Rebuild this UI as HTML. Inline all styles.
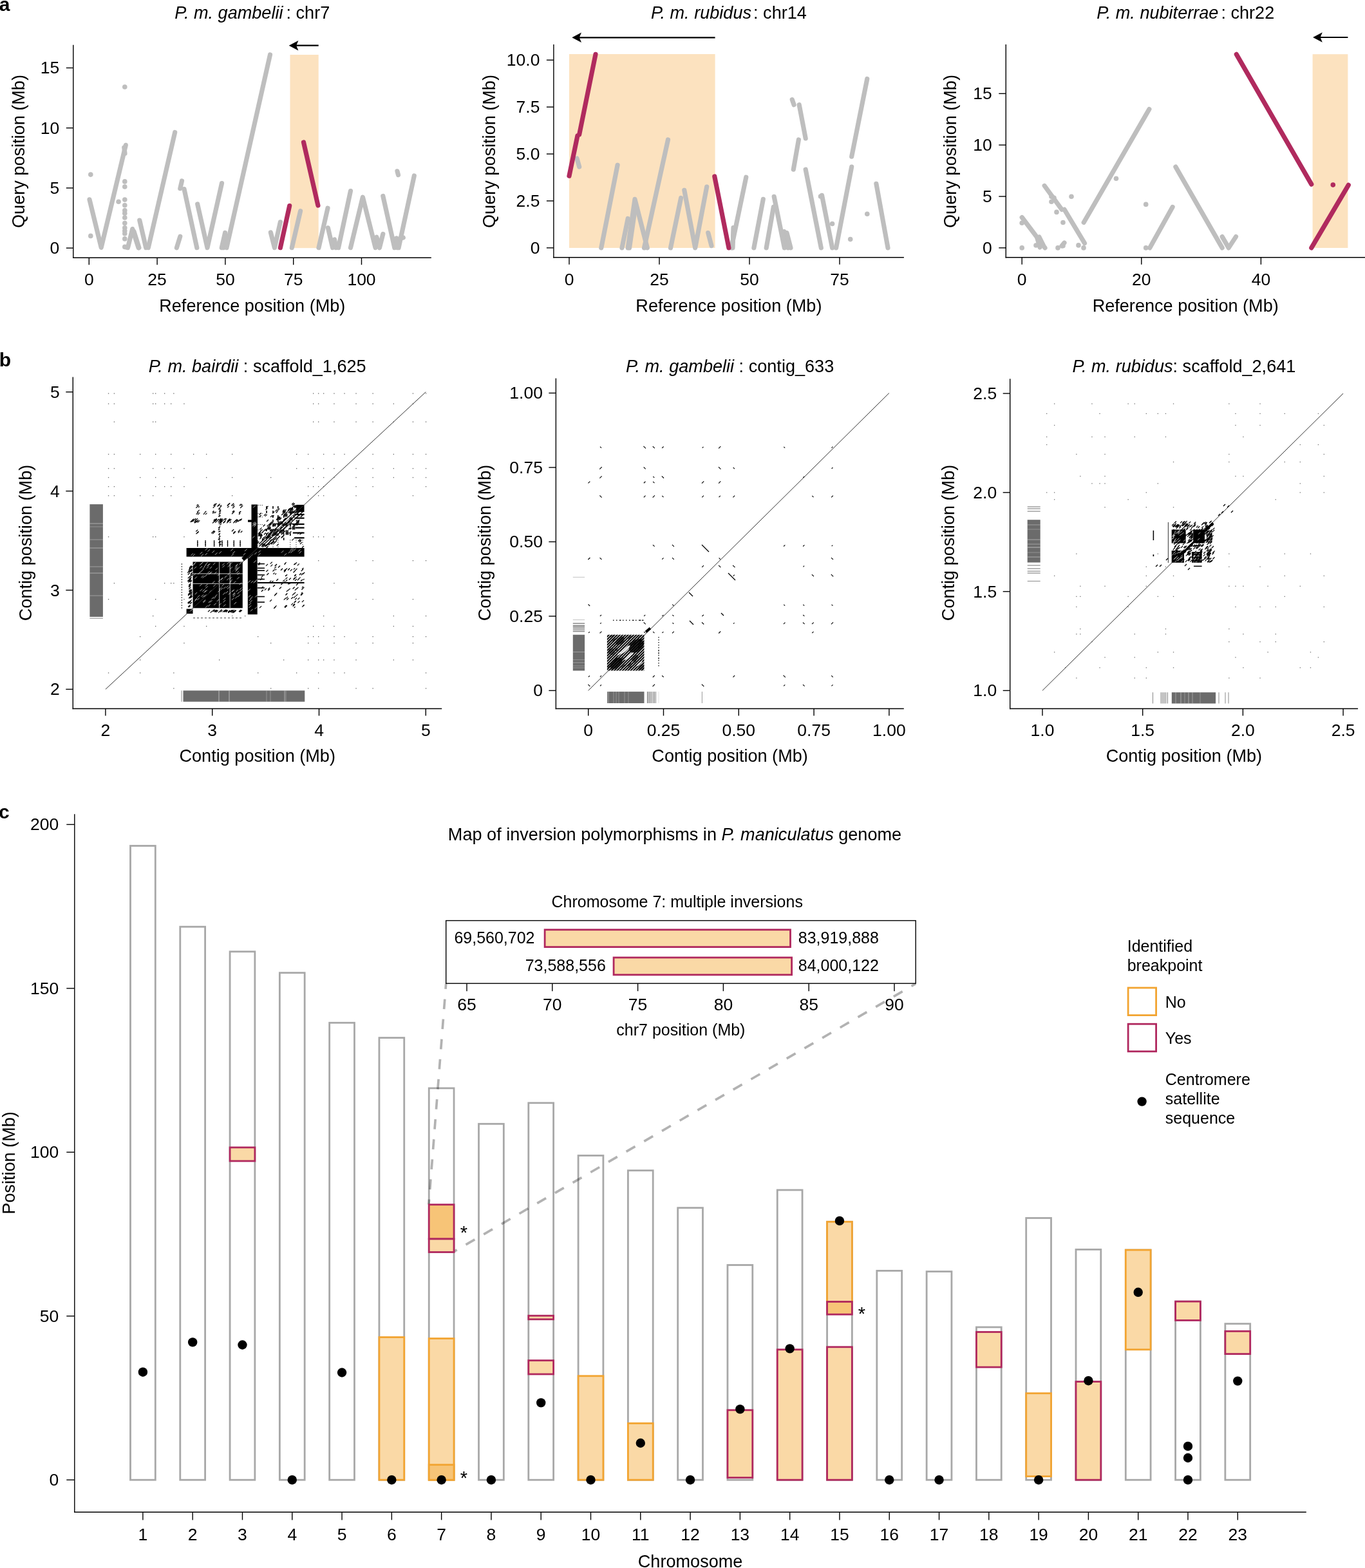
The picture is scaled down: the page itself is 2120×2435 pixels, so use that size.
<!DOCTYPE html>
<html><head><meta charset="utf-8"><title>Inversion polymorphisms figure</title>
<style>
html,body{margin:0;padding:0;background:#fff;}
svg{display:block;}
svg text{font-family:"Liberation Sans", Arial, Helvetica, sans-serif;fill:#000;}
</style></head>
<body>
<svg width="2120" height="2435" viewBox="0 0 2120 2435">
<rect x="0" y="0" width="2120" height="2435" fill="#fff"/>
<text x="-1.2" y="17.2" font-size="30" font-weight="bold">a</text>
<rect x="450.5" y="85" width="44.2" height="300.2" fill="#fce2bf" stroke="none" stroke-width="0"/>
<path d="M139,309.8 L157.2,384.4 L195.3,225.3" fill="none" stroke="#bebebe" stroke-width="7.2" stroke-linecap="round" stroke-linejoin="round"/>
<path d="M198.5,384.7 L205.7,355.6 L215,384.7" fill="none" stroke="#bebebe" stroke-width="7.2" stroke-linecap="round" stroke-linejoin="round"/>
<path d="M207.9,359.2 L215.9,384.7" fill="none" stroke="#bebebe" stroke-width="7.2" stroke-linecap="round" stroke-linejoin="round"/>
<path d="M216.8,342.1 L226.7,384.7" fill="none" stroke="#bebebe" stroke-width="7.2" stroke-linecap="round" stroke-linejoin="round"/>
<path d="M230.3,384.7 L271.7,205.5" fill="none" stroke="#bebebe" stroke-width="7.2" stroke-linecap="round" stroke-linejoin="round"/>
<path d="M274.4,384.7 L279.8,367.3" fill="none" stroke="#bebebe" stroke-width="7.2" stroke-linecap="round" stroke-linejoin="round"/>
<path d="M279.8,292.7 L282.5,281" fill="none" stroke="#bebebe" stroke-width="7.2" stroke-linecap="round" stroke-linejoin="round"/>
<path d="M286,293.6 L305.8,384.7" fill="none" stroke="#bebebe" stroke-width="7.2" stroke-linecap="round" stroke-linejoin="round"/>
<path d="M306.7,317 L322,384.7 L344.5,284.6" fill="none" stroke="#bebebe" stroke-width="7.2" stroke-linecap="round" stroke-linejoin="round"/>
<path d="M344.3,384.7 L349.6,361.5" fill="none" stroke="#bebebe" stroke-width="7.2" stroke-linecap="round" stroke-linejoin="round"/>
<path d="M346.8,384.7 L351,366" fill="none" stroke="#bebebe" stroke-width="7.2" stroke-linecap="round" stroke-linejoin="round"/>
<path d="M351.9,384.7 L419.5,85" fill="none" stroke="#bebebe" stroke-width="7.2" stroke-linecap="round" stroke-linejoin="round"/>
<path d="M420.4,361 L426.4,384.7 L435.4,344.8" fill="none" stroke="#bebebe" stroke-width="7.2" stroke-linecap="round" stroke-linejoin="round"/>
<path d="M453.3,384.7 L466.6,327.7" fill="none" stroke="#bebebe" stroke-width="7.2" stroke-linecap="round" stroke-linejoin="round"/>
<path d="M495,384.7 L509,323.2" fill="none" stroke="#bebebe" stroke-width="7.2" stroke-linecap="round" stroke-linejoin="round"/>
<path d="M509.4,353.8 L516.6,384.7" fill="none" stroke="#bebebe" stroke-width="7.2" stroke-linecap="round" stroke-linejoin="round"/>
<path d="M519.5,372 L522,384.7" fill="none" stroke="#bebebe" stroke-width="7.2" stroke-linecap="round" stroke-linejoin="round"/>
<path d="M525.6,384.7 L544.5,296.6" fill="none" stroke="#bebebe" stroke-width="7.2" stroke-linecap="round" stroke-linejoin="round"/>
<path d="M544.5,384.7 L563.4,306.2 L583.1,384.7" fill="none" stroke="#bebebe" stroke-width="7.2" stroke-linecap="round" stroke-linejoin="round"/>
<path d="M584.9,368.1 L589.5,384.7 L594.8,363.4" fill="none" stroke="#bebebe" stroke-width="7.2" stroke-linecap="round" stroke-linejoin="round"/>
<path d="M594.8,304.4 L612.8,384.7" fill="none" stroke="#bebebe" stroke-width="7.2" stroke-linecap="round" stroke-linejoin="round"/>
<path d="M619.1,384.7 L643.3,272.9" fill="none" stroke="#bebebe" stroke-width="7.2" stroke-linecap="round" stroke-linejoin="round"/>
<path d="M617,265.8 L618.5,271.7" fill="none" stroke="#bebebe" stroke-width="7.2" stroke-linecap="round" stroke-linejoin="round"/>
<path d="M615.5,370 L617.5,384.7" fill="none" stroke="#bebebe" stroke-width="7.2" stroke-linecap="round" stroke-linejoin="round"/>
<path d="M621,370.5 L626.3,369" fill="none" stroke="#bebebe" stroke-width="7.2" stroke-linecap="round" stroke-linejoin="round"/>
<path d="M192.8,229 L194,238.4" fill="none" stroke="#bebebe" stroke-width="7.2" stroke-linecap="round" stroke-linejoin="round"/>
<circle cx="193.8" cy="135" r="3.8" fill="#bebebe"/>
<circle cx="193.8" cy="281.9" r="3.8" fill="#bebebe"/>
<circle cx="193.8" cy="290" r="3.8" fill="#bebebe"/>
<circle cx="193.8" cy="310.1" r="3.8" fill="#bebebe"/>
<circle cx="193.8" cy="318.7" r="3.8" fill="#bebebe"/>
<circle cx="193.8" cy="326.8" r="3.8" fill="#bebebe"/>
<circle cx="193.8" cy="331.3" r="3.8" fill="#bebebe"/>
<circle cx="193.8" cy="346.6" r="3.8" fill="#bebebe"/>
<circle cx="193.8" cy="353.8" r="3.8" fill="#bebebe"/>
<circle cx="193.8" cy="362.8" r="3.8" fill="#bebebe"/>
<circle cx="193.8" cy="370.9" r="3.8" fill="#bebebe"/>
<circle cx="193.8" cy="383.4" r="3.8" fill="#bebebe"/>
<circle cx="193.8" cy="358.5" r="3.8" fill="#bebebe"/>
<circle cx="193.8" cy="338" r="3.8" fill="#bebebe"/>
<circle cx="140.8" cy="271.1" r="3.8" fill="#bebebe"/>
<circle cx="140.8" cy="366.4" r="3.8" fill="#bebebe"/>
<circle cx="184.1" cy="313.3" r="3.8" fill="#bebebe"/>
<circle cx="196.5" cy="384" r="3.8" fill="#bebebe"/>
<path d="M449.7,319.6 L435.4,384.7" fill="none" stroke="#b02a5e" stroke-width="7.2" stroke-linecap="round" stroke-linejoin="round"/>
<path d="M471.5,220.9 L493.9,319" fill="none" stroke="#b02a5e" stroke-width="7.2" stroke-linecap="round" stroke-linejoin="round"/>
<line x1="459.2" y1="70.7" x2="494.7" y2="70.7" stroke="#000" stroke-width="2.2" stroke-linecap="butt"/>
<path d="M448.7,70.7 L463.4,62.9 L460.2,70.7 L463.4,78.5 Z" fill="#000"/>
<line x1="113.8" y1="69.8" x2="113.8" y2="400.9" stroke="#000" stroke-width="1.4" stroke-linecap="butt"/>
<line x1="113.1" y1="400.2" x2="669.8" y2="400.2" stroke="#000" stroke-width="1.4" stroke-linecap="butt"/>
<line x1="102.8" y1="385.2" x2="113.8" y2="385.2" stroke="#000" stroke-width="1.4" stroke-linecap="butt"/>
<text x="92.3" y="394.2" font-size="26.5" text-anchor="end">0</text>
<line x1="102.8" y1="291.95" x2="113.8" y2="291.95" stroke="#000" stroke-width="1.4" stroke-linecap="butt"/>
<text x="92.3" y="300.95" font-size="26.5" text-anchor="end">5</text>
<line x1="102.8" y1="198.7" x2="113.8" y2="198.7" stroke="#000" stroke-width="1.4" stroke-linecap="butt"/>
<text x="92.3" y="207.7" font-size="26.5" text-anchor="end">10</text>
<line x1="102.8" y1="105.45" x2="113.8" y2="105.45" stroke="#000" stroke-width="1.4" stroke-linecap="butt"/>
<text x="92.3" y="114.45" font-size="26.5" text-anchor="end">15</text>
<line x1="138.3" y1="400.2" x2="138.3" y2="411.2" stroke="#000" stroke-width="1.4" stroke-linecap="butt"/>
<text x="138.3" y="443.4" font-size="26.5" text-anchor="middle">0</text>
<line x1="244.1" y1="400.2" x2="244.1" y2="411.2" stroke="#000" stroke-width="1.4" stroke-linecap="butt"/>
<text x="244.1" y="443.4" font-size="26.5" text-anchor="middle">25</text>
<line x1="349.9" y1="400.2" x2="349.9" y2="411.2" stroke="#000" stroke-width="1.4" stroke-linecap="butt"/>
<text x="349.9" y="443.4" font-size="26.5" text-anchor="middle">50</text>
<line x1="455.7" y1="400.2" x2="455.7" y2="411.2" stroke="#000" stroke-width="1.4" stroke-linecap="butt"/>
<text x="455.7" y="443.4" font-size="26.5" text-anchor="middle">75</text>
<line x1="561.5" y1="400.2" x2="561.5" y2="411.2" stroke="#000" stroke-width="1.4" stroke-linecap="butt"/>
<text x="561.5" y="443.4" font-size="26.5" text-anchor="middle">100</text>
<text transform="translate(37.5,235) rotate(-90)" x="0" y="0" font-size="27.1" text-anchor="middle">Query position (Mb)</text>
<text x="391.8" y="483.7" font-size="27.1" text-anchor="middle">Reference position (Mb)</text>
<text x="391.8" y="29.3" font-size="27.1" text-anchor="middle"><tspan font-style="italic">P. m. gambelii</tspan><tspan dx="5">: chr7</tspan></text>
<rect x="884" y="84" width="226.6" height="301" fill="#fce2bf" stroke="none" stroke-width="0"/>
<path d="M896,246 L899.7,259" fill="none" stroke="#bebebe" stroke-width="7.2" stroke-linecap="round" stroke-linejoin="round"/>
<path d="M933.8,384.9 L959.1,256.3" fill="none" stroke="#bebebe" stroke-width="7.2" stroke-linecap="round" stroke-linejoin="round"/>
<path d="M966,384.9 L975.2,339.5" fill="none" stroke="#bebebe" stroke-width="7.2" stroke-linecap="round" stroke-linejoin="round"/>
<path d="M975.2,384.9 L986,309.4 L1005.3,384.9" fill="none" stroke="#bebebe" stroke-width="7.2" stroke-linecap="round" stroke-linejoin="round"/>
<path d="M977.5,384.9 L985.5,330" fill="none" stroke="#bebebe" stroke-width="7.2" stroke-linecap="round" stroke-linejoin="round"/>
<path d="M1000.5,384.9 L1037.5,217" fill="none" stroke="#bebebe" stroke-width="7.2" stroke-linecap="round" stroke-linejoin="round"/>
<path d="M1041.5,384.9 L1057.6,307.4" fill="none" stroke="#bebebe" stroke-width="7.2" stroke-linecap="round" stroke-linejoin="round"/>
<path d="M1062.8,295.3 L1079.7,384.9 L1097.7,290.1" fill="none" stroke="#bebebe" stroke-width="7.2" stroke-linecap="round" stroke-linejoin="round"/>
<path d="M1099.8,361.6 L1105,381.7" fill="none" stroke="#bebebe" stroke-width="7.2" stroke-linecap="round" stroke-linejoin="round"/>
<path d="M1135.9,384.9 L1158.8,275.2" fill="none" stroke="#bebebe" stroke-width="7.2" stroke-linecap="round" stroke-linejoin="round"/>
<path d="M1138,384.9 L1139,353.6" fill="none" stroke="#bebebe" stroke-width="7.2" stroke-linecap="round" stroke-linejoin="round"/>
<path d="M1170.9,384.9 L1185.3,309.4" fill="none" stroke="#bebebe" stroke-width="7.2" stroke-linecap="round" stroke-linejoin="round"/>
<path d="M1190.2,384.9 L1201.4,321.4" fill="none" stroke="#bebebe" stroke-width="7.2" stroke-linecap="round" stroke-linejoin="round"/>
<path d="M1202.2,305.3 L1218.3,384.9" fill="none" stroke="#bebebe" stroke-width="7.2" stroke-linecap="round" stroke-linejoin="round"/>
<path d="M1218,359.6 L1224,384.9" fill="none" stroke="#bebebe" stroke-width="7.2" stroke-linecap="round" stroke-linejoin="round"/>
<path d="M1222,361.6 L1228,384.9" fill="none" stroke="#bebebe" stroke-width="7.2" stroke-linecap="round" stroke-linejoin="round"/>
<path d="M1230.3,154.7 L1233.1,162.7" fill="none" stroke="#bebebe" stroke-width="7.2" stroke-linecap="round" stroke-linejoin="round"/>
<path d="M1241.2,162.7 L1251.2,214.9" fill="none" stroke="#bebebe" stroke-width="7.2" stroke-linecap="round" stroke-linejoin="round"/>
<path d="M1240.4,217 L1232.3,263.2" fill="none" stroke="#bebebe" stroke-width="7.2" stroke-linecap="round" stroke-linejoin="round"/>
<path d="M1251.2,263.2 L1275.3,384.9" fill="none" stroke="#bebebe" stroke-width="7.2" stroke-linecap="round" stroke-linejoin="round"/>
<path d="M1276.5,303.3 L1292.6,384.9" fill="none" stroke="#bebebe" stroke-width="7.2" stroke-linecap="round" stroke-linejoin="round"/>
<path d="M1298.6,384.9 L1322.7,259.1" fill="none" stroke="#bebebe" stroke-width="7.2" stroke-linecap="round" stroke-linejoin="round"/>
<path d="M1322.7,243.1 L1346.8,122.5" fill="none" stroke="#bebebe" stroke-width="7.2" stroke-linecap="round" stroke-linejoin="round"/>
<path d="M1360.9,285.3 L1379,384.9" fill="none" stroke="#bebebe" stroke-width="7.2" stroke-linecap="round" stroke-linejoin="round"/>
<circle cx="1292.6" cy="347.5" r="3.8" fill="#bebebe"/>
<circle cx="1320.7" cy="371.6" r="3.8" fill="#bebebe"/>
<circle cx="1346.8" cy="332.3" r="3.8" fill="#bebebe"/>
<circle cx="1274.5" cy="305" r="3.8" fill="#bebebe"/>
<path d="M884,273.2 L896.9,210.9" fill="none" stroke="#b02a5e" stroke-width="7.2" stroke-linecap="round" stroke-linejoin="round"/>
<path d="M899.7,208.9 L925,84.4" fill="none" stroke="#b02a5e" stroke-width="7.2" stroke-linecap="round" stroke-linejoin="round"/>
<path d="M1109.8,274 L1131.9,384.9" fill="none" stroke="#b02a5e" stroke-width="7.2" stroke-linecap="round" stroke-linejoin="round"/>
<line x1="898.8" y1="58.3" x2="1110.6" y2="58.3" stroke="#000" stroke-width="2.2" stroke-linecap="butt"/>
<path d="M888.3,58.3 L903,50.5 L899.8,58.3 L903,66.1 Z" fill="#000"/>
<line x1="859.9" y1="69.1" x2="859.9" y2="400.5" stroke="#000" stroke-width="1.4" stroke-linecap="butt"/>
<line x1="859.2" y1="399.8" x2="1403.9" y2="399.8" stroke="#000" stroke-width="1.4" stroke-linecap="butt"/>
<line x1="848.9" y1="384.9" x2="859.9" y2="384.9" stroke="#000" stroke-width="1.4" stroke-linecap="butt"/>
<text x="838.4" y="393.9" font-size="26.5" text-anchor="end">0</text>
<line x1="848.9" y1="312" x2="859.9" y2="312" stroke="#000" stroke-width="1.4" stroke-linecap="butt"/>
<text x="838.4" y="321" font-size="26.5" text-anchor="end">2.5</text>
<line x1="848.9" y1="239.1" x2="859.9" y2="239.1" stroke="#000" stroke-width="1.4" stroke-linecap="butt"/>
<text x="838.4" y="248.1" font-size="26.5" text-anchor="end">5.0</text>
<line x1="848.9" y1="166.2" x2="859.9" y2="166.2" stroke="#000" stroke-width="1.4" stroke-linecap="butt"/>
<text x="838.4" y="175.2" font-size="26.5" text-anchor="end">7.5</text>
<line x1="848.9" y1="93.3" x2="859.9" y2="93.3" stroke="#000" stroke-width="1.4" stroke-linecap="butt"/>
<text x="838.4" y="102.3" font-size="26.5" text-anchor="end">10.0</text>
<line x1="884" y1="399.8" x2="884" y2="410.8" stroke="#000" stroke-width="1.4" stroke-linecap="butt"/>
<text x="884" y="443" font-size="26.5" text-anchor="middle">0</text>
<line x1="1024" y1="399.8" x2="1024" y2="410.8" stroke="#000" stroke-width="1.4" stroke-linecap="butt"/>
<text x="1024" y="443" font-size="26.5" text-anchor="middle">25</text>
<line x1="1164" y1="399.8" x2="1164" y2="410.8" stroke="#000" stroke-width="1.4" stroke-linecap="butt"/>
<text x="1164" y="443" font-size="26.5" text-anchor="middle">50</text>
<line x1="1304" y1="399.8" x2="1304" y2="410.8" stroke="#000" stroke-width="1.4" stroke-linecap="butt"/>
<text x="1304" y="443" font-size="26.5" text-anchor="middle">75</text>
<text transform="translate(768.8,235) rotate(-90)" x="0" y="0" font-size="27.1" text-anchor="middle">Query position (Mb)</text>
<text x="1131.9" y="483.7" font-size="27.1" text-anchor="middle">Reference position (Mb)</text>
<text x="1131.9" y="29.3" font-size="27.1" text-anchor="middle"><tspan font-style="italic">P. m. rubidus</tspan><tspan dx="3">: chr14</tspan></text>
<rect x="2038.6" y="84.2" width="54.8" height="300.8" fill="#fce2bf" stroke="none" stroke-width="0"/>
<path d="M1587.2,337.5 L1623,384.9" fill="none" stroke="#bebebe" stroke-width="7.2" stroke-linecap="round" stroke-linejoin="round"/>
<path d="M1611,370 L1615,384" fill="none" stroke="#bebebe" stroke-width="7.2" stroke-linecap="round" stroke-linejoin="round"/>
<path d="M1614,368 L1620,380" fill="none" stroke="#bebebe" stroke-width="7.2" stroke-linecap="round" stroke-linejoin="round"/>
<path d="M1622.2,288.5 L1649.1,325.4" fill="none" stroke="#bebebe" stroke-width="7.2" stroke-linecap="round" stroke-linejoin="round"/>
<path d="M1653.1,325.4 L1684.5,377.7" fill="none" stroke="#bebebe" stroke-width="7.2" stroke-linecap="round" stroke-linejoin="round"/>
<path d="M1683.2,345.5 L1784.9,169.5" fill="none" stroke="#bebebe" stroke-width="7.2" stroke-linecap="round" stroke-linejoin="round"/>
<path d="M1785.7,384.9 L1821.1,321.4" fill="none" stroke="#bebebe" stroke-width="7.2" stroke-linecap="round" stroke-linejoin="round"/>
<path d="M1825.9,259.1 L1898.2,384.9" fill="none" stroke="#bebebe" stroke-width="7.2" stroke-linecap="round" stroke-linejoin="round"/>
<path d="M1898.2,367.6 L1908.2,384.9 L1919.5,367.6" fill="none" stroke="#bebebe" stroke-width="7.2" stroke-linecap="round" stroke-linejoin="round"/>
<path d="M1649,382 L1653,377" fill="none" stroke="#bebebe" stroke-width="7.2" stroke-linecap="round" stroke-linejoin="round"/>
<circle cx="1587.2" cy="346.3" r="3.8" fill="#bebebe"/>
<circle cx="1587.2" cy="384.9" r="3.8" fill="#bebebe"/>
<circle cx="1633" cy="305.3" r="3.8" fill="#bebebe"/>
<circle cx="1637" cy="307.3" r="3.8" fill="#bebebe"/>
<circle cx="1633" cy="313.3" r="3.8" fill="#bebebe"/>
<circle cx="1641" cy="329.4" r="3.8" fill="#bebebe"/>
<circle cx="1651" cy="345.5" r="3.8" fill="#bebebe"/>
<circle cx="1664" cy="305.3" r="3.8" fill="#bebebe"/>
<circle cx="1643" cy="384.9" r="3.8" fill="#bebebe"/>
<circle cx="1651" cy="381.7" r="3.8" fill="#bebebe"/>
<circle cx="1675" cy="380.9" r="3.8" fill="#bebebe"/>
<circle cx="1683" cy="384.9" r="3.8" fill="#bebebe"/>
<circle cx="1733.5" cy="277.2" r="3.8" fill="#bebebe"/>
<circle cx="1779.7" cy="317.4" r="3.8" fill="#bebebe"/>
<circle cx="1779.7" cy="384.9" r="3.8" fill="#bebebe"/>
<circle cx="1609" cy="381" r="3.8" fill="#bebebe"/>
<path d="M1920.3,84.4 L2036.8,286.1" fill="none" stroke="#b02a5e" stroke-width="7.2" stroke-linecap="round" stroke-linejoin="round"/>
<path d="M2036.8,384.9 L2094.3,287.3" fill="none" stroke="#b02a5e" stroke-width="7.2" stroke-linecap="round" stroke-linejoin="round"/>
<circle cx="2070.3" cy="287.1" r="3.8" fill="#b02a5e"/>
<line x1="2049.6" y1="58" x2="2093.4" y2="58" stroke="#000" stroke-width="2.2" stroke-linecap="butt"/>
<path d="M2039.1,58 L2053.8,50.2 L2050.6,58 L2053.8,65.8 Z" fill="#000"/>
<line x1="1562.3" y1="69.1" x2="1562.3" y2="400.5" stroke="#000" stroke-width="1.4" stroke-linecap="butt"/>
<line x1="1561.6" y1="399.8" x2="2120" y2="399.8" stroke="#000" stroke-width="1.4" stroke-linecap="butt"/>
<line x1="1551.3" y1="384.9" x2="1562.3" y2="384.9" stroke="#000" stroke-width="1.4" stroke-linecap="butt"/>
<text x="1540.8" y="393.9" font-size="26.5" text-anchor="end">0</text>
<line x1="1551.3" y1="305.05" x2="1562.3" y2="305.05" stroke="#000" stroke-width="1.4" stroke-linecap="butt"/>
<text x="1540.8" y="314.05" font-size="26.5" text-anchor="end">5</text>
<line x1="1551.3" y1="225.2" x2="1562.3" y2="225.2" stroke="#000" stroke-width="1.4" stroke-linecap="butt"/>
<text x="1540.8" y="234.2" font-size="26.5" text-anchor="end">10</text>
<line x1="1551.3" y1="145.35" x2="1562.3" y2="145.35" stroke="#000" stroke-width="1.4" stroke-linecap="butt"/>
<text x="1540.8" y="154.35" font-size="26.5" text-anchor="end">15</text>
<line x1="1587.2" y1="399.8" x2="1587.2" y2="410.8" stroke="#000" stroke-width="1.4" stroke-linecap="butt"/>
<text x="1587.2" y="443" font-size="26.5" text-anchor="middle">0</text>
<line x1="1772.8" y1="399.8" x2="1772.8" y2="410.8" stroke="#000" stroke-width="1.4" stroke-linecap="butt"/>
<text x="1772.8" y="443" font-size="26.5" text-anchor="middle">20</text>
<line x1="1958.4" y1="399.8" x2="1958.4" y2="410.8" stroke="#000" stroke-width="1.4" stroke-linecap="butt"/>
<text x="1958.4" y="443" font-size="26.5" text-anchor="middle">40</text>
<text transform="translate(1484.9,235) rotate(-90)" x="0" y="0" font-size="27.1" text-anchor="middle">Query position (Mb)</text>
<text x="1841.2" y="483.7" font-size="27.1" text-anchor="middle">Reference position (Mb)</text>
<text x="1841.2" y="29.3" font-size="27.1" text-anchor="middle"><tspan font-style="italic">P. m. nubiterrae</tspan><tspan dx="4">: chr22</tspan></text>
<text x="-1.2" y="568.6" font-size="30" font-weight="bold">b</text>
<rect x="167.9" y="610.4" width="1.3" height="1.3" fill="#000" opacity="0.6"/>
<rect x="167.9" y="626.4" width="1.3" height="1.3" fill="#000" opacity="0.6"/>
<rect x="167.9" y="704.8" width="1.3" height="1.3" fill="#000" opacity="0.6"/>
<rect x="167.9" y="726.9" width="1.3" height="1.3" fill="#000" opacity="0.6"/>
<rect x="167.9" y="740.9" width="1.3" height="1.3" fill="#000" opacity="0.6"/>
<rect x="167.9" y="755" width="1.3" height="1.3" fill="#000" opacity="0.6"/>
<rect x="167.9" y="769.1" width="1.3" height="1.3" fill="#000" opacity="0.6"/>
<rect x="176.8" y="610.4" width="1.3" height="1.3" fill="#000" opacity="0.6"/>
<rect x="176.8" y="626.4" width="1.3" height="1.3" fill="#000" opacity="0.6"/>
<rect x="176.8" y="654.5" width="1.3" height="1.3" fill="#000" opacity="0.6"/>
<rect x="176.8" y="704.8" width="1.3" height="1.3" fill="#000" opacity="0.6"/>
<rect x="176.8" y="726.9" width="1.3" height="1.3" fill="#000" opacity="0.6"/>
<rect x="176.8" y="755" width="1.3" height="1.3" fill="#000" opacity="0.6"/>
<rect x="176.8" y="769.1" width="1.3" height="1.3" fill="#000" opacity="0.6"/>
<rect x="217" y="704.8" width="1.3" height="1.3" fill="#000" opacity="0.6"/>
<rect x="217" y="740.9" width="1.3" height="1.3" fill="#000" opacity="0.6"/>
<rect x="217" y="769.1" width="1.3" height="1.3" fill="#000" opacity="0.6"/>
<rect x="237" y="610.4" width="1.3" height="1.3" fill="#000" opacity="0.6"/>
<rect x="237" y="626.4" width="1.3" height="1.3" fill="#000" opacity="0.6"/>
<rect x="237" y="654.5" width="1.3" height="1.3" fill="#000" opacity="0.6"/>
<rect x="237" y="726.9" width="1.3" height="1.3" fill="#000" opacity="0.6"/>
<rect x="237" y="769.1" width="1.3" height="1.3" fill="#000" opacity="0.6"/>
<rect x="241" y="610.4" width="1.3" height="1.3" fill="#000" opacity="0.6"/>
<rect x="241" y="626.4" width="1.3" height="1.3" fill="#000" opacity="0.6"/>
<rect x="241" y="654.5" width="1.3" height="1.3" fill="#000" opacity="0.6"/>
<rect x="241" y="704.8" width="1.3" height="1.3" fill="#000" opacity="0.6"/>
<rect x="241" y="740.9" width="1.3" height="1.3" fill="#000" opacity="0.6"/>
<rect x="241" y="755" width="1.3" height="1.3" fill="#000" opacity="0.6"/>
<rect x="255" y="610.4" width="1.3" height="1.3" fill="#000" opacity="0.6"/>
<rect x="255" y="626.4" width="1.3" height="1.3" fill="#000" opacity="0.6"/>
<rect x="255" y="726.9" width="1.3" height="1.3" fill="#000" opacity="0.6"/>
<rect x="255" y="755" width="1.3" height="1.3" fill="#000" opacity="0.6"/>
<rect x="265" y="626.4" width="1.3" height="1.3" fill="#000" opacity="0.6"/>
<rect x="265" y="704.8" width="1.3" height="1.3" fill="#000" opacity="0.6"/>
<rect x="265" y="726.9" width="1.3" height="1.3" fill="#000" opacity="0.6"/>
<rect x="265" y="755" width="1.3" height="1.3" fill="#000" opacity="0.6"/>
<rect x="265" y="769.1" width="1.3" height="1.3" fill="#000" opacity="0.6"/>
<rect x="269.2" y="610.4" width="1.3" height="1.3" fill="#000" opacity="0.6"/>
<rect x="269.2" y="740.9" width="1.3" height="1.3" fill="#000" opacity="0.6"/>
<rect x="285.3" y="626.4" width="1.3" height="1.3" fill="#000" opacity="0.6"/>
<rect x="285.3" y="726.9" width="1.3" height="1.3" fill="#000" opacity="0.6"/>
<rect x="285.3" y="755" width="1.3" height="1.3" fill="#000" opacity="0.6"/>
<rect x="478" y="704.8" width="1.3" height="1.3" fill="#000" opacity="0.6"/>
<rect x="478" y="726.9" width="1.3" height="1.3" fill="#000" opacity="0.6"/>
<rect x="478" y="755" width="1.3" height="1.3" fill="#000" opacity="0.6"/>
<rect x="478" y="769.1" width="1.3" height="1.3" fill="#000" opacity="0.6"/>
<rect x="486" y="610.4" width="1.3" height="1.3" fill="#000" opacity="0.6"/>
<rect x="486" y="626.4" width="1.3" height="1.3" fill="#000" opacity="0.6"/>
<rect x="486" y="654.5" width="1.3" height="1.3" fill="#000" opacity="0.6"/>
<rect x="486" y="726.9" width="1.3" height="1.3" fill="#000" opacity="0.6"/>
<rect x="486" y="740.9" width="1.3" height="1.3" fill="#000" opacity="0.6"/>
<rect x="486" y="755" width="1.3" height="1.3" fill="#000" opacity="0.6"/>
<rect x="494" y="610.4" width="1.3" height="1.3" fill="#000" opacity="0.6"/>
<rect x="494" y="626.4" width="1.3" height="1.3" fill="#000" opacity="0.6"/>
<rect x="494" y="654.5" width="1.3" height="1.3" fill="#000" opacity="0.6"/>
<rect x="494" y="755" width="1.3" height="1.3" fill="#000" opacity="0.6"/>
<rect x="494" y="769.1" width="1.3" height="1.3" fill="#000" opacity="0.6"/>
<rect x="502" y="610.4" width="1.3" height="1.3" fill="#000" opacity="0.6"/>
<rect x="502" y="704.8" width="1.3" height="1.3" fill="#000" opacity="0.6"/>
<rect x="502" y="726.9" width="1.3" height="1.3" fill="#000" opacity="0.6"/>
<rect x="502" y="740.9" width="1.3" height="1.3" fill="#000" opacity="0.6"/>
<rect x="502" y="755" width="1.3" height="1.3" fill="#000" opacity="0.6"/>
<rect x="502" y="769.1" width="1.3" height="1.3" fill="#000" opacity="0.6"/>
<rect x="518.3" y="610.4" width="1.3" height="1.3" fill="#000" opacity="0.6"/>
<rect x="518.3" y="626.4" width="1.3" height="1.3" fill="#000" opacity="0.6"/>
<rect x="518.3" y="654.5" width="1.3" height="1.3" fill="#000" opacity="0.6"/>
<rect x="518.3" y="704.8" width="1.3" height="1.3" fill="#000" opacity="0.6"/>
<rect x="518.3" y="726.9" width="1.3" height="1.3" fill="#000" opacity="0.6"/>
<rect x="518.3" y="740.9" width="1.3" height="1.3" fill="#000" opacity="0.6"/>
<rect x="534.4" y="610.4" width="1.3" height="1.3" fill="#000" opacity="0.6"/>
<rect x="534.4" y="704.8" width="1.3" height="1.3" fill="#000" opacity="0.6"/>
<rect x="552.4" y="610.4" width="1.3" height="1.3" fill="#000" opacity="0.6"/>
<rect x="552.4" y="626.4" width="1.3" height="1.3" fill="#000" opacity="0.6"/>
<rect x="552.4" y="654.5" width="1.3" height="1.3" fill="#000" opacity="0.6"/>
<rect x="552.4" y="726.9" width="1.3" height="1.3" fill="#000" opacity="0.6"/>
<rect x="552.4" y="740.9" width="1.3" height="1.3" fill="#000" opacity="0.6"/>
<rect x="552.4" y="755" width="1.3" height="1.3" fill="#000" opacity="0.6"/>
<rect x="552.4" y="769.1" width="1.3" height="1.3" fill="#000" opacity="0.6"/>
<rect x="578.5" y="610.4" width="1.3" height="1.3" fill="#000" opacity="0.6"/>
<rect x="578.5" y="626.4" width="1.3" height="1.3" fill="#000" opacity="0.6"/>
<rect x="578.5" y="654.5" width="1.3" height="1.3" fill="#000" opacity="0.6"/>
<rect x="578.5" y="704.8" width="1.3" height="1.3" fill="#000" opacity="0.6"/>
<rect x="578.5" y="726.9" width="1.3" height="1.3" fill="#000" opacity="0.6"/>
<rect x="578.5" y="740.9" width="1.3" height="1.3" fill="#000" opacity="0.6"/>
<rect x="578.5" y="755" width="1.3" height="1.3" fill="#000" opacity="0.6"/>
<rect x="610.7" y="626.4" width="1.3" height="1.3" fill="#000" opacity="0.6"/>
<rect x="610.7" y="654.5" width="1.3" height="1.3" fill="#000" opacity="0.6"/>
<rect x="610.7" y="704.8" width="1.3" height="1.3" fill="#000" opacity="0.6"/>
<rect x="610.7" y="726.9" width="1.3" height="1.3" fill="#000" opacity="0.6"/>
<rect x="610.7" y="740.9" width="1.3" height="1.3" fill="#000" opacity="0.6"/>
<rect x="640.8" y="610.4" width="1.3" height="1.3" fill="#000" opacity="0.6"/>
<rect x="640.8" y="626.4" width="1.3" height="1.3" fill="#000" opacity="0.6"/>
<rect x="640.8" y="654.5" width="1.3" height="1.3" fill="#000" opacity="0.6"/>
<rect x="640.8" y="704.8" width="1.3" height="1.3" fill="#000" opacity="0.6"/>
<rect x="640.8" y="726.9" width="1.3" height="1.3" fill="#000" opacity="0.6"/>
<rect x="640.8" y="740.9" width="1.3" height="1.3" fill="#000" opacity="0.6"/>
<rect x="640.8" y="769.1" width="1.3" height="1.3" fill="#000" opacity="0.6"/>
<rect x="660.9" y="610.4" width="1.3" height="1.3" fill="#000" opacity="0.6"/>
<rect x="660.9" y="654.5" width="1.3" height="1.3" fill="#000" opacity="0.6"/>
<rect x="660.9" y="704.8" width="1.3" height="1.3" fill="#000" opacity="0.6"/>
<rect x="660.9" y="726.9" width="1.3" height="1.3" fill="#000" opacity="0.6"/>
<rect x="660.9" y="740.9" width="1.3" height="1.3" fill="#000" opacity="0.6"/>
<rect x="660.9" y="755" width="1.3" height="1.3" fill="#000" opacity="0.6"/>
<rect x="478" y="988" width="1.3" height="1.3" fill="#000" opacity="0.6"/>
<rect x="478" y="998" width="1.3" height="1.3" fill="#000" opacity="0.6"/>
<rect x="478" y="1024.2" width="1.3" height="1.3" fill="#000" opacity="0.6"/>
<rect x="478" y="1068.4" width="1.3" height="1.3" fill="#000" opacity="0.6"/>
<rect x="486" y="971.9" width="1.3" height="1.3" fill="#000" opacity="0.6"/>
<rect x="486" y="988" width="1.3" height="1.3" fill="#000" opacity="0.6"/>
<rect x="494" y="988" width="1.3" height="1.3" fill="#000" opacity="0.6"/>
<rect x="494" y="998" width="1.3" height="1.3" fill="#000" opacity="0.6"/>
<rect x="494" y="1024.2" width="1.3" height="1.3" fill="#000" opacity="0.6"/>
<rect x="494" y="1044.3" width="1.3" height="1.3" fill="#000" opacity="0.6"/>
<rect x="494" y="1068.4" width="1.3" height="1.3" fill="#000" opacity="0.6"/>
<rect x="502" y="955.9" width="1.3" height="1.3" fill="#000" opacity="0.6"/>
<rect x="502" y="971.9" width="1.3" height="1.3" fill="#000" opacity="0.6"/>
<rect x="502" y="1024.2" width="1.3" height="1.3" fill="#000" opacity="0.6"/>
<rect x="518.3" y="971.9" width="1.3" height="1.3" fill="#000" opacity="0.6"/>
<rect x="518.3" y="988" width="1.3" height="1.3" fill="#000" opacity="0.6"/>
<rect x="518.3" y="998" width="1.3" height="1.3" fill="#000" opacity="0.6"/>
<rect x="518.3" y="1024.2" width="1.3" height="1.3" fill="#000" opacity="0.6"/>
<rect x="518.3" y="1044.3" width="1.3" height="1.3" fill="#000" opacity="0.6"/>
<rect x="534.4" y="988" width="1.3" height="1.3" fill="#000" opacity="0.6"/>
<rect x="534.4" y="1044.3" width="1.3" height="1.3" fill="#000" opacity="0.6"/>
<rect x="552.4" y="998" width="1.3" height="1.3" fill="#000" opacity="0.6"/>
<rect x="552.4" y="1024.2" width="1.3" height="1.3" fill="#000" opacity="0.6"/>
<rect x="552.4" y="1068.4" width="1.3" height="1.3" fill="#000" opacity="0.6"/>
<rect x="578.5" y="988" width="1.3" height="1.3" fill="#000" opacity="0.6"/>
<rect x="578.5" y="998" width="1.3" height="1.3" fill="#000" opacity="0.6"/>
<rect x="578.5" y="1068.4" width="1.3" height="1.3" fill="#000" opacity="0.6"/>
<rect x="610.7" y="955.9" width="1.3" height="1.3" fill="#000" opacity="0.6"/>
<rect x="610.7" y="971.9" width="1.3" height="1.3" fill="#000" opacity="0.6"/>
<rect x="610.7" y="1024.2" width="1.3" height="1.3" fill="#000" opacity="0.6"/>
<rect x="640.8" y="971.9" width="1.3" height="1.3" fill="#000" opacity="0.6"/>
<rect x="640.8" y="988" width="1.3" height="1.3" fill="#000" opacity="0.6"/>
<rect x="640.8" y="998" width="1.3" height="1.3" fill="#000" opacity="0.6"/>
<rect x="640.8" y="1024.2" width="1.3" height="1.3" fill="#000" opacity="0.6"/>
<rect x="660.9" y="955.9" width="1.3" height="1.3" fill="#000" opacity="0.6"/>
<rect x="660.9" y="988" width="1.3" height="1.3" fill="#000" opacity="0.6"/>
<rect x="660.9" y="1044.3" width="1.3" height="1.3" fill="#000" opacity="0.6"/>
<rect x="660.9" y="1068.4" width="1.3" height="1.3" fill="#000" opacity="0.6"/>
<rect x="167.9" y="1044.3" width="1.3" height="1.3" fill="#000" opacity="0.6"/>
<rect x="217" y="988" width="1.3" height="1.3" fill="#000" opacity="0.6"/>
<rect x="217" y="1024.2" width="1.3" height="1.3" fill="#000" opacity="0.6"/>
<rect x="217" y="1044.3" width="1.3" height="1.3" fill="#000" opacity="0.6"/>
<rect x="237" y="955.9" width="1.3" height="1.3" fill="#000" opacity="0.6"/>
<rect x="241" y="971.9" width="1.3" height="1.3" fill="#000" opacity="0.6"/>
<rect x="269.2" y="1044.3" width="1.3" height="1.3" fill="#000" opacity="0.6"/>
<rect x="269.2" y="1068.4" width="1.3" height="1.3" fill="#000" opacity="0.6"/>
<rect x="285.3" y="971.9" width="1.3" height="1.3" fill="#000" opacity="0.6"/>
<rect x="285.3" y="998" width="1.3" height="1.3" fill="#000" opacity="0.6"/>
<rect x="167.9" y="833" width="1.3" height="1.3" fill="#000" opacity="0.6"/>
<rect x="167.9" y="930" width="1.3" height="1.3" fill="#000" opacity="0.6"/>
<rect x="176.8" y="905" width="1.3" height="1.3" fill="#000" opacity="0.6"/>
<rect x="237" y="833" width="1.3" height="1.3" fill="#000" opacity="0.6"/>
<rect x="241" y="833" width="1.3" height="1.3" fill="#000" opacity="0.6"/>
<rect x="241" y="930" width="1.3" height="1.3" fill="#000" opacity="0.6"/>
<rect x="255" y="905" width="1.3" height="1.3" fill="#000" opacity="0.6"/>
<rect x="265" y="905" width="1.3" height="1.3" fill="#000" opacity="0.6"/>
<rect x="269.2" y="905" width="1.3" height="1.3" fill="#000" opacity="0.6"/>
<rect x="285.3" y="833" width="1.3" height="1.3" fill="#000" opacity="0.6"/>
<rect x="285.3" y="930" width="1.3" height="1.3" fill="#000" opacity="0.6"/>
<rect x="486" y="833" width="1.3" height="1.3" fill="#000" opacity="0.6"/>
<rect x="494" y="833" width="1.3" height="1.3" fill="#000" opacity="0.6"/>
<rect x="494" y="870" width="1.3" height="1.3" fill="#000" opacity="0.6"/>
<rect x="502" y="833" width="1.3" height="1.3" fill="#000" opacity="0.6"/>
<rect x="518.3" y="833" width="1.3" height="1.3" fill="#000" opacity="0.6"/>
<rect x="518.3" y="905" width="1.3" height="1.3" fill="#000" opacity="0.6"/>
<rect x="552.4" y="870" width="1.3" height="1.3" fill="#000" opacity="0.6"/>
<rect x="552.4" y="930" width="1.3" height="1.3" fill="#000" opacity="0.6"/>
<rect x="578.5" y="833" width="1.3" height="1.3" fill="#000" opacity="0.6"/>
<rect x="578.5" y="870" width="1.3" height="1.3" fill="#000" opacity="0.6"/>
<rect x="578.5" y="905" width="1.3" height="1.3" fill="#000" opacity="0.6"/>
<rect x="578.5" y="930" width="1.3" height="1.3" fill="#000" opacity="0.6"/>
<rect x="640.8" y="870" width="1.3" height="1.3" fill="#000" opacity="0.6"/>
<rect x="640.8" y="930" width="1.3" height="1.3" fill="#000" opacity="0.6"/>
<rect x="660.9" y="870" width="1.3" height="1.3" fill="#000" opacity="0.6"/>
<rect x="300" y="704.8" width="1.3" height="1.3" fill="#000" opacity="0.6"/>
<rect x="320" y="704.8" width="1.3" height="1.3" fill="#000" opacity="0.6"/>
<rect x="320" y="740.9" width="1.3" height="1.3" fill="#000" opacity="0.6"/>
<rect x="320" y="971.9" width="1.3" height="1.3" fill="#000" opacity="0.6"/>
<rect x="340" y="1024.2" width="1.3" height="1.3" fill="#000" opacity="0.6"/>
<rect x="360" y="704.8" width="1.3" height="1.3" fill="#000" opacity="0.6"/>
<rect x="360" y="740.9" width="1.3" height="1.3" fill="#000" opacity="0.6"/>
<rect x="360" y="769.1" width="1.3" height="1.3" fill="#000" opacity="0.6"/>
<rect x="360" y="955.9" width="1.3" height="1.3" fill="#000" opacity="0.6"/>
<rect x="380" y="955.9" width="1.3" height="1.3" fill="#000" opacity="0.6"/>
<rect x="400" y="988" width="1.3" height="1.3" fill="#000" opacity="0.6"/>
<rect x="400" y="1044.3" width="1.3" height="1.3" fill="#000" opacity="0.6"/>
<rect x="420" y="740.9" width="1.3" height="1.3" fill="#000" opacity="0.6"/>
<rect x="420" y="998" width="1.3" height="1.3" fill="#000" opacity="0.6"/>
<rect x="420" y="1068.4" width="1.3" height="1.3" fill="#000" opacity="0.6"/>
<rect x="440" y="1024.2" width="1.3" height="1.3" fill="#000" opacity="0.6"/>
<rect x="460" y="704.8" width="1.3" height="1.3" fill="#000" opacity="0.6"/>
<rect x="460" y="726.9" width="1.3" height="1.3" fill="#000" opacity="0.6"/>
<rect x="460" y="1044.3" width="1.3" height="1.3" fill="#000" opacity="0.6"/>
<line x1="308.03" y1="788.19" x2="309.88" y2="786.34" stroke="#000" stroke-width="1.2" opacity="1.0"/>
<line x1="304.41" y1="788.95" x2="308.82" y2="784.53" stroke="#000" stroke-width="1.2" opacity="1.0"/>
<line x1="305.39" y1="785.44" x2="307.76" y2="783.08" stroke="#000" stroke-width="1.2" opacity="1.0"/>
<line x1="331.36" y1="785.3" x2="334.57" y2="782.08" stroke="#000" stroke-width="1.2" opacity="1.0"/>
<line x1="332.63" y1="785.65" x2="336.64" y2="781.64" stroke="#000" stroke-width="1.2" opacity="1.0"/>
<line x1="330.79" y1="788.89" x2="334.49" y2="785.19" stroke="#000" stroke-width="1.2" opacity="1.0"/>
<line x1="342.06" y1="786.17" x2="343.92" y2="784.3" stroke="#000" stroke-width="1.2" opacity="1.0"/>
<line x1="337.46" y1="786.77" x2="340.47" y2="783.75" stroke="#000" stroke-width="1.2" opacity="1.0"/>
<line x1="338.94" y1="785.05" x2="341.67" y2="782.32" stroke="#000" stroke-width="1.2" opacity="1.0"/>
<line x1="353.12" y1="784.97" x2="356.94" y2="781.14" stroke="#000" stroke-width="1.2" opacity="1.0"/>
<line x1="352.88" y1="785.74" x2="357.18" y2="781.44" stroke="#000" stroke-width="1.2" opacity="1.0"/>
<line x1="353.17" y1="788.4" x2="355.75" y2="785.82" stroke="#000" stroke-width="1.2" opacity="1.0"/>
<line x1="361.12" y1="789.24" x2="364.51" y2="785.85" stroke="#000" stroke-width="1.2" opacity="1.0"/>
<line x1="361.4" y1="786.25" x2="363.94" y2="783.7" stroke="#000" stroke-width="1.2" opacity="1.0"/>
<line x1="359.24" y1="785.53" x2="363.29" y2="781.48" stroke="#000" stroke-width="1.2" opacity="1.0"/>
<line x1="373.8" y1="785.43" x2="376.32" y2="782.91" stroke="#000" stroke-width="1.2" opacity="1.0"/>
<line x1="371.75" y1="785.31" x2="374.55" y2="782.5" stroke="#000" stroke-width="1.2" opacity="1.0"/>
<line x1="373.16" y1="789.03" x2="377.15" y2="785.03" stroke="#000" stroke-width="1.2" opacity="1.0"/>
<line x1="307.02" y1="799.42" x2="310.3" y2="796.14" stroke="#000" stroke-width="1.2" opacity="1.0"/>
<line x1="305.9" y1="795.66" x2="309.68" y2="791.88" stroke="#000" stroke-width="1.2" opacity="1.0"/>
<line x1="304.81" y1="798.71" x2="308.35" y2="795.17" stroke="#000" stroke-width="1.2" opacity="1.0"/>
<line x1="316" y1="798.79" x2="318.14" y2="796.65" stroke="#000" stroke-width="1.2" opacity="1.0"/>
<line x1="317.67" y1="796.4" x2="320.28" y2="793.79" stroke="#000" stroke-width="1.2" opacity="1.0"/>
<line x1="318.92" y1="799.19" x2="321.43" y2="796.69" stroke="#000" stroke-width="1.2" opacity="1.0"/>
<line x1="330.27" y1="797.49" x2="333.14" y2="794.63" stroke="#000" stroke-width="1.2" opacity="1.0"/>
<line x1="329.92" y1="795.46" x2="332.28" y2="793.1" stroke="#000" stroke-width="1.2" opacity="1.0"/>
<line x1="333.23" y1="796.98" x2="335.62" y2="794.59" stroke="#000" stroke-width="1.2" opacity="1.0"/>
<line x1="360.66" y1="795.44" x2="362.7" y2="793.39" stroke="#000" stroke-width="1.2" opacity="1.0"/>
<line x1="361.37" y1="795.18" x2="363.81" y2="792.74" stroke="#000" stroke-width="1.2" opacity="1.0"/>
<line x1="360.11" y1="798.21" x2="364.31" y2="794.02" stroke="#000" stroke-width="1.2" opacity="1.0"/>
<line x1="371.1" y1="797.02" x2="374.32" y2="793.8" stroke="#000" stroke-width="1.2" opacity="1.0"/>
<line x1="371.56" y1="796.06" x2="373.53" y2="794.09" stroke="#000" stroke-width="1.2" opacity="1.0"/>
<line x1="371.03" y1="798.97" x2="373.17" y2="796.83" stroke="#000" stroke-width="1.2" opacity="1.0"/>
<line x1="306.19" y1="828.02" x2="308.57" y2="825.64" stroke="#000" stroke-width="1.2" opacity="1.0"/>
<line x1="304.33" y1="825.51" x2="307.21" y2="822.63" stroke="#000" stroke-width="1.2" opacity="1.0"/>
<line x1="304.51" y1="829.29" x2="308.6" y2="825.2" stroke="#000" stroke-width="1.2" opacity="1.0"/>
<line x1="328.39" y1="828.25" x2="332.6" y2="824.03" stroke="#000" stroke-width="1.2" opacity="1.0"/>
<line x1="331.58" y1="826.49" x2="333.38" y2="824.69" stroke="#000" stroke-width="1.2" opacity="1.0"/>
<line x1="330.1" y1="829.14" x2="334.13" y2="825.11" stroke="#000" stroke-width="1.2" opacity="1.0"/>
<line x1="359.94" y1="825.25" x2="363.15" y2="822.04" stroke="#000" stroke-width="1.2" opacity="1.0"/>
<line x1="362.24" y1="829.06" x2="365.99" y2="825.31" stroke="#000" stroke-width="1.2" opacity="1.0"/>
<line x1="362.45" y1="827.91" x2="365.48" y2="824.87" stroke="#000" stroke-width="1.2" opacity="1.0"/>
<line x1="369.81" y1="827.68" x2="372.24" y2="825.26" stroke="#000" stroke-width="1.2" opacity="1.0"/>
<line x1="373.68" y1="827.16" x2="376.3" y2="824.54" stroke="#000" stroke-width="1.2" opacity="1.0"/>
<line x1="369.67" y1="825.84" x2="373.18" y2="822.32" stroke="#000" stroke-width="1.2" opacity="1.0"/>
<line x1="298.89" y1="807.87" x2="301.1" y2="805.66" stroke="#000" stroke-width="1.2" opacity="1.0"/>
<line x1="297.54" y1="810.7" x2="300.7" y2="807.53" stroke="#000" stroke-width="1.2" opacity="1.0"/>
<line x1="296.6" y1="810.22" x2="298.63" y2="808.19" stroke="#000" stroke-width="1.2" opacity="1.0"/>
<line x1="295.57" y1="810.94" x2="300.45" y2="806.07" stroke="#000" stroke-width="1.2" opacity="1.0"/>
<line x1="302.01" y1="812.33" x2="305.44" y2="808.91" stroke="#000" stroke-width="1.2" opacity="1.0"/>
<line x1="299.23" y1="809.88" x2="304.11" y2="804.99" stroke="#000" stroke-width="1.2" opacity="1.0"/>
<line x1="302.99" y1="808.77" x2="305.06" y2="806.7" stroke="#000" stroke-width="1.2" opacity="1.0"/>
<line x1="301.36" y1="811.2" x2="304.62" y2="807.94" stroke="#000" stroke-width="1.2" opacity="1.0"/>
<line x1="303.4" y1="811.92" x2="308.17" y2="807.15" stroke="#000" stroke-width="1.2" opacity="1.0"/>
<line x1="304.13" y1="807.88" x2="307.14" y2="804.86" stroke="#000" stroke-width="1.2" opacity="1.0"/>
<line x1="305.31" y1="810.91" x2="307.9" y2="808.32" stroke="#000" stroke-width="1.2" opacity="1.0"/>
<line x1="306.73" y1="811.65" x2="310.24" y2="808.14" stroke="#000" stroke-width="1.2" opacity="1.0"/>
<line x1="330.06" y1="812.52" x2="332.99" y2="809.58" stroke="#000" stroke-width="1.2" opacity="1.0"/>
<line x1="333.27" y1="808.69" x2="335.93" y2="806.02" stroke="#000" stroke-width="1.2" opacity="1.0"/>
<line x1="331.87" y1="810.1" x2="336.73" y2="805.25" stroke="#000" stroke-width="1.2" opacity="1.0"/>
<line x1="331.64" y1="808.47" x2="334.31" y2="805.8" stroke="#000" stroke-width="1.2" opacity="1.0"/>
<line x1="334.16" y1="811.95" x2="339.01" y2="807.1" stroke="#000" stroke-width="1.2" opacity="1.0"/>
<line x1="333.91" y1="809.49" x2="336.55" y2="806.85" stroke="#000" stroke-width="1.2" opacity="1.0"/>
<line x1="338.29" y1="807.99" x2="340.45" y2="805.83" stroke="#000" stroke-width="1.2" opacity="1.0"/>
<line x1="332.45" y1="810.51" x2="337.15" y2="805.82" stroke="#000" stroke-width="1.2" opacity="1.0"/>
<line x1="340.42" y1="812.36" x2="345.41" y2="807.37" stroke="#000" stroke-width="1.2" opacity="1.0"/>
<line x1="341.88" y1="809.12" x2="344.44" y2="806.57" stroke="#000" stroke-width="1.2" opacity="1.0"/>
<line x1="342.13" y1="810.98" x2="344.23" y2="808.88" stroke="#000" stroke-width="1.2" opacity="1.0"/>
<line x1="340.26" y1="809.65" x2="343.38" y2="806.53" stroke="#000" stroke-width="1.2" opacity="1.0"/>
<line x1="343.15" y1="808.05" x2="345.16" y2="806.04" stroke="#000" stroke-width="1.2" opacity="1.0"/>
<line x1="341.47" y1="810.39" x2="346.33" y2="805.52" stroke="#000" stroke-width="1.2" opacity="1.0"/>
<line x1="341.81" y1="812.33" x2="344.43" y2="809.71" stroke="#000" stroke-width="1.2" opacity="1.0"/>
<line x1="342.05" y1="812.54" x2="346.52" y2="808.07" stroke="#000" stroke-width="1.2" opacity="1.0"/>
<line x1="346.95" y1="808.16" x2="350.37" y2="804.74" stroke="#000" stroke-width="1.2" opacity="1.0"/>
<line x1="347.07" y1="812.09" x2="349.65" y2="809.51" stroke="#000" stroke-width="1.2" opacity="1.0"/>
<line x1="347.28" y1="811.73" x2="349.37" y2="809.64" stroke="#000" stroke-width="1.2" opacity="1.0"/>
<line x1="346.4" y1="812.41" x2="350.7" y2="808.11" stroke="#000" stroke-width="1.2" opacity="1.0"/>
<line x1="349.61" y1="807.47" x2="351.8" y2="805.28" stroke="#000" stroke-width="1.2" opacity="1.0"/>
<line x1="352.98" y1="809.61" x2="357.22" y2="805.36" stroke="#000" stroke-width="1.2" opacity="1.0"/>
<line x1="353.58" y1="809.3" x2="356.4" y2="806.49" stroke="#000" stroke-width="1.2" opacity="1.0"/>
<line x1="353.9" y1="810.68" x2="356.68" y2="807.89" stroke="#000" stroke-width="1.2" opacity="1.0"/>
<line x1="356.67" y1="809.2" x2="359.5" y2="806.37" stroke="#000" stroke-width="1.2" opacity="1.0"/>
<line x1="352.14" y1="812.35" x2="356.89" y2="807.6" stroke="#000" stroke-width="1.2" opacity="1.0"/>
<line x1="356.63" y1="811.95" x2="358.71" y2="809.88" stroke="#000" stroke-width="1.2" opacity="1.0"/>
<line x1="353.23" y1="811.01" x2="358.1" y2="806.14" stroke="#000" stroke-width="1.2" opacity="1.0"/>
<line x1="366.89" y1="809.51" x2="369.65" y2="806.76" stroke="#000" stroke-width="1.2" opacity="1.0"/>
<line x1="363.26" y1="811.06" x2="368.04" y2="806.28" stroke="#000" stroke-width="1.2" opacity="1.0"/>
<line x1="362.31" y1="812.32" x2="366.52" y2="808.11" stroke="#000" stroke-width="1.2" opacity="1.0"/>
<line x1="365.7" y1="811.97" x2="369.52" y2="808.15" stroke="#000" stroke-width="1.2" opacity="1.0"/>
<line x1="370.6" y1="809.34" x2="373.68" y2="806.25" stroke="#000" stroke-width="1.2" opacity="1.0"/>
<line x1="373.12" y1="807.89" x2="375.71" y2="805.3" stroke="#000" stroke-width="1.2" opacity="1.0"/>
<line x1="373.17" y1="808.53" x2="375.36" y2="806.34" stroke="#000" stroke-width="1.2" opacity="1.0"/>
<line x1="369.18" y1="810.45" x2="372.16" y2="807.47" stroke="#000" stroke-width="1.2" opacity="1.0"/>
<line x1="306.8" y1="839" x2="306.8" y2="843" stroke="#000" stroke-width="1.3"/>
<line x1="306.8" y1="842" x2="306.8" y2="846" stroke="#000" stroke-width="1.3"/>
<line x1="306.8" y1="845" x2="306.8" y2="849" stroke="#000" stroke-width="1.3"/>
<line x1="319.1" y1="839" x2="319.1" y2="843" stroke="#000" stroke-width="1.3"/>
<line x1="319.1" y1="842" x2="319.1" y2="846" stroke="#000" stroke-width="1.3"/>
<line x1="319.1" y1="845" x2="319.1" y2="849" stroke="#000" stroke-width="1.3"/>
<line x1="332.6" y1="839" x2="332.6" y2="843" stroke="#000" stroke-width="1.3"/>
<line x1="332.6" y1="842" x2="332.6" y2="846" stroke="#000" stroke-width="1.3"/>
<line x1="332.6" y1="845" x2="332.6" y2="849" stroke="#000" stroke-width="1.3"/>
<line x1="341.2" y1="839" x2="341.2" y2="843" stroke="#000" stroke-width="1.3"/>
<line x1="341.2" y1="842" x2="341.2" y2="846" stroke="#000" stroke-width="1.3"/>
<line x1="341.2" y1="845" x2="341.2" y2="849" stroke="#000" stroke-width="1.3"/>
<line x1="345" y1="839" x2="345" y2="843" stroke="#000" stroke-width="1.3"/>
<line x1="345" y1="842" x2="345" y2="846" stroke="#000" stroke-width="1.3"/>
<line x1="345" y1="845" x2="345" y2="849" stroke="#000" stroke-width="1.3"/>
<line x1="353.5" y1="839" x2="353.5" y2="843" stroke="#000" stroke-width="1.3"/>
<line x1="353.5" y1="842" x2="353.5" y2="846" stroke="#000" stroke-width="1.3"/>
<line x1="353.5" y1="845" x2="353.5" y2="849" stroke="#000" stroke-width="1.3"/>
<line x1="363.3" y1="839" x2="363.3" y2="843" stroke="#000" stroke-width="1.3"/>
<line x1="363.3" y1="842" x2="363.3" y2="846" stroke="#000" stroke-width="1.3"/>
<line x1="363.3" y1="845" x2="363.3" y2="849" stroke="#000" stroke-width="1.3"/>
<line x1="373.1" y1="839" x2="373.1" y2="843" stroke="#000" stroke-width="1.3"/>
<line x1="373.1" y1="842" x2="373.1" y2="846" stroke="#000" stroke-width="1.3"/>
<line x1="373.1" y1="845" x2="373.1" y2="849" stroke="#000" stroke-width="1.3"/>
<line x1="341.15" y1="788.64" x2="344.13" y2="785.66" stroke="#000" stroke-width="1.2" opacity="1.0"/>
<line x1="339.81" y1="785.44" x2="341.18" y2="784.07" stroke="#000" stroke-width="1.2" opacity="1.0"/>
<line x1="340.19" y1="791.63" x2="342.2" y2="789.63" stroke="#000" stroke-width="1.2" opacity="1.0"/>
<line x1="339.24" y1="790.91" x2="341.56" y2="788.59" stroke="#000" stroke-width="1.2" opacity="1.0"/>
<line x1="340.36" y1="796.11" x2="343.08" y2="793.38" stroke="#000" stroke-width="1.2" opacity="1.0"/>
<line x1="340.34" y1="794.22" x2="343.05" y2="791.51" stroke="#000" stroke-width="1.2" opacity="1.0"/>
<line x1="339.65" y1="799.14" x2="341.52" y2="797.26" stroke="#000" stroke-width="1.2" opacity="1.0"/>
<line x1="341.09" y1="797.92" x2="342.74" y2="796.27" stroke="#000" stroke-width="1.2" opacity="1.0"/>
<line x1="339.04" y1="802.36" x2="341.83" y2="799.56" stroke="#000" stroke-width="1.2" opacity="1.0"/>
<line x1="340.48" y1="802.44" x2="342.39" y2="800.52" stroke="#000" stroke-width="1.2" opacity="1.0"/>
<line x1="341.87" y1="806.83" x2="343.49" y2="805.21" stroke="#000" stroke-width="1.2" opacity="1.0"/>
<line x1="340.63" y1="807.95" x2="343.62" y2="804.97" stroke="#000" stroke-width="1.2" opacity="1.0"/>
<line x1="338.67" y1="811.26" x2="341.34" y2="808.59" stroke="#000" stroke-width="1.2" opacity="1.0"/>
<line x1="341.59" y1="811.88" x2="342.86" y2="810.61" stroke="#000" stroke-width="1.2" opacity="1.0"/>
<line x1="339.81" y1="813.63" x2="341.35" y2="812.09" stroke="#000" stroke-width="1.2" opacity="1.0"/>
<line x1="341.18" y1="815.69" x2="344.06" y2="812.81" stroke="#000" stroke-width="1.2" opacity="1.0"/>
<line x1="339.81" y1="820.1" x2="341.82" y2="818.09" stroke="#000" stroke-width="1.2" opacity="1.0"/>
<line x1="339.03" y1="820.28" x2="341.93" y2="817.38" stroke="#000" stroke-width="1.2" opacity="1.0"/>
<line x1="338.86" y1="823.45" x2="341.18" y2="821.13" stroke="#000" stroke-width="1.2" opacity="1.0"/>
<line x1="339.63" y1="822.33" x2="341.08" y2="820.88" stroke="#000" stroke-width="1.2" opacity="1.0"/>
<line x1="339.17" y1="826.4" x2="341.45" y2="824.13" stroke="#000" stroke-width="1.2" opacity="1.0"/>
<line x1="341.04" y1="825.72" x2="342.27" y2="824.5" stroke="#000" stroke-width="1.2" opacity="1.0"/>
<line x1="339.92" y1="831.3" x2="341.45" y2="829.77" stroke="#000" stroke-width="1.2" opacity="1.0"/>
<line x1="339.32" y1="830.43" x2="341.95" y2="827.79" stroke="#000" stroke-width="1.2" opacity="1.0"/>
<line x1="340.65" y1="833.38" x2="342.04" y2="832" stroke="#000" stroke-width="1.2" opacity="1.0"/>
<line x1="339.71" y1="835.33" x2="342.06" y2="832.98" stroke="#000" stroke-width="1.2" opacity="1.0"/>
<line x1="338.75" y1="838.22" x2="341.2" y2="835.77" stroke="#000" stroke-width="1.2" opacity="1.0"/>
<line x1="340.05" y1="838.23" x2="341.81" y2="836.47" stroke="#000" stroke-width="1.2" opacity="1.0"/>
<line x1="341.45" y1="842.55" x2="343.67" y2="840.33" stroke="#000" stroke-width="1.2" opacity="1.0"/>
<line x1="339.39" y1="843.13" x2="342.15" y2="840.37" stroke="#000" stroke-width="1.2" opacity="1.0"/>
<line x1="341.91" y1="846.37" x2="343.47" y2="844.81" stroke="#000" stroke-width="1.2" opacity="1.0"/>
<line x1="341.28" y1="845.72" x2="342.49" y2="844.51" stroke="#000" stroke-width="1.2" opacity="1.0"/>
<rect x="289.6" y="851" width="183" height="13.5" fill="#000" stroke="none" stroke-width="0"/>
<line x1="451.44" y1="858.74" x2="454.94" y2="855.24" stroke="#fff" stroke-width="0.96" opacity="0.75"/>
<line x1="436.86" y1="858.56" x2="440.36" y2="855.06" stroke="#fff" stroke-width="0.96" opacity="0.75"/>
<line x1="448.07" y1="859.11" x2="451.57" y2="855.61" stroke="#fff" stroke-width="0.96" opacity="0.75"/>
<line x1="318.78" y1="854.65" x2="322.28" y2="851.15" stroke="#fff" stroke-width="0.96" opacity="0.75"/>
<line x1="388.6" y1="860.91" x2="392.1" y2="857.41" stroke="#fff" stroke-width="0.96" opacity="0.75"/>
<line x1="452.91" y1="855.39" x2="456.41" y2="851.89" stroke="#fff" stroke-width="0.96" opacity="0.75"/>
<line x1="401.28" y1="858.21" x2="404.78" y2="854.71" stroke="#fff" stroke-width="0.96" opacity="0.75"/>
<line x1="380.15" y1="855.96" x2="383.65" y2="852.46" stroke="#fff" stroke-width="0.96" opacity="0.75"/>
<line x1="340.45" y1="859.71" x2="343.95" y2="856.21" stroke="#fff" stroke-width="0.96" opacity="0.75"/>
<line x1="455.73" y1="855.59" x2="459.23" y2="852.09" stroke="#fff" stroke-width="0.96" opacity="0.75"/>
<line x1="377.65" y1="862.55" x2="381.15" y2="859.05" stroke="#fff" stroke-width="0.96" opacity="0.75"/>
<line x1="463.15" y1="856.47" x2="466.65" y2="852.97" stroke="#fff" stroke-width="0.96" opacity="0.75"/>
<line x1="312.33" y1="863.93" x2="315.83" y2="860.43" stroke="#fff" stroke-width="0.96" opacity="0.75"/>
<line x1="464.71" y1="859.33" x2="468.21" y2="855.83" stroke="#fff" stroke-width="0.96" opacity="0.75"/>
<line x1="299.18" y1="863.76" x2="302.68" y2="860.26" stroke="#fff" stroke-width="0.96" opacity="0.75"/>
<line x1="359.23" y1="863.54" x2="362.73" y2="860.04" stroke="#fff" stroke-width="0.96" opacity="0.75"/>
<line x1="400.95" y1="862.75" x2="404.45" y2="859.25" stroke="#fff" stroke-width="0.96" opacity="0.75"/>
<line x1="318.37" y1="862.36" x2="321.87" y2="858.86" stroke="#fff" stroke-width="0.96" opacity="0.75"/>
<line x1="329.46" y1="858.54" x2="332.96" y2="855.04" stroke="#fff" stroke-width="0.96" opacity="0.75"/>
<line x1="441.52" y1="862.79" x2="445.02" y2="859.29" stroke="#fff" stroke-width="0.96" opacity="0.75"/>
<line x1="322.44" y1="856.68" x2="325.94" y2="853.18" stroke="#fff" stroke-width="0.96" opacity="0.75"/>
<line x1="361.35" y1="859.68" x2="364.85" y2="856.18" stroke="#fff" stroke-width="0.96" opacity="0.75"/>
<line x1="358.45" y1="855.73" x2="361.95" y2="852.23" stroke="#fff" stroke-width="0.96" opacity="0.75"/>
<line x1="333.95" y1="861.75" x2="337.45" y2="858.25" stroke="#fff" stroke-width="0.96" opacity="0.75"/>
<line x1="450.66" y1="854.91" x2="454.16" y2="851.41" stroke="#fff" stroke-width="0.96" opacity="0.75"/>
<line x1="390.54" y1="862.07" x2="394.04" y2="858.57" stroke="#fff" stroke-width="0.96" opacity="0.75"/>
<line x1="296.44" y1="862.88" x2="299.94" y2="859.38" stroke="#fff" stroke-width="0.96" opacity="0.75"/>
<line x1="310.73" y1="860.5" x2="314.23" y2="857" stroke="#fff" stroke-width="0.96" opacity="0.75"/>
<line x1="388.33" y1="860.77" x2="391.83" y2="857.27" stroke="#fff" stroke-width="0.96" opacity="0.75"/>
<rect x="390.5" y="783.5" width="9.5" height="67.5" fill="#000" stroke="none" stroke-width="0"/>
<line x1="392.34" y1="813.88" x2="395.84" y2="810.38" stroke="#fff" stroke-width="0.96" opacity="0.75"/>
<line x1="394" y1="814.25" x2="397.5" y2="810.75" stroke="#fff" stroke-width="0.96" opacity="0.75"/>
<line x1="394.45" y1="815.59" x2="397.95" y2="812.09" stroke="#fff" stroke-width="0.96" opacity="0.75"/>
<line x1="393.13" y1="788.5" x2="396.63" y2="785" stroke="#fff" stroke-width="0.96" opacity="0.75"/>
<line x1="394.21" y1="818.33" x2="397.71" y2="814.83" stroke="#fff" stroke-width="0.96" opacity="0.75"/>
<line x1="391.91" y1="835.87" x2="395.41" y2="832.37" stroke="#fff" stroke-width="0.96" opacity="0.75"/>
<line x1="395.18" y1="816.33" x2="398.68" y2="812.83" stroke="#fff" stroke-width="0.96" opacity="0.75"/>
<line x1="391.58" y1="817.29" x2="395.08" y2="813.79" stroke="#fff" stroke-width="0.96" opacity="0.75"/>
<rect x="384.8" y="851" width="14.9" height="103.2" fill="#000" stroke="none" stroke-width="0"/>
<line x1="386.02" y1="867.31" x2="389.52" y2="863.81" stroke="#fff" stroke-width="0.96" opacity="0.75"/>
<line x1="389.71" y1="863.64" x2="393.21" y2="860.14" stroke="#fff" stroke-width="0.96" opacity="0.75"/>
<line x1="389.84" y1="905.36" x2="393.34" y2="901.86" stroke="#fff" stroke-width="0.96" opacity="0.75"/>
<line x1="385.26" y1="917.95" x2="388.76" y2="914.45" stroke="#fff" stroke-width="0.96" opacity="0.75"/>
<line x1="385.74" y1="927.63" x2="389.24" y2="924.13" stroke="#fff" stroke-width="0.96" opacity="0.75"/>
<line x1="393.67" y1="905.49" x2="397.17" y2="901.99" stroke="#fff" stroke-width="0.96" opacity="0.75"/>
<line x1="385.42" y1="904.74" x2="388.92" y2="901.24" stroke="#fff" stroke-width="0.96" opacity="0.75"/>
<line x1="389.11" y1="949.3" x2="392.61" y2="945.8" stroke="#fff" stroke-width="0.96" opacity="0.75"/>
<line x1="386.35" y1="939.95" x2="389.85" y2="936.45" stroke="#fff" stroke-width="0.96" opacity="0.75"/>
<line x1="396.16" y1="927.49" x2="399.66" y2="923.99" stroke="#fff" stroke-width="0.96" opacity="0.75"/>
<line x1="394.09" y1="873.81" x2="397.59" y2="870.31" stroke="#fff" stroke-width="0.96" opacity="0.75"/>
<line x1="395.99" y1="903.54" x2="399.49" y2="900.04" stroke="#fff" stroke-width="0.96" opacity="0.75"/>
<line x1="395.71" y1="945.83" x2="399.21" y2="942.33" stroke="#fff" stroke-width="0.96" opacity="0.75"/>
<line x1="386.68" y1="933.1" x2="390.18" y2="929.6" stroke="#fff" stroke-width="0.96" opacity="0.75"/>
<line x1="395.41" y1="861.03" x2="398.91" y2="857.53" stroke="#fff" stroke-width="0.96" opacity="0.75"/>
<line x1="388.8" y1="929.89" x2="392.3" y2="926.39" stroke="#fff" stroke-width="0.96" opacity="0.75"/>
<line x1="386.61" y1="943.88" x2="390.11" y2="940.38" stroke="#fff" stroke-width="0.96" opacity="0.75"/>
<line x1="387.93" y1="935.82" x2="391.43" y2="932.32" stroke="#fff" stroke-width="0.96" opacity="0.75"/>
<rect x="299.5" y="872.5" width="77.3" height="71.8" fill="#000" stroke="none" stroke-width="0"/>
<line x1="310.1" y1="910.3" x2="313.6" y2="906.8" stroke="#fff" stroke-width="0.96" opacity="0.75"/>
<line x1="367.39" y1="890.23" x2="370.89" y2="886.73" stroke="#fff" stroke-width="0.96" opacity="0.75"/>
<line x1="318.9" y1="910.56" x2="322.4" y2="907.06" stroke="#fff" stroke-width="0.96" opacity="0.75"/>
<line x1="323.05" y1="878.52" x2="326.55" y2="875.02" stroke="#fff" stroke-width="0.96" opacity="0.75"/>
<line x1="312.94" y1="887.01" x2="316.44" y2="883.51" stroke="#fff" stroke-width="0.96" opacity="0.75"/>
<line x1="368.61" y1="922.42" x2="372.11" y2="918.92" stroke="#fff" stroke-width="0.96" opacity="0.75"/>
<line x1="365.58" y1="887.53" x2="369.08" y2="884.03" stroke="#fff" stroke-width="0.96" opacity="0.75"/>
<line x1="357.42" y1="883.86" x2="360.92" y2="880.36" stroke="#fff" stroke-width="0.96" opacity="0.75"/>
<line x1="338.67" y1="919.46" x2="342.17" y2="915.96" stroke="#fff" stroke-width="0.96" opacity="0.75"/>
<line x1="326.05" y1="935.62" x2="329.55" y2="932.12" stroke="#fff" stroke-width="0.96" opacity="0.75"/>
<line x1="340.47" y1="915.62" x2="343.97" y2="912.12" stroke="#fff" stroke-width="0.96" opacity="0.75"/>
<line x1="364.63" y1="883.14" x2="368.13" y2="879.64" stroke="#fff" stroke-width="0.96" opacity="0.75"/>
<line x1="372.78" y1="919.01" x2="376.28" y2="915.51" stroke="#fff" stroke-width="0.96" opacity="0.75"/>
<line x1="328.6" y1="930.48" x2="332.1" y2="926.98" stroke="#fff" stroke-width="0.96" opacity="0.75"/>
<line x1="319.04" y1="943.65" x2="322.54" y2="940.15" stroke="#fff" stroke-width="0.96" opacity="0.75"/>
<line x1="342.11" y1="900.61" x2="345.61" y2="897.11" stroke="#fff" stroke-width="0.96" opacity="0.75"/>
<line x1="355.93" y1="906.21" x2="359.43" y2="902.71" stroke="#fff" stroke-width="0.96" opacity="0.75"/>
<line x1="312.54" y1="926.79" x2="316.04" y2="923.29" stroke="#fff" stroke-width="0.96" opacity="0.75"/>
<line x1="303.06" y1="931.99" x2="306.56" y2="928.49" stroke="#fff" stroke-width="0.96" opacity="0.75"/>
<line x1="318.22" y1="919.66" x2="321.72" y2="916.16" stroke="#fff" stroke-width="0.96" opacity="0.75"/>
<line x1="372.12" y1="916.01" x2="375.62" y2="912.51" stroke="#fff" stroke-width="0.96" opacity="0.75"/>
<line x1="348.48" y1="897.35" x2="351.98" y2="893.85" stroke="#fff" stroke-width="0.96" opacity="0.75"/>
<line x1="299.63" y1="878.31" x2="303.13" y2="874.81" stroke="#fff" stroke-width="0.96" opacity="0.75"/>
<line x1="310.52" y1="918.08" x2="314.02" y2="914.58" stroke="#fff" stroke-width="0.96" opacity="0.75"/>
<line x1="331.4" y1="911.02" x2="334.9" y2="907.52" stroke="#fff" stroke-width="0.96" opacity="0.75"/>
<line x1="365.59" y1="885.02" x2="369.09" y2="881.52" stroke="#fff" stroke-width="0.96" opacity="0.75"/>
<line x1="316.27" y1="920.61" x2="319.77" y2="917.11" stroke="#fff" stroke-width="0.96" opacity="0.75"/>
<line x1="301.14" y1="876.18" x2="304.64" y2="872.68" stroke="#fff" stroke-width="0.96" opacity="0.75"/>
<line x1="325.7" y1="883.26" x2="329.2" y2="879.76" stroke="#fff" stroke-width="0.96" opacity="0.75"/>
<line x1="325.86" y1="891.32" x2="329.36" y2="887.82" stroke="#fff" stroke-width="0.96" opacity="0.75"/>
<line x1="342.57" y1="916.23" x2="346.07" y2="912.73" stroke="#fff" stroke-width="0.96" opacity="0.75"/>
<line x1="314.57" y1="918.61" x2="318.07" y2="915.11" stroke="#fff" stroke-width="0.96" opacity="0.75"/>
<line x1="334.55" y1="885.2" x2="338.05" y2="881.7" stroke="#fff" stroke-width="0.96" opacity="0.75"/>
<line x1="368.62" y1="892.64" x2="372.12" y2="889.14" stroke="#fff" stroke-width="0.96" opacity="0.75"/>
<line x1="310.52" y1="882.54" x2="314.02" y2="879.04" stroke="#fff" stroke-width="0.96" opacity="0.75"/>
<line x1="346.6" y1="935.51" x2="350.1" y2="932.01" stroke="#fff" stroke-width="0.96" opacity="0.75"/>
<line x1="357.22" y1="903.45" x2="360.72" y2="899.95" stroke="#fff" stroke-width="0.96" opacity="0.75"/>
<line x1="319" y1="876.79" x2="322.5" y2="873.29" stroke="#fff" stroke-width="0.96" opacity="0.75"/>
<line x1="347.1" y1="914.41" x2="350.6" y2="910.91" stroke="#fff" stroke-width="0.96" opacity="0.75"/>
<line x1="325.35" y1="920.09" x2="328.85" y2="916.59" stroke="#fff" stroke-width="0.96" opacity="0.75"/>
<line x1="332.25" y1="940.01" x2="335.75" y2="936.51" stroke="#fff" stroke-width="0.96" opacity="0.75"/>
<line x1="353.63" y1="892.97" x2="357.13" y2="889.47" stroke="#fff" stroke-width="0.96" opacity="0.75"/>
<line x1="366.18" y1="879.01" x2="369.68" y2="875.51" stroke="#fff" stroke-width="0.96" opacity="0.75"/>
<line x1="338.73" y1="903.73" x2="342.23" y2="900.23" stroke="#fff" stroke-width="0.96" opacity="0.75"/>
<line x1="317.04" y1="879.99" x2="320.54" y2="876.49" stroke="#fff" stroke-width="0.96" opacity="0.75"/>
<line x1="356.98" y1="876.84" x2="360.48" y2="873.34" stroke="#fff" stroke-width="0.96" opacity="0.75"/>
<line x1="340.16" y1="940.26" x2="343.66" y2="936.76" stroke="#fff" stroke-width="0.96" opacity="0.75"/>
<line x1="310" y1="889.63" x2="313.5" y2="886.13" stroke="#fff" stroke-width="0.96" opacity="0.75"/>
<line x1="344.38" y1="910.62" x2="347.88" y2="907.12" stroke="#fff" stroke-width="0.96" opacity="0.75"/>
<line x1="346.85" y1="931.55" x2="350.35" y2="928.05" stroke="#fff" stroke-width="0.96" opacity="0.75"/>
<line x1="312.39" y1="897.13" x2="315.89" y2="893.63" stroke="#fff" stroke-width="0.96" opacity="0.75"/>
<line x1="321.66" y1="879.31" x2="325.16" y2="875.81" stroke="#fff" stroke-width="0.96" opacity="0.75"/>
<line x1="365.13" y1="929.48" x2="368.63" y2="925.98" stroke="#fff" stroke-width="0.96" opacity="0.75"/>
<line x1="352.3" y1="876.43" x2="355.8" y2="872.93" stroke="#fff" stroke-width="0.96" opacity="0.75"/>
<line x1="361.82" y1="926.9" x2="365.32" y2="923.4" stroke="#fff" stroke-width="0.96" opacity="0.75"/>
<line x1="333.84" y1="926.66" x2="337.34" y2="923.16" stroke="#fff" stroke-width="0.96" opacity="0.75"/>
<line x1="332.89" y1="891.43" x2="336.39" y2="887.93" stroke="#fff" stroke-width="0.96" opacity="0.75"/>
<line x1="307.27" y1="891.87" x2="310.77" y2="888.37" stroke="#fff" stroke-width="0.96" opacity="0.75"/>
<line x1="302.36" y1="898.92" x2="305.86" y2="895.42" stroke="#fff" stroke-width="0.96" opacity="0.75"/>
<line x1="354.82" y1="923.48" x2="358.32" y2="919.98" stroke="#fff" stroke-width="0.96" opacity="0.75"/>
<line x1="361.89" y1="924.61" x2="365.39" y2="921.11" stroke="#fff" stroke-width="0.96" opacity="0.75"/>
<line x1="319.13" y1="913.82" x2="322.63" y2="910.32" stroke="#fff" stroke-width="0.96" opacity="0.75"/>
<line x1="331.68" y1="929.85" x2="335.18" y2="926.35" stroke="#fff" stroke-width="0.96" opacity="0.75"/>
<line x1="338.12" y1="894.12" x2="341.62" y2="890.62" stroke="#fff" stroke-width="0.96" opacity="0.75"/>
<line x1="346.88" y1="941.92" x2="350.38" y2="938.42" stroke="#fff" stroke-width="0.96" opacity="0.75"/>
<line x1="315.51" y1="936.11" x2="319.01" y2="932.61" stroke="#fff" stroke-width="0.96" opacity="0.75"/>
<line x1="300.62" y1="893.78" x2="304.12" y2="890.28" stroke="#fff" stroke-width="0.96" opacity="0.75"/>
<line x1="316.92" y1="926.81" x2="320.42" y2="923.31" stroke="#fff" stroke-width="0.96" opacity="0.75"/>
<line x1="369.22" y1="926.96" x2="372.72" y2="923.46" stroke="#fff" stroke-width="0.96" opacity="0.75"/>
<line x1="323.62" y1="936.12" x2="327.12" y2="932.62" stroke="#fff" stroke-width="0.96" opacity="0.75"/>
<line x1="323.75" y1="892.34" x2="327.25" y2="888.84" stroke="#fff" stroke-width="0.96" opacity="0.75"/>
<line x1="366.48" y1="919.08" x2="369.98" y2="915.58" stroke="#fff" stroke-width="0.96" opacity="0.75"/>
<line x1="350.63" y1="921.44" x2="354.13" y2="917.94" stroke="#fff" stroke-width="0.96" opacity="0.75"/>
<line x1="371.75" y1="908.07" x2="375.25" y2="904.57" stroke="#fff" stroke-width="0.96" opacity="0.75"/>
<line x1="361.47" y1="923.65" x2="364.97" y2="920.15" stroke="#fff" stroke-width="0.96" opacity="0.75"/>
<line x1="362.79" y1="905.86" x2="366.29" y2="902.36" stroke="#fff" stroke-width="0.96" opacity="0.75"/>
<line x1="352.98" y1="914.95" x2="356.48" y2="911.45" stroke="#fff" stroke-width="0.96" opacity="0.75"/>
<line x1="322.21" y1="890.48" x2="325.71" y2="886.98" stroke="#fff" stroke-width="0.96" opacity="0.75"/>
<line x1="345.45" y1="881.31" x2="348.95" y2="877.81" stroke="#fff" stroke-width="0.96" opacity="0.75"/>
<line x1="366.72" y1="885.88" x2="370.22" y2="882.38" stroke="#fff" stroke-width="0.96" opacity="0.75"/>
<line x1="301.49" y1="883.29" x2="304.99" y2="879.79" stroke="#fff" stroke-width="0.96" opacity="0.75"/>
<line x1="368.06" y1="899.55" x2="371.56" y2="896.05" stroke="#fff" stroke-width="0.96" opacity="0.75"/>
<line x1="309.97" y1="877.96" x2="313.47" y2="874.46" stroke="#fff" stroke-width="0.96" opacity="0.75"/>
<line x1="302.57" y1="923.31" x2="306.07" y2="919.81" stroke="#fff" stroke-width="0.96" opacity="0.75"/>
<line x1="346.28" y1="923.61" x2="349.78" y2="920.11" stroke="#fff" stroke-width="0.96" opacity="0.75"/>
<line x1="353.87" y1="880.49" x2="357.37" y2="876.99" stroke="#fff" stroke-width="0.96" opacity="0.75"/>
<line x1="343.08" y1="900.82" x2="346.58" y2="897.32" stroke="#fff" stroke-width="0.96" opacity="0.75"/>
<line x1="359.84" y1="931.98" x2="363.34" y2="928.48" stroke="#fff" stroke-width="0.96" opacity="0.75"/>
<line x1="365.28" y1="880.5" x2="368.78" y2="877" stroke="#fff" stroke-width="0.96" opacity="0.75"/>
<line x1="363.54" y1="938.45" x2="367.04" y2="934.95" stroke="#fff" stroke-width="0.96" opacity="0.75"/>
<line x1="369.19" y1="883.32" x2="372.69" y2="879.82" stroke="#fff" stroke-width="0.96" opacity="0.75"/>
<line x1="314.68" y1="883.65" x2="318.18" y2="880.15" stroke="#fff" stroke-width="0.96" opacity="0.75"/>
<line x1="302.04" y1="933.9" x2="305.54" y2="930.4" stroke="#fff" stroke-width="0.96" opacity="0.75"/>
<line x1="359.43" y1="919.31" x2="362.93" y2="915.81" stroke="#fff" stroke-width="0.96" opacity="0.75"/>
<line x1="360.39" y1="919.13" x2="363.89" y2="915.63" stroke="#fff" stroke-width="0.96" opacity="0.75"/>
<line x1="320.71" y1="882.82" x2="324.21" y2="879.32" stroke="#fff" stroke-width="0.96" opacity="0.75"/>
<line x1="306.72" y1="927.73" x2="310.22" y2="924.23" stroke="#fff" stroke-width="0.96" opacity="0.75"/>
<line x1="314.63" y1="897.8" x2="318.13" y2="894.3" stroke="#fff" stroke-width="0.96" opacity="0.75"/>
<line x1="330.77" y1="877.43" x2="334.27" y2="873.93" stroke="#fff" stroke-width="0.96" opacity="0.75"/>
<line x1="318.44" y1="895.3" x2="321.94" y2="891.8" stroke="#fff" stroke-width="0.96" opacity="0.75"/>
<line x1="352.32" y1="901.14" x2="355.82" y2="897.64" stroke="#fff" stroke-width="0.96" opacity="0.75"/>
<line x1="323.18" y1="941.84" x2="326.68" y2="938.34" stroke="#fff" stroke-width="0.96" opacity="0.75"/>
<line x1="336.68" y1="934.15" x2="340.18" y2="930.65" stroke="#fff" stroke-width="0.96" opacity="0.75"/>
<line x1="345.13" y1="878.12" x2="348.63" y2="874.62" stroke="#fff" stroke-width="0.96" opacity="0.75"/>
<line x1="329.97" y1="905.81" x2="333.47" y2="902.31" stroke="#fff" stroke-width="0.96" opacity="0.75"/>
<line x1="356.55" y1="899.69" x2="360.05" y2="896.19" stroke="#fff" stroke-width="0.96" opacity="0.75"/>
<line x1="351.5" y1="912.74" x2="355" y2="909.24" stroke="#fff" stroke-width="0.96" opacity="0.75"/>
<line x1="315.48" y1="934.89" x2="318.98" y2="931.39" stroke="#fff" stroke-width="0.96" opacity="0.75"/>
<line x1="306.21" y1="931.99" x2="309.71" y2="928.49" stroke="#fff" stroke-width="0.96" opacity="0.75"/>
<line x1="312.07" y1="876.09" x2="315.57" y2="872.59" stroke="#fff" stroke-width="0.96" opacity="0.75"/>
<line x1="314.41" y1="928.06" x2="317.91" y2="924.56" stroke="#fff" stroke-width="0.96" opacity="0.75"/>
<line x1="371.67" y1="876.3" x2="375.17" y2="872.8" stroke="#fff" stroke-width="0.96" opacity="0.75"/>
<line x1="299.5" y1="890.9" x2="376.8" y2="890.9" stroke="#fff" stroke-width="1" stroke-linecap="butt" opacity="0.8"/>
<line x1="299.5" y1="906.3" x2="376.8" y2="906.3" stroke="#fff" stroke-width="1" stroke-linecap="butt" opacity="0.8"/>
<line x1="340.6" y1="872.5" x2="340.6" y2="944.3" stroke="#fff" stroke-width="1" stroke-linecap="butt" opacity="0.8"/>
<line x1="357.2" y1="872.5" x2="357.2" y2="944.3" stroke="#fff" stroke-width="1" stroke-linecap="butt" opacity="0.8"/>
<line x1="293.65" y1="909.31" x2="296.65" y2="906.31" stroke="#000" stroke-width="1.2" opacity="1.0"/>
<line x1="295.36" y1="888.19" x2="298.36" y2="885.19" stroke="#000" stroke-width="1.2" opacity="1.0"/>
<line x1="293.67" y1="899.39" x2="296.67" y2="896.39" stroke="#000" stroke-width="1.2" opacity="1.0"/>
<line x1="295.56" y1="893.43" x2="298.56" y2="890.43" stroke="#000" stroke-width="1.2" opacity="1.0"/>
<line x1="296.19" y1="895.02" x2="299.19" y2="892.02" stroke="#000" stroke-width="1.2" opacity="1.0"/>
<line x1="292.1" y1="923.62" x2="295.1" y2="920.62" stroke="#000" stroke-width="1.2" opacity="1.0"/>
<line x1="293.69" y1="883.06" x2="296.69" y2="880.06" stroke="#000" stroke-width="1.2" opacity="1.0"/>
<line x1="294.46" y1="881.06" x2="297.46" y2="878.06" stroke="#000" stroke-width="1.2" opacity="1.0"/>
<line x1="295.31" y1="923.46" x2="298.31" y2="920.46" stroke="#000" stroke-width="1.2" opacity="1.0"/>
<line x1="295.31" y1="918.7" x2="298.31" y2="915.7" stroke="#000" stroke-width="1.2" opacity="1.0"/>
<line x1="292.89" y1="903.11" x2="295.89" y2="900.11" stroke="#000" stroke-width="1.2" opacity="1.0"/>
<line x1="293.11" y1="936.76" x2="296.11" y2="933.76" stroke="#000" stroke-width="1.2" opacity="1.0"/>
<line x1="291.38" y1="936.63" x2="294.38" y2="933.63" stroke="#000" stroke-width="1.2" opacity="1.0"/>
<line x1="291.04" y1="889.68" x2="294.04" y2="886.68" stroke="#000" stroke-width="1.2" opacity="1.0"/>
<line x1="292.37" y1="937.5" x2="295.37" y2="934.5" stroke="#000" stroke-width="1.2" opacity="1.0"/>
<line x1="293.71" y1="901.6" x2="296.71" y2="898.6" stroke="#000" stroke-width="1.2" opacity="1.0"/>
<line x1="295.85" y1="891.57" x2="298.85" y2="888.57" stroke="#000" stroke-width="1.2" opacity="1.0"/>
<line x1="293.48" y1="912.07" x2="296.48" y2="909.07" stroke="#000" stroke-width="1.2" opacity="1.0"/>
<line x1="295.13" y1="927.31" x2="298.13" y2="924.31" stroke="#000" stroke-width="1.2" opacity="1.0"/>
<line x1="294.52" y1="899.48" x2="297.52" y2="896.48" stroke="#000" stroke-width="1.2" opacity="1.0"/>
<line x1="292.73" y1="886.19" x2="295.73" y2="883.19" stroke="#000" stroke-width="1.2" opacity="1.0"/>
<line x1="295.62" y1="921.05" x2="298.62" y2="918.05" stroke="#000" stroke-width="1.2" opacity="1.0"/>
<line x1="295.06" y1="887.17" x2="298.06" y2="884.17" stroke="#000" stroke-width="1.2" opacity="1.0"/>
<line x1="293.36" y1="928.71" x2="296.36" y2="925.71" stroke="#000" stroke-width="1.2" opacity="1.0"/>
<line x1="294.14" y1="884.17" x2="297.14" y2="881.17" stroke="#000" stroke-width="1.2" opacity="1.0"/>
<line x1="293.49" y1="936.4" x2="296.49" y2="933.4" stroke="#000" stroke-width="1.2" opacity="1.0"/>
<line x1="292.23" y1="888.68" x2="295.23" y2="885.68" stroke="#000" stroke-width="1.2" opacity="1.0"/>
<line x1="292.59" y1="923.88" x2="295.59" y2="920.88" stroke="#000" stroke-width="1.2" opacity="1.0"/>
<line x1="295.62" y1="886.14" x2="298.62" y2="883.14" stroke="#000" stroke-width="1.2" opacity="1.0"/>
<line x1="291.77" y1="892.53" x2="294.77" y2="889.53" stroke="#000" stroke-width="1.2" opacity="1.0"/>
<line x1="292.73" y1="911.43" x2="295.73" y2="908.43" stroke="#000" stroke-width="1.2" opacity="1.0"/>
<line x1="291.8" y1="898.07" x2="294.8" y2="895.07" stroke="#000" stroke-width="1.2" opacity="1.0"/>
<line x1="291.96" y1="942.59" x2="294.96" y2="939.59" stroke="#000" stroke-width="1.2" opacity="1.0"/>
<line x1="294.98" y1="882.5" x2="297.98" y2="879.5" stroke="#000" stroke-width="1.2" opacity="1.0"/>
<line x1="296.29" y1="882.49" x2="299.29" y2="879.49" stroke="#000" stroke-width="1.2" opacity="1.0"/>
<line x1="293.05" y1="943.19" x2="296.05" y2="940.19" stroke="#000" stroke-width="1.2" opacity="1.0"/>
<line x1="295.35" y1="925.95" x2="298.35" y2="922.95" stroke="#000" stroke-width="1.2" opacity="1.0"/>
<line x1="293.34" y1="889" x2="296.34" y2="886" stroke="#000" stroke-width="1.2" opacity="1.0"/>
<line x1="294.47" y1="882.85" x2="297.47" y2="879.85" stroke="#000" stroke-width="1.2" opacity="1.0"/>
<line x1="292.06" y1="902.22" x2="295.06" y2="899.22" stroke="#000" stroke-width="1.2" opacity="1.0"/>
<line x1="291.09" y1="902.95" x2="294.09" y2="899.95" stroke="#000" stroke-width="1.2" opacity="1.0"/>
<line x1="295.33" y1="923.21" x2="298.33" y2="920.21" stroke="#000" stroke-width="1.2" opacity="1.0"/>
<line x1="293.7" y1="919.01" x2="296.7" y2="916.01" stroke="#000" stroke-width="1.2" opacity="1.0"/>
<line x1="293.49" y1="885.26" x2="296.49" y2="882.26" stroke="#000" stroke-width="1.2" opacity="1.0"/>
<line x1="294.28" y1="903.34" x2="297.28" y2="900.34" stroke="#000" stroke-width="1.2" opacity="1.0"/>
<line x1="295.05" y1="937.97" x2="298.05" y2="934.97" stroke="#000" stroke-width="1.2" opacity="1.0"/>
<line x1="293.31" y1="914.99" x2="296.31" y2="911.99" stroke="#000" stroke-width="1.2" opacity="1.0"/>
<line x1="295.09" y1="904.48" x2="298.09" y2="901.48" stroke="#000" stroke-width="1.2" opacity="1.0"/>
<line x1="292.18" y1="925.19" x2="295.18" y2="922.19" stroke="#000" stroke-width="1.2" opacity="1.0"/>
<line x1="295.83" y1="928.75" x2="298.83" y2="925.75" stroke="#000" stroke-width="1.2" opacity="1.0"/>
<line x1="294.82" y1="934.15" x2="297.82" y2="931.15" stroke="#000" stroke-width="1.2" opacity="1.0"/>
<line x1="294.71" y1="919.64" x2="297.71" y2="916.64" stroke="#000" stroke-width="1.2" opacity="1.0"/>
<line x1="293.44" y1="897.04" x2="296.44" y2="894.04" stroke="#000" stroke-width="1.2" opacity="1.0"/>
<line x1="294.42" y1="882.23" x2="297.42" y2="879.23" stroke="#000" stroke-width="1.2" opacity="1.0"/>
<line x1="293.25" y1="929.33" x2="296.25" y2="926.33" stroke="#000" stroke-width="1.2" opacity="1.0"/>
<line x1="294.89" y1="918.82" x2="297.89" y2="915.82" stroke="#000" stroke-width="1.2" opacity="1.0"/>
<line x1="292.3" y1="904.64" x2="295.3" y2="901.64" stroke="#000" stroke-width="1.2" opacity="1.0"/>
<line x1="293.45" y1="918.26" x2="296.45" y2="915.26" stroke="#000" stroke-width="1.2" opacity="1.0"/>
<line x1="293.19" y1="921.96" x2="296.19" y2="918.96" stroke="#000" stroke-width="1.2" opacity="1.0"/>
<line x1="296.11" y1="888.09" x2="299.11" y2="885.09" stroke="#000" stroke-width="1.2" opacity="1.0"/>
<line x1="294.57" y1="929.04" x2="297.57" y2="926.04" stroke="#000" stroke-width="1.2" opacity="1.0"/>
<line x1="293.08" y1="909.2" x2="296.08" y2="906.2" stroke="#000" stroke-width="1.2" opacity="1.0"/>
<rect x="281.8" y="875" width="1.2" height="2" fill="#000" opacity="0.7"/>
<rect x="281.8" y="879" width="1.2" height="2" fill="#000" opacity="0.7"/>
<rect x="281.8" y="883" width="1.2" height="2" fill="#000" opacity="0.7"/>
<rect x="281.8" y="887" width="1.2" height="2" fill="#000" opacity="0.7"/>
<rect x="281.8" y="891" width="1.2" height="2" fill="#000" opacity="0.7"/>
<rect x="281.8" y="895" width="1.2" height="2" fill="#000" opacity="0.7"/>
<rect x="281.8" y="899" width="1.2" height="2" fill="#000" opacity="0.7"/>
<rect x="281.8" y="903" width="1.2" height="2" fill="#000" opacity="0.7"/>
<rect x="281.8" y="907" width="1.2" height="2" fill="#000" opacity="0.7"/>
<rect x="281.8" y="911" width="1.2" height="2" fill="#000" opacity="0.7"/>
<rect x="281.8" y="915" width="1.2" height="2" fill="#000" opacity="0.7"/>
<rect x="281.8" y="919" width="1.2" height="2" fill="#000" opacity="0.7"/>
<rect x="281.8" y="923" width="1.2" height="2" fill="#000" opacity="0.7"/>
<rect x="281.8" y="927" width="1.2" height="2" fill="#000" opacity="0.7"/>
<rect x="281.8" y="931" width="1.2" height="2" fill="#000" opacity="0.7"/>
<rect x="281.8" y="935" width="1.2" height="2" fill="#000" opacity="0.7"/>
<rect x="281.8" y="939" width="1.2" height="2" fill="#000" opacity="0.7"/>
<rect x="281.8" y="943" width="1.2" height="2" fill="#000" opacity="0.7"/>
<rect x="289.6" y="945.6" width="9.9" height="7.4" fill="#000" stroke="none" stroke-width="0"/>
<line x1="295.84" y1="949.25" x2="299.34" y2="945.75" stroke="#fff" stroke-width="0.96" opacity="0.75"/>
<line x1="349.23" y1="949.9" x2="352.23" y2="946.9" stroke="#000" stroke-width="1.2" opacity="1.0"/>
<line x1="362.06" y1="951.85" x2="365.06" y2="948.85" stroke="#000" stroke-width="1.2" opacity="1.0"/>
<line x1="347.93" y1="949.75" x2="350.93" y2="946.75" stroke="#000" stroke-width="1.2" opacity="1.0"/>
<line x1="350.91" y1="950.85" x2="353.91" y2="947.85" stroke="#000" stroke-width="1.2" opacity="1.0"/>
<line x1="358.59" y1="950.78" x2="361.59" y2="947.78" stroke="#000" stroke-width="1.2" opacity="1.0"/>
<line x1="354.39" y1="951.57" x2="357.39" y2="948.57" stroke="#000" stroke-width="1.2" opacity="1.0"/>
<line x1="348.07" y1="950.53" x2="351.07" y2="947.53" stroke="#000" stroke-width="1.2" opacity="1.0"/>
<line x1="371" y1="950.03" x2="374" y2="947.03" stroke="#000" stroke-width="1.2" opacity="1.0"/>
<line x1="356.82" y1="950.48" x2="359.82" y2="947.48" stroke="#000" stroke-width="1.2" opacity="1.0"/>
<line x1="361.03" y1="949.81" x2="364.03" y2="946.81" stroke="#000" stroke-width="1.2" opacity="1.0"/>
<line x1="372.96" y1="950.39" x2="375.96" y2="947.39" stroke="#000" stroke-width="1.2" opacity="1.0"/>
<line x1="323.05" y1="950.19" x2="326.05" y2="947.19" stroke="#000" stroke-width="1.2" opacity="1.0"/>
<line x1="341.5" y1="949.53" x2="344.5" y2="946.53" stroke="#000" stroke-width="1.2" opacity="1.0"/>
<line x1="342.52" y1="950.55" x2="345.52" y2="947.55" stroke="#000" stroke-width="1.2" opacity="1.0"/>
<line x1="357.57" y1="950.38" x2="360.57" y2="947.38" stroke="#000" stroke-width="1.2" opacity="1.0"/>
<line x1="334.27" y1="950.06" x2="337.27" y2="947.06" stroke="#000" stroke-width="1.2" opacity="1.0"/>
<line x1="359.89" y1="951.85" x2="362.89" y2="948.85" stroke="#000" stroke-width="1.2" opacity="1.0"/>
<line x1="348.36" y1="950.05" x2="351.36" y2="947.05" stroke="#000" stroke-width="1.2" opacity="1.0"/>
<line x1="363.12" y1="950.48" x2="366.12" y2="947.48" stroke="#000" stroke-width="1.2" opacity="1.0"/>
<line x1="331.41" y1="949.82" x2="334.41" y2="946.82" stroke="#000" stroke-width="1.2" opacity="1.0"/>
<line x1="361.78" y1="951.52" x2="364.78" y2="948.52" stroke="#000" stroke-width="1.2" opacity="1.0"/>
<line x1="354.13" y1="950.67" x2="357.13" y2="947.67" stroke="#000" stroke-width="1.2" opacity="1.0"/>
<line x1="350.24" y1="950.06" x2="353.24" y2="947.06" stroke="#000" stroke-width="1.2" opacity="1.0"/>
<line x1="371.86" y1="950.38" x2="374.86" y2="947.38" stroke="#000" stroke-width="1.2" opacity="1.0"/>
<line x1="354.37" y1="951.55" x2="357.37" y2="948.55" stroke="#000" stroke-width="1.2" opacity="1.0"/>
<line x1="363.91" y1="950.67" x2="366.91" y2="947.67" stroke="#000" stroke-width="1.2" opacity="1.0"/>
<line x1="335.84" y1="950.87" x2="338.84" y2="947.87" stroke="#000" stroke-width="1.2" opacity="1.0"/>
<line x1="326.73" y1="951.58" x2="329.73" y2="948.58" stroke="#000" stroke-width="1.2" opacity="1.0"/>
<line x1="339.09" y1="951.63" x2="342.09" y2="948.63" stroke="#000" stroke-width="1.2" opacity="1.0"/>
<line x1="334.39" y1="950.44" x2="337.39" y2="947.44" stroke="#000" stroke-width="1.2" opacity="1.0"/>
<line x1="333.64" y1="950.57" x2="336.64" y2="947.57" stroke="#000" stroke-width="1.2" opacity="1.0"/>
<line x1="330" y1="949.51" x2="333" y2="946.51" stroke="#000" stroke-width="1.2" opacity="1.0"/>
<line x1="358.83" y1="950.2" x2="361.83" y2="947.2" stroke="#000" stroke-width="1.2" opacity="1.0"/>
<line x1="333.18" y1="950.25" x2="336.18" y2="947.25" stroke="#000" stroke-width="1.2" opacity="1.0"/>
<line x1="345.8" y1="950.57" x2="348.8" y2="947.57" stroke="#000" stroke-width="1.2" opacity="1.0"/>
<line x1="354.29" y1="951.15" x2="357.29" y2="948.15" stroke="#000" stroke-width="1.2" opacity="1.0"/>
<rect x="300" y="959" width="3" height="1.2" fill="#000" opacity="0.6"/>
<rect x="306" y="959" width="3" height="1.2" fill="#000" opacity="0.6"/>
<rect x="312" y="959" width="3" height="1.2" fill="#000" opacity="0.6"/>
<rect x="318" y="959" width="3" height="1.2" fill="#000" opacity="0.6"/>
<rect x="324" y="959" width="3" height="1.2" fill="#000" opacity="0.6"/>
<rect x="330" y="959" width="3" height="1.2" fill="#000" opacity="0.6"/>
<rect x="336" y="959" width="3" height="1.2" fill="#000" opacity="0.6"/>
<rect x="342" y="959" width="3" height="1.2" fill="#000" opacity="0.6"/>
<rect x="348" y="959" width="3" height="1.2" fill="#000" opacity="0.6"/>
<rect x="354" y="959" width="3" height="1.2" fill="#000" opacity="0.6"/>
<rect x="360" y="959" width="3" height="1.2" fill="#000" opacity="0.6"/>
<rect x="366" y="959" width="3" height="1.2" fill="#000" opacity="0.6"/>
<rect x="372" y="959" width="3" height="1.2" fill="#000" opacity="0.6"/>
<line x1="400" y1="875.6" x2="411" y2="875.6" stroke="#000" stroke-width="1.6" stroke-linecap="butt"/>
<line x1="400" y1="882.3" x2="411" y2="882.3" stroke="#000" stroke-width="1.6" stroke-linecap="butt"/>
<line x1="400" y1="886" x2="411" y2="886" stroke="#000" stroke-width="1.6" stroke-linecap="butt"/>
<line x1="400" y1="892.8" x2="411" y2="892.8" stroke="#000" stroke-width="1.6" stroke-linecap="butt"/>
<line x1="400" y1="899.5" x2="411" y2="899.5" stroke="#000" stroke-width="1.6" stroke-linecap="butt"/>
<line x1="400" y1="913" x2="411" y2="913" stroke="#000" stroke-width="1.6" stroke-linecap="butt"/>
<line x1="400" y1="926.5" x2="411" y2="926.5" stroke="#000" stroke-width="1.6" stroke-linecap="butt"/>
<line x1="400" y1="935.1" x2="411" y2="935.1" stroke="#000" stroke-width="1.6" stroke-linecap="butt"/>
<line x1="400" y1="905" x2="472.6" y2="905" stroke="#000" stroke-width="2.2" stroke-linecap="butt"/>
<line x1="427.85" y1="878.29" x2="429.58" y2="876.55" stroke="#000" stroke-width="1.2" opacity="1.0"/>
<line x1="426.57" y1="879.36" x2="430.05" y2="875.88" stroke="#000" stroke-width="1.2" opacity="1.0"/>
<line x1="427.51" y1="885.35" x2="429.14" y2="883.71" stroke="#000" stroke-width="1.2" opacity="1.0"/>
<line x1="423.46" y1="887.39" x2="426.63" y2="884.22" stroke="#000" stroke-width="1.2" opacity="1.0"/>
<line x1="424.33" y1="891.65" x2="426.49" y2="889.49" stroke="#000" stroke-width="1.2" opacity="1.0"/>
<line x1="427.12" y1="892.37" x2="429.09" y2="890.4" stroke="#000" stroke-width="1.2" opacity="1.0"/>
<line x1="426.83" y1="924.17" x2="430.3" y2="920.7" stroke="#000" stroke-width="1.2" opacity="1.0"/>
<line x1="425.93" y1="925.32" x2="429.42" y2="921.83" stroke="#000" stroke-width="1.2" opacity="1.0"/>
<line x1="426.08" y1="943.81" x2="429.46" y2="940.43" stroke="#000" stroke-width="1.2" opacity="1.0"/>
<line x1="425.29" y1="945" x2="428.22" y2="942.06" stroke="#000" stroke-width="1.2" opacity="1.0"/>
<line x1="441.85" y1="875.95" x2="444.63" y2="873.17" stroke="#000" stroke-width="1.2" opacity="1.0"/>
<line x1="441.56" y1="876.84" x2="443.51" y2="874.9" stroke="#000" stroke-width="1.2" opacity="1.0"/>
<line x1="442.46" y1="885.99" x2="446.13" y2="882.32" stroke="#000" stroke-width="1.2" opacity="1.0"/>
<line x1="440.96" y1="886.72" x2="443.69" y2="884" stroke="#000" stroke-width="1.2" opacity="1.0"/>
<line x1="443.71" y1="894.61" x2="446.21" y2="892.11" stroke="#000" stroke-width="1.2" opacity="1.0"/>
<line x1="443.08" y1="894.73" x2="444.87" y2="892.95" stroke="#000" stroke-width="1.2" opacity="1.0"/>
<line x1="443.31" y1="899.65" x2="446.38" y2="896.58" stroke="#000" stroke-width="1.2" opacity="1.0"/>
<line x1="443.83" y1="902.92" x2="446.23" y2="900.53" stroke="#000" stroke-width="1.2" opacity="1.0"/>
<line x1="443.4" y1="924.43" x2="445.08" y2="922.75" stroke="#000" stroke-width="1.2" opacity="1.0"/>
<line x1="443.97" y1="923.71" x2="446.38" y2="921.29" stroke="#000" stroke-width="1.2" opacity="1.0"/>
<line x1="442.47" y1="943.83" x2="445.92" y2="940.38" stroke="#000" stroke-width="1.2" opacity="1.0"/>
<line x1="441.84" y1="943.05" x2="444.45" y2="940.43" stroke="#000" stroke-width="1.2" opacity="1.0"/>
<line x1="457.31" y1="876.96" x2="460.9" y2="873.38" stroke="#000" stroke-width="1.2" opacity="1.0"/>
<line x1="456.29" y1="877.14" x2="458.54" y2="874.89" stroke="#000" stroke-width="1.2" opacity="1.0"/>
<line x1="457.95" y1="886.37" x2="461.45" y2="882.87" stroke="#000" stroke-width="1.2" opacity="1.0"/>
<line x1="455.96" y1="884.43" x2="458.28" y2="882.11" stroke="#000" stroke-width="1.2" opacity="1.0"/>
<line x1="457.49" y1="893.98" x2="459.19" y2="892.29" stroke="#000" stroke-width="1.2" opacity="1.0"/>
<line x1="457.24" y1="895" x2="460.15" y2="892.09" stroke="#000" stroke-width="1.2" opacity="1.0"/>
<line x1="455.97" y1="899.05" x2="458.03" y2="897" stroke="#000" stroke-width="1.2" opacity="1.0"/>
<line x1="457.9" y1="902.02" x2="461.08" y2="898.85" stroke="#000" stroke-width="1.2" opacity="1.0"/>
<line x1="456.63" y1="936.14" x2="459.9" y2="932.87" stroke="#000" stroke-width="1.2" opacity="1.0"/>
<line x1="457.13" y1="935.78" x2="459.24" y2="933.67" stroke="#000" stroke-width="1.2" opacity="1.0"/>
<line x1="456.71" y1="943.97" x2="458.55" y2="942.13" stroke="#000" stroke-width="1.2" opacity="1.0"/>
<line x1="454.8" y1="941.88" x2="458.25" y2="938.42" stroke="#000" stroke-width="1.2" opacity="1.0"/>
<line x1="467.73" y1="887.03" x2="471.22" y2="883.55" stroke="#000" stroke-width="1.2" opacity="1.0"/>
<line x1="469.09" y1="884.19" x2="471.41" y2="881.87" stroke="#000" stroke-width="1.2" opacity="1.0"/>
<line x1="467.7" y1="893.29" x2="470.84" y2="890.15" stroke="#000" stroke-width="1.2" opacity="1.0"/>
<line x1="470.25" y1="891.7" x2="473.22" y2="888.74" stroke="#000" stroke-width="1.2" opacity="1.0"/>
<line x1="466.99" y1="902.73" x2="469.97" y2="899.75" stroke="#000" stroke-width="1.2" opacity="1.0"/>
<line x1="470.86" y1="900.6" x2="472.49" y2="898.97" stroke="#000" stroke-width="1.2" opacity="1.0"/>
<line x1="468.39" y1="915.73" x2="472.34" y2="911.77" stroke="#000" stroke-width="1.2" opacity="1.0"/>
<line x1="468.98" y1="912.57" x2="470.82" y2="910.73" stroke="#000" stroke-width="1.2" opacity="1.0"/>
<line x1="468.03" y1="921.43" x2="469.67" y2="919.79" stroke="#000" stroke-width="1.2" opacity="1.0"/>
<line x1="467.07" y1="923.68" x2="468.97" y2="921.79" stroke="#000" stroke-width="1.2" opacity="1.0"/>
<line x1="470.66" y1="941.34" x2="472.3" y2="939.69" stroke="#000" stroke-width="1.2" opacity="1.0"/>
<line x1="469.2" y1="942.65" x2="472.56" y2="939.29" stroke="#000" stroke-width="1.2" opacity="1.0"/>
<line x1="413.04" y1="878.95" x2="416.04" y2="875.95" stroke="#000" stroke-width="1.2" opacity="1.0"/>
<line x1="453.87" y1="924.59" x2="456.87" y2="921.59" stroke="#000" stroke-width="1.2" opacity="1.0"/>
<line x1="459.54" y1="925.7" x2="462.54" y2="922.7" stroke="#000" stroke-width="1.2" opacity="1.0"/>
<line x1="405.87" y1="918.75" x2="408.87" y2="915.75" stroke="#000" stroke-width="1.2" opacity="1.0"/>
<line x1="449.36" y1="907.19" x2="452.36" y2="904.19" stroke="#000" stroke-width="1.2" opacity="1.0"/>
<line x1="464.89" y1="892.98" x2="467.89" y2="889.98" stroke="#000" stroke-width="1.2" opacity="1.0"/>
<line x1="467.12" y1="924.84" x2="470.12" y2="921.84" stroke="#000" stroke-width="1.2" opacity="1.0"/>
<line x1="400.79" y1="876.51" x2="403.79" y2="873.51" stroke="#000" stroke-width="1.2" opacity="1.0"/>
<line x1="445.29" y1="931.73" x2="448.29" y2="928.73" stroke="#000" stroke-width="1.2" opacity="1.0"/>
<line x1="405.55" y1="896.9" x2="408.55" y2="893.9" stroke="#000" stroke-width="1.2" opacity="1.0"/>
<line x1="450.77" y1="886.92" x2="453.77" y2="883.92" stroke="#000" stroke-width="1.2" opacity="1.0"/>
<line x1="459.92" y1="908.96" x2="462.92" y2="905.96" stroke="#000" stroke-width="1.2" opacity="1.0"/>
<line x1="404.16" y1="900.79" x2="407.16" y2="897.79" stroke="#000" stroke-width="1.2" opacity="1.0"/>
<line x1="440.02" y1="905.68" x2="443.02" y2="902.68" stroke="#000" stroke-width="1.2" opacity="1.0"/>
<line x1="447.11" y1="885.47" x2="450.11" y2="882.47" stroke="#000" stroke-width="1.2" opacity="1.0"/>
<line x1="455.5" y1="900.49" x2="458.5" y2="897.49" stroke="#000" stroke-width="1.2" opacity="1.0"/>
<line x1="444.88" y1="918.82" x2="447.88" y2="915.82" stroke="#000" stroke-width="1.2" opacity="1.0"/>
<line x1="429.09" y1="902.04" x2="432.09" y2="899.04" stroke="#000" stroke-width="1.2" opacity="1.0"/>
<line x1="454.72" y1="940.51" x2="457.72" y2="937.51" stroke="#000" stroke-width="1.2" opacity="1.0"/>
<line x1="454.61" y1="914.5" x2="457.61" y2="911.5" stroke="#000" stroke-width="1.2" opacity="1.0"/>
<line x1="420.35" y1="879.67" x2="423.35" y2="876.67" stroke="#000" stroke-width="1.2" opacity="1.0"/>
<line x1="467.79" y1="923.88" x2="470.79" y2="920.88" stroke="#000" stroke-width="1.2" opacity="1.0"/>
<line x1="457.59" y1="898.34" x2="460.59" y2="895.34" stroke="#000" stroke-width="1.2" opacity="1.0"/>
<line x1="442.17" y1="942.75" x2="445.17" y2="939.75" stroke="#000" stroke-width="1.2" opacity="1.0"/>
<line x1="457.86" y1="916.86" x2="460.86" y2="913.86" stroke="#000" stroke-width="1.2" opacity="1.0"/>
<line x1="421.48" y1="904.99" x2="424.48" y2="901.99" stroke="#000" stroke-width="1.2" opacity="1.0"/>
<line x1="461.81" y1="901.42" x2="464.81" y2="898.42" stroke="#000" stroke-width="1.2" opacity="1.0"/>
<line x1="447.66" y1="916.9" x2="450.66" y2="913.9" stroke="#000" stroke-width="1.2" opacity="1.0"/>
<line x1="462.37" y1="931.05" x2="465.37" y2="928.05" stroke="#000" stroke-width="1.2" opacity="1.0"/>
<line x1="419.72" y1="875.62" x2="422.72" y2="872.62" stroke="#000" stroke-width="1.2" opacity="1.0"/>
<line x1="418.31" y1="904.57" x2="421.31" y2="901.57" stroke="#000" stroke-width="1.2" opacity="1.0"/>
<line x1="440.83" y1="931.64" x2="443.83" y2="928.64" stroke="#000" stroke-width="1.2" opacity="1.0"/>
<line x1="461.77" y1="878.41" x2="464.77" y2="875.41" stroke="#000" stroke-width="1.2" opacity="1.0"/>
<line x1="457.99" y1="931.35" x2="460.99" y2="928.35" stroke="#000" stroke-width="1.2" opacity="1.0"/>
<line x1="460.36" y1="914.85" x2="463.36" y2="911.85" stroke="#000" stroke-width="1.2" opacity="1.0"/>
<line x1="419.06" y1="934.06" x2="422.06" y2="931.06" stroke="#000" stroke-width="1.2" opacity="1.0"/>
<line x1="456.17" y1="922.6" x2="459.17" y2="919.6" stroke="#000" stroke-width="1.2" opacity="1.0"/>
<line x1="463.6" y1="899.36" x2="466.6" y2="896.36" stroke="#000" stroke-width="1.2" opacity="1.0"/>
<line x1="405.92" y1="913.59" x2="408.92" y2="910.59" stroke="#000" stroke-width="1.2" opacity="1.0"/>
<line x1="455.5" y1="889.29" x2="458.5" y2="886.29" stroke="#000" stroke-width="1.2" opacity="1.0"/>
<line x1="452.21" y1="939.6" x2="455.21" y2="936.6" stroke="#000" stroke-width="1.2" opacity="1.0"/>
<line x1="416.29" y1="917.25" x2="419.29" y2="914.25" stroke="#000" stroke-width="1.2" opacity="1.0"/>
<line x1="447.17" y1="907.51" x2="450.17" y2="904.51" stroke="#000" stroke-width="1.2" opacity="1.0"/>
<line x1="414.38" y1="893.03" x2="417.38" y2="890.03" stroke="#000" stroke-width="1.2" opacity="1.0"/>
<line x1="452.28" y1="929.97" x2="455.28" y2="926.97" stroke="#000" stroke-width="1.2" opacity="1.0"/>
<line x1="432" y1="881.53" x2="435" y2="878.53" stroke="#000" stroke-width="1.2" opacity="1.0"/>
<line x1="456.14" y1="928.63" x2="459.14" y2="925.63" stroke="#000" stroke-width="1.2" opacity="1.0"/>
<line x1="416.21" y1="915.38" x2="419.21" y2="912.38" stroke="#000" stroke-width="1.2" opacity="1.0"/>
<line x1="462.43" y1="936.39" x2="465.43" y2="933.39" stroke="#000" stroke-width="1.2" opacity="1.0"/>
<line x1="436.32" y1="908.29" x2="439.32" y2="905.29" stroke="#000" stroke-width="1.2" opacity="1.0"/>
<line x1="441.02" y1="888.51" x2="444.02" y2="885.51" stroke="#000" stroke-width="1.2" opacity="1.0"/>
<line x1="413.39" y1="887.93" x2="416.39" y2="884.93" stroke="#000" stroke-width="1.2" opacity="1.0"/>
<line x1="448.79" y1="900.46" x2="451.79" y2="897.46" stroke="#000" stroke-width="1.2" opacity="1.0"/>
<line x1="439.28" y1="903.19" x2="442.28" y2="900.19" stroke="#000" stroke-width="1.2" opacity="1.0"/>
<line x1="436" y1="885.75" x2="439" y2="882.75" stroke="#000" stroke-width="1.2" opacity="1.0"/>
<line x1="403.1" y1="944.1" x2="406.1" y2="941.1" stroke="#000" stroke-width="1.2" opacity="1.0"/>
<line x1="426.03" y1="882.8" x2="429.03" y2="879.8" stroke="#000" stroke-width="1.2" opacity="1.0"/>
<line x1="444.04" y1="929.67" x2="447.04" y2="926.67" stroke="#000" stroke-width="1.2" opacity="1.0"/>
<line x1="410.87" y1="916.59" x2="413.87" y2="913.59" stroke="#000" stroke-width="1.2" opacity="1.0"/>
<line x1="424.01" y1="911.24" x2="427.01" y2="908.24" stroke="#000" stroke-width="1.2" opacity="1.0"/>
<line x1="401.43" y1="877.81" x2="404.43" y2="874.81" stroke="#000" stroke-width="1.2" opacity="1.0"/>
<line x1="468.93" y1="935.09" x2="471.93" y2="932.09" stroke="#000" stroke-width="1.2" opacity="1.0"/>
<line x1="433.85" y1="914.52" x2="436.85" y2="911.52" stroke="#000" stroke-width="1.2" opacity="1.0"/>
<line x1="418.21" y1="836.76" x2="421.21" y2="833.76" stroke="#000" stroke-width="1.2" opacity="1.0"/>
<line x1="429.65" y1="847.55" x2="432.65" y2="844.55" stroke="#000" stroke-width="1.2" opacity="1.0"/>
<line x1="453.4" y1="839.31" x2="456.4" y2="836.31" stroke="#000" stroke-width="1.2" opacity="1.0"/>
<line x1="467.06" y1="802.88" x2="470.06" y2="799.88" stroke="#000" stroke-width="1.2" opacity="1.0"/>
<line x1="402.64" y1="799.46" x2="405.64" y2="796.46" stroke="#000" stroke-width="1.2" opacity="1.0"/>
<line x1="412.58" y1="791.9" x2="415.58" y2="788.9" stroke="#000" stroke-width="1.2" opacity="1.0"/>
<line x1="403.55" y1="822.45" x2="406.55" y2="819.45" stroke="#000" stroke-width="1.2" opacity="1.0"/>
<line x1="460.6" y1="816.06" x2="463.6" y2="813.06" stroke="#000" stroke-width="1.2" opacity="1.0"/>
<line x1="465.93" y1="845.19" x2="468.93" y2="842.19" stroke="#000" stroke-width="1.2" opacity="1.0"/>
<line x1="404.47" y1="825.08" x2="407.47" y2="822.08" stroke="#000" stroke-width="1.2" opacity="1.0"/>
<line x1="427.66" y1="794.23" x2="430.66" y2="791.23" stroke="#000" stroke-width="1.2" opacity="1.0"/>
<line x1="466.77" y1="803.09" x2="469.77" y2="800.09" stroke="#000" stroke-width="1.2" opacity="1.0"/>
<line x1="439.29" y1="827.82" x2="442.29" y2="824.82" stroke="#000" stroke-width="1.2" opacity="1.0"/>
<line x1="466.57" y1="829.7" x2="469.57" y2="826.7" stroke="#000" stroke-width="1.2" opacity="1.0"/>
<line x1="427.36" y1="815.42" x2="430.36" y2="812.42" stroke="#000" stroke-width="1.2" opacity="1.0"/>
<line x1="411.12" y1="848.79" x2="414.12" y2="845.79" stroke="#000" stroke-width="1.2" opacity="1.0"/>
<line x1="469.02" y1="800.8" x2="472.02" y2="797.8" stroke="#000" stroke-width="1.2" opacity="1.0"/>
<line x1="402.69" y1="803" x2="405.69" y2="800" stroke="#000" stroke-width="1.2" opacity="1.0"/>
<line x1="424.5" y1="844.73" x2="427.5" y2="841.73" stroke="#000" stroke-width="1.2" opacity="1.0"/>
<line x1="462.96" y1="840.5" x2="465.96" y2="837.5" stroke="#000" stroke-width="1.2" opacity="1.0"/>
<line x1="403.27" y1="837.22" x2="406.27" y2="834.22" stroke="#000" stroke-width="1.2" opacity="1.0"/>
<line x1="449.39" y1="828.21" x2="452.39" y2="825.21" stroke="#000" stroke-width="1.2" opacity="1.0"/>
<line x1="468.59" y1="790.1" x2="471.59" y2="787.1" stroke="#000" stroke-width="1.2" opacity="1.0"/>
<line x1="410.08" y1="835.19" x2="413.08" y2="832.19" stroke="#000" stroke-width="1.2" opacity="1.0"/>
<line x1="465.38" y1="830.16" x2="468.38" y2="827.16" stroke="#000" stroke-width="1.2" opacity="1.0"/>
<line x1="420.8" y1="824.65" x2="423.8" y2="821.65" stroke="#000" stroke-width="1.2" opacity="1.0"/>
<line x1="452.75" y1="793.3" x2="455.75" y2="790.3" stroke="#000" stroke-width="1.2" opacity="1.0"/>
<line x1="422.54" y1="803.08" x2="425.54" y2="800.08" stroke="#000" stroke-width="1.2" opacity="1.0"/>
<line x1="408.64" y1="817.54" x2="411.64" y2="814.54" stroke="#000" stroke-width="1.2" opacity="1.0"/>
<line x1="411.73" y1="801.88" x2="414.73" y2="798.88" stroke="#000" stroke-width="1.2" opacity="1.0"/>
<line x1="409.96" y1="830.21" x2="412.96" y2="827.21" stroke="#000" stroke-width="1.2" opacity="1.0"/>
<line x1="400.88" y1="832.76" x2="403.88" y2="829.76" stroke="#000" stroke-width="1.2" opacity="1.0"/>
<line x1="413.58" y1="788.82" x2="416.58" y2="785.82" stroke="#000" stroke-width="1.2" opacity="1.0"/>
<line x1="464.57" y1="800.73" x2="467.57" y2="797.73" stroke="#000" stroke-width="1.2" opacity="1.0"/>
<line x1="465" y1="842.41" x2="468" y2="839.41" stroke="#000" stroke-width="1.2" opacity="1.0"/>
<line x1="461.85" y1="795.51" x2="464.85" y2="792.51" stroke="#000" stroke-width="1.2" opacity="1.0"/>
<line x1="431.13" y1="792.76" x2="434.13" y2="789.76" stroke="#000" stroke-width="1.2" opacity="1.0"/>
<line x1="464.64" y1="840.83" x2="467.64" y2="837.83" stroke="#000" stroke-width="1.2" opacity="1.0"/>
<line x1="443.73" y1="815.68" x2="446.73" y2="812.68" stroke="#000" stroke-width="1.2" opacity="1.0"/>
<line x1="423.65" y1="839.59" x2="426.65" y2="836.59" stroke="#000" stroke-width="1.2" opacity="1.0"/>
<line x1="433.24" y1="827.02" x2="436.24" y2="824.02" stroke="#000" stroke-width="1.2" opacity="1.0"/>
<line x1="409.94" y1="800.8" x2="412.94" y2="797.8" stroke="#000" stroke-width="1.2" opacity="1.0"/>
<line x1="403.95" y1="832.54" x2="406.95" y2="829.54" stroke="#000" stroke-width="1.2" opacity="1.0"/>
<line x1="438.51" y1="795.83" x2="441.51" y2="792.83" stroke="#000" stroke-width="1.2" opacity="1.0"/>
<line x1="460.6" y1="803.68" x2="463.6" y2="800.68" stroke="#000" stroke-width="1.2" opacity="1.0"/>
<line x1="428.66" y1="796.54" x2="431.66" y2="793.54" stroke="#000" stroke-width="1.2" opacity="1.0"/>
<line x1="418.87" y1="840.65" x2="421.87" y2="837.65" stroke="#000" stroke-width="1.2" opacity="1.0"/>
<line x1="423.28" y1="797.32" x2="426.28" y2="794.32" stroke="#000" stroke-width="1.2" opacity="1.0"/>
<line x1="434.17" y1="807.02" x2="437.17" y2="804.02" stroke="#000" stroke-width="1.2" opacity="1.0"/>
<line x1="462.86" y1="793.86" x2="465.86" y2="790.86" stroke="#000" stroke-width="1.2" opacity="1.0"/>
<line x1="468.11" y1="790.17" x2="471.11" y2="787.17" stroke="#000" stroke-width="1.2" opacity="1.0"/>
<line x1="462.29" y1="829.6" x2="465.29" y2="826.6" stroke="#000" stroke-width="1.2" opacity="1.0"/>
<line x1="414.7" y1="817.3" x2="417.7" y2="814.3" stroke="#000" stroke-width="1.2" opacity="1.0"/>
<line x1="419.92" y1="803.13" x2="422.92" y2="800.13" stroke="#000" stroke-width="1.2" opacity="1.0"/>
<line x1="414.03" y1="810" x2="417.03" y2="807" stroke="#000" stroke-width="1.2" opacity="1.0"/>
<line x1="468.98" y1="850.88" x2="471.98" y2="847.88" stroke="#000" stroke-width="1.2" opacity="1.0"/>
<line x1="464.39" y1="792.79" x2="467.39" y2="789.79" stroke="#000" stroke-width="1.2" opacity="1.0"/>
<line x1="420.14" y1="844.3" x2="423.14" y2="841.3" stroke="#000" stroke-width="1.2" opacity="1.0"/>
<line x1="404" y1="833.36" x2="407" y2="830.36" stroke="#000" stroke-width="1.2" opacity="1.0"/>
<line x1="396.46" y1="844.26" x2="400.96" y2="839.77" stroke="#000" stroke-width="1.4" opacity="1.0"/>
<line x1="398.99" y1="844.59" x2="402.29" y2="841.28" stroke="#000" stroke-width="1.4" opacity="1.0"/>
<line x1="402.87" y1="847.89" x2="407.18" y2="843.58" stroke="#000" stroke-width="1.4" opacity="1.0"/>
<line x1="406.77" y1="846.94" x2="409.01" y2="844.7" stroke="#000" stroke-width="1.4" opacity="1.0"/>
<line x1="408.05" y1="846.56" x2="410.66" y2="843.94" stroke="#000" stroke-width="1.4" opacity="1.0"/>
<line x1="407.72" y1="849.63" x2="412.16" y2="845.2" stroke="#000" stroke-width="1.4" opacity="1.0"/>
<line x1="407.1" y1="844.12" x2="411.3" y2="839.92" stroke="#000" stroke-width="1.4" opacity="1.0"/>
<line x1="409.15" y1="846.38" x2="411.31" y2="844.21" stroke="#000" stroke-width="1.4" opacity="1.0"/>
<line x1="412.03" y1="852.66" x2="416.62" y2="848.06" stroke="#000" stroke-width="1.4" opacity="1.0"/>
<line x1="412.75" y1="848.59" x2="417.48" y2="843.86" stroke="#000" stroke-width="1.4" opacity="1.0"/>
<line x1="411" y1="840.53" x2="413.56" y2="837.97" stroke="#000" stroke-width="1.4" opacity="1.0"/>
<line x1="410.83" y1="841" x2="413.32" y2="838.51" stroke="#000" stroke-width="1.4" opacity="1.0"/>
<line x1="407.04" y1="837.65" x2="410.6" y2="834.09" stroke="#000" stroke-width="1.4" opacity="1.0"/>
<line x1="406.9" y1="839.61" x2="409.26" y2="837.25" stroke="#000" stroke-width="1.4" opacity="1.0"/>
<line x1="416.99" y1="846.7" x2="419.96" y2="843.74" stroke="#000" stroke-width="1.4" opacity="1.0"/>
<line x1="415.82" y1="844.93" x2="420.08" y2="840.67" stroke="#000" stroke-width="1.4" opacity="1.0"/>
<line x1="404.21" y1="834.6" x2="407.69" y2="831.12" stroke="#000" stroke-width="1.4" opacity="1.0"/>
<line x1="402.35" y1="832.55" x2="405.96" y2="828.93" stroke="#000" stroke-width="1.4" opacity="1.0"/>
<line x1="406.17" y1="828" x2="408.72" y2="825.45" stroke="#000" stroke-width="1.4" opacity="1.0"/>
<line x1="400.89" y1="829.08" x2="405.34" y2="824.63" stroke="#000" stroke-width="1.4" opacity="1.0"/>
<line x1="401.98" y1="830.58" x2="404.56" y2="827.99" stroke="#000" stroke-width="1.4" opacity="1.0"/>
<line x1="401.01" y1="830.65" x2="404.74" y2="826.92" stroke="#000" stroke-width="1.4" opacity="1.0"/>
<line x1="415.47" y1="836.58" x2="420.08" y2="831.97" stroke="#000" stroke-width="1.4" opacity="1.0"/>
<line x1="416.66" y1="835.17" x2="419.03" y2="832.8" stroke="#000" stroke-width="1.4" opacity="1.0"/>
<line x1="415.01" y1="835.77" x2="417.37" y2="833.4" stroke="#000" stroke-width="1.4" opacity="1.0"/>
<line x1="413.83" y1="835.76" x2="417.6" y2="831.98" stroke="#000" stroke-width="1.4" opacity="1.0"/>
<line x1="421.32" y1="843.69" x2="425.56" y2="839.45" stroke="#000" stroke-width="1.4" opacity="1.0"/>
<line x1="421.12" y1="845.24" x2="425.93" y2="840.43" stroke="#000" stroke-width="1.4" opacity="1.0"/>
<line x1="413.76" y1="835.43" x2="417.34" y2="831.85" stroke="#000" stroke-width="1.4" opacity="1.0"/>
<line x1="413.26" y1="836.32" x2="417.59" y2="831.99" stroke="#000" stroke-width="1.4" opacity="1.0"/>
<line x1="413.82" y1="830.1" x2="417.13" y2="826.8" stroke="#000" stroke-width="1.4" opacity="1.0"/>
<line x1="416.81" y1="833.16" x2="421.55" y2="828.43" stroke="#000" stroke-width="1.4" opacity="1.0"/>
<line x1="426.07" y1="838.16" x2="429.63" y2="834.6" stroke="#000" stroke-width="1.4" opacity="1.0"/>
<line x1="427.03" y1="842.16" x2="429.78" y2="839.41" stroke="#000" stroke-width="1.4" opacity="1.0"/>
<line x1="419.09" y1="830.34" x2="422.68" y2="826.75" stroke="#000" stroke-width="1.4" opacity="1.0"/>
<line x1="416.31" y1="830.65" x2="419.83" y2="827.13" stroke="#000" stroke-width="1.4" opacity="1.0"/>
<line x1="408.39" y1="825.87" x2="412.72" y2="821.54" stroke="#000" stroke-width="1.4" opacity="1.0"/>
<line x1="412.33" y1="824.24" x2="416.76" y2="819.81" stroke="#000" stroke-width="1.4" opacity="1.0"/>
<line x1="431.06" y1="836.23" x2="434.98" y2="832.31" stroke="#000" stroke-width="1.4" opacity="1.0"/>
<line x1="428.51" y1="838.9" x2="431.34" y2="836.08" stroke="#000" stroke-width="1.4" opacity="1.0"/>
<line x1="425.14" y1="831.87" x2="427.89" y2="829.12" stroke="#000" stroke-width="1.4" opacity="1.0"/>
<line x1="422.07" y1="831.99" x2="426.92" y2="827.13" stroke="#000" stroke-width="1.4" opacity="1.0"/>
<line x1="419.06" y1="825.13" x2="421.42" y2="822.77" stroke="#000" stroke-width="1.4" opacity="1.0"/>
<line x1="419.91" y1="827.26" x2="423.45" y2="823.72" stroke="#000" stroke-width="1.4" opacity="1.0"/>
<line x1="419.45" y1="824.23" x2="421.89" y2="821.78" stroke="#000" stroke-width="1.4" opacity="1.0"/>
<line x1="417.52" y1="822.43" x2="420.4" y2="819.55" stroke="#000" stroke-width="1.4" opacity="1.0"/>
<line x1="423.17" y1="823.7" x2="425.43" y2="821.44" stroke="#000" stroke-width="1.4" opacity="1.0"/>
<line x1="423.67" y1="827.47" x2="427.5" y2="823.64" stroke="#000" stroke-width="1.4" opacity="1.0"/>
<line x1="427.25" y1="827.63" x2="431.38" y2="823.5" stroke="#000" stroke-width="1.4" opacity="1.0"/>
<line x1="426.45" y1="829.22" x2="430.29" y2="825.38" stroke="#000" stroke-width="1.4" opacity="1.0"/>
<line x1="426.11" y1="823.44" x2="428.78" y2="820.77" stroke="#000" stroke-width="1.4" opacity="1.0"/>
<line x1="426.58" y1="824.69" x2="430.33" y2="820.93" stroke="#000" stroke-width="1.4" opacity="1.0"/>
<line x1="417.34" y1="817.6" x2="420.05" y2="814.88" stroke="#000" stroke-width="1.4" opacity="1.0"/>
<line x1="418.29" y1="815.82" x2="421.14" y2="812.96" stroke="#000" stroke-width="1.4" opacity="1.0"/>
<line x1="438.11" y1="834.47" x2="440.58" y2="831.99" stroke="#000" stroke-width="1.4" opacity="1.0"/>
<line x1="436.54" y1="835.38" x2="439.86" y2="832.06" stroke="#000" stroke-width="1.4" opacity="1.0"/>
<line x1="419.56" y1="815.53" x2="423.77" y2="811.32" stroke="#000" stroke-width="1.4" opacity="1.0"/>
<line x1="417.84" y1="814.79" x2="422.71" y2="809.91" stroke="#000" stroke-width="1.4" opacity="1.0"/>
<line x1="434.05" y1="826.02" x2="437.1" y2="822.96" stroke="#000" stroke-width="1.4" opacity="1.0"/>
<line x1="435.9" y1="828.16" x2="440.45" y2="823.61" stroke="#000" stroke-width="1.4" opacity="1.0"/>
<line x1="436.89" y1="830.23" x2="441.12" y2="826" stroke="#000" stroke-width="1.4" opacity="1.0"/>
<line x1="438.04" y1="828.97" x2="442.4" y2="824.62" stroke="#000" stroke-width="1.4" opacity="1.0"/>
<line x1="438.29" y1="823.47" x2="442.9" y2="818.86" stroke="#000" stroke-width="1.4" opacity="1.0"/>
<line x1="434.17" y1="826.23" x2="437.93" y2="822.47" stroke="#000" stroke-width="1.4" opacity="1.0"/>
<line x1="435.08" y1="820.88" x2="438.34" y2="817.63" stroke="#000" stroke-width="1.4" opacity="1.0"/>
<line x1="433.9" y1="822.67" x2="437.73" y2="818.85" stroke="#000" stroke-width="1.4" opacity="1.0"/>
<line x1="431.57" y1="816.76" x2="435.74" y2="812.59" stroke="#000" stroke-width="1.4" opacity="1.0"/>
<line x1="431.02" y1="816.18" x2="434.69" y2="812.51" stroke="#000" stroke-width="1.4" opacity="1.0"/>
<line x1="430.82" y1="818.7" x2="435.37" y2="814.15" stroke="#000" stroke-width="1.4" opacity="1.0"/>
<line x1="432.71" y1="815.98" x2="435.26" y2="813.43" stroke="#000" stroke-width="1.4" opacity="1.0"/>
<line x1="430.57" y1="813.97" x2="434.32" y2="810.23" stroke="#000" stroke-width="1.4" opacity="1.0"/>
<line x1="430.68" y1="815.31" x2="433.65" y2="812.34" stroke="#000" stroke-width="1.4" opacity="1.0"/>
<line x1="445.18" y1="825.89" x2="447.79" y2="823.28" stroke="#000" stroke-width="1.4" opacity="1.0"/>
<line x1="443.41" y1="825.36" x2="445.44" y2="823.33" stroke="#000" stroke-width="1.4" opacity="1.0"/>
<line x1="428.95" y1="807.37" x2="433.71" y2="802.61" stroke="#000" stroke-width="1.4" opacity="1.0"/>
<line x1="429.87" y1="807.69" x2="434.87" y2="802.7" stroke="#000" stroke-width="1.4" opacity="1.0"/>
<line x1="438.72" y1="816.73" x2="441.89" y2="813.56" stroke="#000" stroke-width="1.4" opacity="1.0"/>
<line x1="437.98" y1="816.22" x2="441.03" y2="813.16" stroke="#000" stroke-width="1.4" opacity="1.0"/>
<line x1="450.2" y1="822.24" x2="452.5" y2="819.94" stroke="#000" stroke-width="1.4" opacity="1.0"/>
<line x1="448" y1="822.31" x2="451.68" y2="818.63" stroke="#000" stroke-width="1.4" opacity="1.0"/>
<line x1="443.31" y1="817.69" x2="446.77" y2="814.23" stroke="#000" stroke-width="1.4" opacity="1.0"/>
<line x1="440.35" y1="816.76" x2="445.33" y2="811.77" stroke="#000" stroke-width="1.4" opacity="1.0"/>
<line x1="439.32" y1="810.26" x2="441.84" y2="807.75" stroke="#000" stroke-width="1.4" opacity="1.0"/>
<line x1="437.28" y1="812.06" x2="441.76" y2="807.58" stroke="#000" stroke-width="1.4" opacity="1.0"/>
<line x1="439.76" y1="814.75" x2="443.83" y2="810.68" stroke="#000" stroke-width="1.4" opacity="1.0"/>
<line x1="443.02" y1="815.53" x2="447.68" y2="810.87" stroke="#000" stroke-width="1.4" opacity="1.0"/>
<line x1="440.28" y1="807.98" x2="443.81" y2="804.44" stroke="#000" stroke-width="1.4" opacity="1.0"/>
<line x1="442.51" y1="806.98" x2="445.06" y2="804.43" stroke="#000" stroke-width="1.4" opacity="1.0"/>
<line x1="445.89" y1="813.12" x2="450.87" y2="808.14" stroke="#000" stroke-width="1.4" opacity="1.0"/>
<line x1="446.93" y1="810.69" x2="450.16" y2="807.46" stroke="#000" stroke-width="1.4" opacity="1.0"/>
<line x1="450.79" y1="814.72" x2="452.8" y2="812.71" stroke="#000" stroke-width="1.4" opacity="1.0"/>
<line x1="449.91" y1="816.35" x2="453.66" y2="812.59" stroke="#000" stroke-width="1.4" opacity="1.0"/>
<line x1="447.07" y1="812.24" x2="450.73" y2="808.58" stroke="#000" stroke-width="1.4" opacity="1.0"/>
<line x1="447.45" y1="812.95" x2="451.05" y2="809.36" stroke="#000" stroke-width="1.4" opacity="1.0"/>
<line x1="457.87" y1="815.92" x2="460.24" y2="813.55" stroke="#000" stroke-width="1.4" opacity="1.0"/>
<line x1="455.8" y1="817.64" x2="458.12" y2="815.32" stroke="#000" stroke-width="1.4" opacity="1.0"/>
<line x1="437.22" y1="799.95" x2="441.69" y2="795.48" stroke="#000" stroke-width="1.4" opacity="1.0"/>
<line x1="440.57" y1="800.23" x2="442.76" y2="798.04" stroke="#000" stroke-width="1.4" opacity="1.0"/>
<line x1="440.47" y1="795.38" x2="444.62" y2="791.24" stroke="#000" stroke-width="1.4" opacity="1.0"/>
<line x1="439.06" y1="793.94" x2="441.86" y2="791.14" stroke="#000" stroke-width="1.4" opacity="1.0"/>
<line x1="443.4" y1="797.83" x2="446.44" y2="794.79" stroke="#000" stroke-width="1.4" opacity="1.0"/>
<line x1="441.57" y1="796.41" x2="443.73" y2="794.25" stroke="#000" stroke-width="1.4" opacity="1.0"/>
<line x1="458.97" y1="813.67" x2="462.29" y2="810.36" stroke="#000" stroke-width="1.4" opacity="1.0"/>
<line x1="459.75" y1="809.53" x2="461.88" y2="807.4" stroke="#000" stroke-width="1.4" opacity="1.0"/>
<line x1="460.43" y1="811.93" x2="465.13" y2="807.23" stroke="#000" stroke-width="1.4" opacity="1.0"/>
<line x1="460.68" y1="811.43" x2="464.49" y2="807.62" stroke="#000" stroke-width="1.4" opacity="1.0"/>
<line x1="462" y1="813" x2="464.73" y2="810.28" stroke="#000" stroke-width="1.4" opacity="1.0"/>
<line x1="461.51" y1="811.82" x2="464.17" y2="809.15" stroke="#000" stroke-width="1.4" opacity="1.0"/>
<line x1="450.32" y1="798.75" x2="454.7" y2="794.37" stroke="#000" stroke-width="1.4" opacity="1.0"/>
<line x1="447.81" y1="796.54" x2="450.89" y2="793.46" stroke="#000" stroke-width="1.4" opacity="1.0"/>
<line x1="450.56" y1="793.34" x2="454.24" y2="789.66" stroke="#000" stroke-width="1.4" opacity="1.0"/>
<line x1="446.54" y1="794.29" x2="449.7" y2="791.13" stroke="#000" stroke-width="1.4" opacity="1.0"/>
<line x1="449.88" y1="797.15" x2="454.36" y2="792.67" stroke="#000" stroke-width="1.4" opacity="1.0"/>
<line x1="452.26" y1="796.8" x2="454.83" y2="794.23" stroke="#000" stroke-width="1.4" opacity="1.0"/>
<line x1="450.45" y1="792.43" x2="454.44" y2="788.44" stroke="#000" stroke-width="1.4" opacity="1.0"/>
<line x1="450.91" y1="793.1" x2="455.02" y2="788.98" stroke="#000" stroke-width="1.4" opacity="1.0"/>
<line x1="447.67" y1="791.88" x2="450.06" y2="789.5" stroke="#000" stroke-width="1.4" opacity="1.0"/>
<line x1="447.52" y1="792.9" x2="451.94" y2="788.49" stroke="#000" stroke-width="1.4" opacity="1.0"/>
<line x1="450.83" y1="791.31" x2="453.96" y2="788.18" stroke="#000" stroke-width="1.4" opacity="1.0"/>
<line x1="453" y1="789.6" x2="457.85" y2="784.75" stroke="#000" stroke-width="1.4" opacity="1.0"/>
<line x1="457.35" y1="796.37" x2="459.74" y2="793.97" stroke="#000" stroke-width="1.4" opacity="1.0"/>
<line x1="458.59" y1="796.56" x2="463.29" y2="791.86" stroke="#000" stroke-width="1.4" opacity="1.0"/>
<line x1="460.77" y1="795.98" x2="464.59" y2="792.16" stroke="#000" stroke-width="1.4" opacity="1.0"/>
<line x1="460.72" y1="798.39" x2="463.09" y2="796.02" stroke="#000" stroke-width="1.4" opacity="1.0"/>
<line x1="459.94" y1="794.89" x2="464.25" y2="790.57" stroke="#000" stroke-width="1.4" opacity="1.0"/>
<line x1="459.45" y1="796.52" x2="463.16" y2="792.82" stroke="#000" stroke-width="1.4" opacity="1.0"/>
<line x1="457.91" y1="787.42" x2="460.44" y2="784.89" stroke="#000" stroke-width="1.4" opacity="1.0"/>
<line x1="459.49" y1="789.33" x2="463.48" y2="785.34" stroke="#000" stroke-width="1.4" opacity="1.0"/>
<line x1="454.33" y1="785.33" x2="457.83" y2="781.83" stroke="#000" stroke-width="1.4" opacity="1.0"/>
<line x1="453.29" y1="783.57" x2="456.22" y2="780.64" stroke="#000" stroke-width="1.4" opacity="1.0"/>
<line x1="456.6" y1="787.39" x2="459.44" y2="784.55" stroke="#000" stroke-width="1.4" opacity="1.0"/>
<line x1="457.24" y1="789.1" x2="461.57" y2="784.77" stroke="#000" stroke-width="1.4" opacity="1.0"/>
<line x1="406" y1="849" x2="471" y2="789" stroke="#000" stroke-width="1.2" stroke-linecap="butt"/>
<line x1="402" y1="845" x2="467" y2="785" stroke="#000" stroke-width="1.2" stroke-linecap="butt"/>
<line x1="411" y1="849" x2="471" y2="794" stroke="#000" stroke-width="1.2" stroke-linecap="butt"/>
<rect x="415.5" y="817.5" width="5" height="5" fill="#000" stroke="none" stroke-width="0" opacity="0.85"/>
<rect x="423.5" y="812.5" width="5" height="5" fill="#000" stroke="none" stroke-width="0" opacity="0.85"/>
<rect x="425.5" y="826.5" width="5" height="5" fill="#000" stroke="none" stroke-width="0" opacity="0.85"/>
<rect x="434.5" y="809.5" width="5" height="5" fill="#000" stroke="none" stroke-width="0" opacity="0.85"/>
<rect x="443.5" y="825.5" width="5" height="5" fill="#000" stroke="none" stroke-width="0" opacity="0.85"/>
<rect x="449.5" y="803.5" width="5" height="5" fill="#000" stroke="none" stroke-width="0" opacity="0.85"/>
<rect x="441.5" y="797.5" width="5" height="5" fill="#000" stroke="none" stroke-width="0" opacity="0.85"/>
<rect x="430.5" y="802.5" width="5" height="5" fill="#000" stroke="none" stroke-width="0" opacity="0.85"/>
<rect x="453.5" y="817.5" width="5" height="5" fill="#000" stroke="none" stroke-width="0" opacity="0.85"/>
<line x1="457.27" y1="799" x2="472.6" y2="799" stroke="#000" stroke-width="2.2" stroke-linecap="butt"/>
<line x1="457.59" y1="804.6" x2="472.6" y2="804.6" stroke="#000" stroke-width="2.2" stroke-linecap="butt"/>
<line x1="453.99" y1="814" x2="472.6" y2="814" stroke="#000" stroke-width="2.2" stroke-linecap="butt"/>
<line x1="458.77" y1="819.6" x2="472.6" y2="819.6" stroke="#000" stroke-width="2.2" stroke-linecap="butt"/>
<line x1="454.82" y1="827.5" x2="472.6" y2="827.5" stroke="#000" stroke-width="2.2" stroke-linecap="butt"/>
<line x1="457.03" y1="835.3" x2="472.6" y2="835.3" stroke="#000" stroke-width="2.2" stroke-linecap="butt"/>
<line x1="414" y1="786" x2="414" y2="790" stroke="#000" stroke-width="1.6"/>
<line x1="414" y1="793" x2="414" y2="797" stroke="#000" stroke-width="1.6"/>
<line x1="414" y1="821" x2="414" y2="825" stroke="#000" stroke-width="1.6"/>
<line x1="414" y1="828" x2="414" y2="832" stroke="#000" stroke-width="1.6"/>
<line x1="414" y1="835" x2="414" y2="839" stroke="#000" stroke-width="1.6"/>
<line x1="424" y1="786" x2="424" y2="790" stroke="#000" stroke-width="1.6"/>
<line x1="424" y1="793" x2="424" y2="797" stroke="#000" stroke-width="1.6"/>
<line x1="424" y1="800" x2="424" y2="804" stroke="#000" stroke-width="1.6"/>
<line x1="424" y1="807" x2="424" y2="811" stroke="#000" stroke-width="1.6"/>
<line x1="424" y1="814" x2="424" y2="818" stroke="#000" stroke-width="1.6"/>
<line x1="424" y1="828" x2="424" y2="832" stroke="#000" stroke-width="1.6"/>
<line x1="431.8" y1="786" x2="431.8" y2="790" stroke="#000" stroke-width="1.6"/>
<line x1="431.8" y1="800" x2="431.8" y2="804" stroke="#000" stroke-width="1.6"/>
<line x1="431.8" y1="807" x2="431.8" y2="811" stroke="#000" stroke-width="1.6"/>
<line x1="431.8" y1="821" x2="431.8" y2="825" stroke="#000" stroke-width="1.6"/>
<line x1="431.8" y1="828" x2="431.8" y2="832" stroke="#000" stroke-width="1.6"/>
<line x1="440.7" y1="793" x2="440.7" y2="797" stroke="#000" stroke-width="1.6"/>
<line x1="440.7" y1="800" x2="440.7" y2="804" stroke="#000" stroke-width="1.6"/>
<line x1="440.7" y1="821" x2="440.7" y2="825" stroke="#000" stroke-width="1.6"/>
<line x1="440.7" y1="828" x2="440.7" y2="832" stroke="#000" stroke-width="1.6"/>
<line x1="440.7" y1="835" x2="440.7" y2="839" stroke="#000" stroke-width="1.6"/>
<line x1="450.8" y1="793" x2="450.8" y2="797" stroke="#000" stroke-width="1.6"/>
<line x1="450.8" y1="814" x2="450.8" y2="818" stroke="#000" stroke-width="1.6"/>
<line x1="450.8" y1="828" x2="450.8" y2="832" stroke="#000" stroke-width="1.6"/>
<line x1="456.3" y1="793" x2="456.3" y2="797" stroke="#000" stroke-width="1.6"/>
<line x1="456.3" y1="800" x2="456.3" y2="804" stroke="#000" stroke-width="1.6"/>
<line x1="456.3" y1="814" x2="456.3" y2="818" stroke="#000" stroke-width="1.6"/>
<line x1="400.5" y1="784.5" x2="409.5" y2="784.5" stroke="#000" stroke-width="1" stroke-dasharray="1.5 1.5" opacity="0.7"/>
<line x1="400.5" y1="797.3" x2="409.5" y2="797.3" stroke="#000" stroke-width="1" stroke-dasharray="1.5 1.5" opacity="0.7"/>
<line x1="400.5" y1="802.9" x2="409.5" y2="802.9" stroke="#000" stroke-width="1" stroke-dasharray="1.5 1.5" opacity="0.7"/>
<line x1="400.5" y1="814.6" x2="409.5" y2="814.6" stroke="#000" stroke-width="1" stroke-dasharray="1.5 1.5" opacity="0.7"/>
<line x1="400.5" y1="823" x2="409.5" y2="823" stroke="#000" stroke-width="1" stroke-dasharray="1.5 1.5" opacity="0.7"/>
<line x1="424" y1="838" x2="424" y2="851" stroke="#000" stroke-width="1" stroke-dasharray="1.5 2" opacity="0.7"/>
<line x1="431.8" y1="838" x2="431.8" y2="851" stroke="#000" stroke-width="1" stroke-dasharray="1.5 2" opacity="0.7"/>
<line x1="450.8" y1="838" x2="450.8" y2="851" stroke="#000" stroke-width="1" stroke-dasharray="1.5 2" opacity="0.7"/>
<line x1="460" y1="838" x2="460" y2="851" stroke="#000" stroke-width="1" stroke-dasharray="1.5 2" opacity="0.7"/>
<line x1="470" y1="838" x2="470" y2="851" stroke="#000" stroke-width="1" stroke-dasharray="1.5 2" opacity="0.7"/>
<rect x="460.2" y="783.9" width="12.3" height="11.2" fill="#000" stroke="none" stroke-width="0"/>
<rect x="385" y="807.4" width="6" height="3.3" fill="#000" stroke="none" stroke-width="0"/>
<line x1="377.1" y1="868.8" x2="391.6" y2="857.6" stroke="#000" stroke-width="6" stroke-linecap="butt"/>
<line x1="163.9" y1="1070.4" x2="661.3" y2="608.7" stroke="#333" stroke-width="1" stroke-linecap="butt"/>
<rect x="139.4" y="783.1" width="20.5" height="174.8" fill="#6b6b6b" stroke="none" stroke-width="0"/>
<line x1="139.4" y1="813" x2="159.9" y2="813" stroke="#fff" stroke-width="0.9" opacity="0.5"/>
<line x1="139.4" y1="818" x2="159.9" y2="818" stroke="#fff" stroke-width="0.9" opacity="0.3"/>
<line x1="139.4" y1="838" x2="159.9" y2="838" stroke="#fff" stroke-width="0.9" opacity="0.4"/>
<line x1="139.4" y1="851" x2="159.9" y2="851" stroke="#fff" stroke-width="0.9" opacity="0.5"/>
<line x1="139.4" y1="880" x2="159.9" y2="880" stroke="#fff" stroke-width="0.9" opacity="0.4"/>
<line x1="139.4" y1="890" x2="159.9" y2="890" stroke="#fff" stroke-width="0.9" opacity="0.5"/>
<line x1="139.4" y1="925" x2="159.9" y2="925" stroke="#fff" stroke-width="0.9" opacity="0.4"/>
<line x1="139.4" y1="960.2" x2="159.9" y2="960.2" stroke="#888" stroke-width="1" stroke-linecap="butt"/>
<rect x="284.5" y="1072.4" width="188.8" height="17.3" fill="#6b6b6b" stroke="none" stroke-width="0"/>
<line x1="340" y1="1072.4" x2="340" y2="1089.7" stroke="#fff" stroke-width="0.9" opacity="0.6"/>
<line x1="356" y1="1072.4" x2="356" y2="1089.7" stroke="#fff" stroke-width="0.9" opacity="0.6"/>
<line x1="414" y1="1072.4" x2="414" y2="1089.7" stroke="#fff" stroke-width="0.9" opacity="0.3"/>
<line x1="420" y1="1072.4" x2="420" y2="1089.7" stroke="#fff" stroke-width="0.9" opacity="0.3"/>
<line x1="442" y1="1072.4" x2="442" y2="1089.7" stroke="#fff" stroke-width="0.9" opacity="0.5"/>
<line x1="444" y1="1072.4" x2="444" y2="1089.7" stroke="#fff" stroke-width="0.9" opacity="0.3"/>
<line x1="282" y1="1072.4" x2="282" y2="1089.7" stroke="#888" stroke-width="1" stroke-linecap="butt"/>
<line x1="113.3" y1="585.4" x2="113.3" y2="1101.2" stroke="#000" stroke-width="1.4" stroke-linecap="butt"/>
<line x1="112.6" y1="1100.5" x2="686.2" y2="1100.5" stroke="#000" stroke-width="1.4" stroke-linecap="butt"/>
<line x1="102.3" y1="1070.4" x2="113.3" y2="1070.4" stroke="#000" stroke-width="1.4" stroke-linecap="butt"/>
<text x="92.8" y="1079.4" font-size="26.5" text-anchor="end">2</text>
<line x1="102.3" y1="916.5" x2="113.3" y2="916.5" stroke="#000" stroke-width="1.4" stroke-linecap="butt"/>
<text x="92.8" y="925.5" font-size="26.5" text-anchor="end">3</text>
<line x1="102.3" y1="762.6" x2="113.3" y2="762.6" stroke="#000" stroke-width="1.4" stroke-linecap="butt"/>
<text x="92.8" y="771.6" font-size="26.5" text-anchor="end">4</text>
<line x1="102.3" y1="608.7" x2="113.3" y2="608.7" stroke="#000" stroke-width="1.4" stroke-linecap="butt"/>
<text x="92.8" y="617.7" font-size="26.5" text-anchor="end">5</text>
<line x1="163.9" y1="1100.5" x2="163.9" y2="1111.5" stroke="#000" stroke-width="1.4" stroke-linecap="butt"/>
<text x="163.9" y="1142.7" font-size="26.5" text-anchor="middle">2</text>
<line x1="329.7" y1="1100.5" x2="329.7" y2="1111.5" stroke="#000" stroke-width="1.4" stroke-linecap="butt"/>
<text x="329.7" y="1142.7" font-size="26.5" text-anchor="middle">3</text>
<line x1="495.5" y1="1100.5" x2="495.5" y2="1111.5" stroke="#000" stroke-width="1.4" stroke-linecap="butt"/>
<text x="495.5" y="1142.7" font-size="26.5" text-anchor="middle">4</text>
<line x1="661.3" y1="1100.5" x2="661.3" y2="1111.5" stroke="#000" stroke-width="1.4" stroke-linecap="butt"/>
<text x="661.3" y="1142.7" font-size="26.5" text-anchor="middle">5</text>
<text transform="translate(48.7,843) rotate(-90)" x="0" y="0" font-size="27.1" text-anchor="middle">Contig position (Mb)</text>
<text x="399.7" y="1182.9" font-size="27.1" text-anchor="middle">Contig position (Mb)</text>
<text x="399.7" y="578.2" font-size="27.1" text-anchor="middle"><tspan font-style="italic">P. m. bairdii</tspan> : scaffold_1,625</text>
<line x1="913.45" y1="750.45" x2="916.35" y2="747.55" stroke="#000" stroke-width="1.1" opacity="1.0"/>
<line x1="913.39" y1="869.01" x2="916.41" y2="865.99" stroke="#000" stroke-width="1.1" opacity="1.0"/>
<line x1="913.6" y1="938.5" x2="916.2" y2="941.1" stroke="#000" stroke-width="1.1"/>
<line x1="914.09" y1="982.81" x2="915.71" y2="981.19" stroke="#000" stroke-width="1.1" opacity="1.0"/>
<line x1="913.95" y1="1051.25" x2="915.85" y2="1049.35" stroke="#000" stroke-width="1.1" opacity="1.0"/>
<line x1="913.44" y1="1062.94" x2="916.36" y2="1065.86" stroke="#000" stroke-width="1.1"/>
<line x1="932.01" y1="693.71" x2="933.99" y2="695.69" stroke="#000" stroke-width="1.1"/>
<line x1="931.31" y1="728.59" x2="934.69" y2="725.21" stroke="#000" stroke-width="1.1" opacity="1.0"/>
<line x1="931.37" y1="742.53" x2="934.63" y2="739.27" stroke="#000" stroke-width="1.1" opacity="1.0"/>
<line x1="931.43" y1="769.43" x2="934.57" y2="772.57" stroke="#000" stroke-width="1.1"/>
<line x1="931.58" y1="866.08" x2="934.42" y2="868.92" stroke="#000" stroke-width="1.1"/>
<line x1="931.96" y1="956.94" x2="934.04" y2="954.86" stroke="#000" stroke-width="1.1" opacity="1.0"/>
<line x1="932.19" y1="968.71" x2="933.81" y2="967.09" stroke="#000" stroke-width="1.1" opacity="1.0"/>
<line x1="931.55" y1="983.45" x2="934.45" y2="980.55" stroke="#000" stroke-width="1.1" opacity="1.0"/>
<line x1="931.93" y1="1051.37" x2="934.07" y2="1049.23" stroke="#000" stroke-width="1.1" opacity="1.0"/>
<line x1="932.08" y1="1065.32" x2="933.92" y2="1063.48" stroke="#000" stroke-width="1.1" opacity="1.0"/>
<line x1="999.46" y1="692.96" x2="1002.94" y2="696.44" stroke="#000" stroke-width="1.1"/>
<line x1="999.73" y1="725.43" x2="1002.67" y2="728.37" stroke="#000" stroke-width="1.1"/>
<line x1="999.96" y1="750.24" x2="1002.44" y2="747.76" stroke="#000" stroke-width="1.1" opacity="1.0"/>
<line x1="999.91" y1="772.29" x2="1002.49" y2="769.71" stroke="#000" stroke-width="1.1" opacity="1.0"/>
<line x1="1000.2" y1="956.9" x2="1002.2" y2="954.9" stroke="#000" stroke-width="1.1" opacity="1.0"/>
<line x1="999.68" y1="966.38" x2="1002.72" y2="969.42" stroke="#000" stroke-width="1.1"/>
<line x1="1000.26" y1="981.06" x2="1002.14" y2="982.94" stroke="#000" stroke-width="1.1"/>
<line x1="1013.77" y1="693.17" x2="1016.83" y2="696.23" stroke="#000" stroke-width="1.1"/>
<line x1="1014.37" y1="739.97" x2="1016.23" y2="741.83" stroke="#000" stroke-width="1.1"/>
<line x1="1014.18" y1="747.88" x2="1016.42" y2="750.12" stroke="#000" stroke-width="1.1"/>
<line x1="1013.72" y1="772.58" x2="1016.88" y2="769.42" stroke="#000" stroke-width="1.1" opacity="1.0"/>
<line x1="1013.98" y1="846.08" x2="1016.62" y2="848.72" stroke="#000" stroke-width="1.1"/>
<line x1="1014.25" y1="980.95" x2="1016.35" y2="983.05" stroke="#000" stroke-width="1.1"/>
<line x1="1013.86" y1="1051.74" x2="1016.74" y2="1048.86" stroke="#000" stroke-width="1.1" opacity="1.0"/>
<line x1="1013.58" y1="1066.12" x2="1017.02" y2="1062.68" stroke="#000" stroke-width="1.1" opacity="1.0"/>
<line x1="1028.21" y1="695.89" x2="1030.59" y2="693.51" stroke="#000" stroke-width="1.1" opacity="1.0"/>
<line x1="1027.81" y1="739.31" x2="1030.99" y2="742.49" stroke="#000" stroke-width="1.1"/>
<line x1="1028.37" y1="769.97" x2="1030.43" y2="772.03" stroke="#000" stroke-width="1.1"/>
<line x1="1028.31" y1="868.59" x2="1030.49" y2="866.41" stroke="#000" stroke-width="1.1" opacity="1.0"/>
<line x1="1028.35" y1="956.95" x2="1030.45" y2="954.85" stroke="#000" stroke-width="1.1" opacity="1.0"/>
<line x1="1028.45" y1="982.95" x2="1030.35" y2="981.05" stroke="#000" stroke-width="1.1" opacity="1.0"/>
<line x1="1028.19" y1="1049.09" x2="1030.61" y2="1051.51" stroke="#000" stroke-width="1.1"/>
<line x1="1043.97" y1="845.97" x2="1046.83" y2="848.83" stroke="#000" stroke-width="1.1"/>
<line x1="1044.08" y1="866.18" x2="1046.72" y2="868.82" stroke="#000" stroke-width="1.1"/>
<line x1="1044.31" y1="938.71" x2="1046.49" y2="940.89" stroke="#000" stroke-width="1.1"/>
<line x1="1044.46" y1="954.96" x2="1046.34" y2="956.84" stroke="#000" stroke-width="1.1"/>
<line x1="1044.56" y1="967.06" x2="1046.24" y2="968.74" stroke="#000" stroke-width="1.1"/>
<line x1="1044.07" y1="983.33" x2="1046.73" y2="980.67" stroke="#000" stroke-width="1.1" opacity="1.0"/>
<line x1="1090.74" y1="695.56" x2="1092.46" y2="693.84" stroke="#000" stroke-width="1.1" opacity="1.0"/>
<line x1="1089.99" y1="750.61" x2="1093.21" y2="747.39" stroke="#000" stroke-width="1.1" opacity="1.0"/>
<line x1="1090.32" y1="772.28" x2="1092.88" y2="769.72" stroke="#000" stroke-width="1.1" opacity="1.0"/>
<line x1="1090.28" y1="880.82" x2="1092.92" y2="878.18" stroke="#000" stroke-width="1.1" opacity="1.0"/>
<line x1="1090.44" y1="957.06" x2="1092.76" y2="954.74" stroke="#000" stroke-width="1.1" opacity="1.0"/>
<line x1="1089.99" y1="966.29" x2="1093.21" y2="969.51" stroke="#000" stroke-width="1.1"/>
<line x1="1089.86" y1="1062.66" x2="1093.34" y2="1066.14" stroke="#000" stroke-width="1.1"/>
<line x1="1116.12" y1="696.28" x2="1119.28" y2="693.12" stroke="#000" stroke-width="1.1" opacity="1.0"/>
<line x1="1115.99" y1="725.19" x2="1119.41" y2="728.61" stroke="#000" stroke-width="1.1"/>
<line x1="1116.17" y1="750.53" x2="1119.23" y2="747.47" stroke="#000" stroke-width="1.1" opacity="1.0"/>
<line x1="1116.58" y1="772.12" x2="1118.82" y2="769.88" stroke="#000" stroke-width="1.1" opacity="1.0"/>
<line x1="1116.65" y1="866.45" x2="1118.75" y2="868.55" stroke="#000" stroke-width="1.1"/>
<line x1="1116.06" y1="877.86" x2="1119.34" y2="881.14" stroke="#000" stroke-width="1.1"/>
<line x1="1116.2" y1="983.5" x2="1119.2" y2="980.5" stroke="#000" stroke-width="1.1" opacity="1.0"/>
<line x1="1138.68" y1="725.78" x2="1140.92" y2="728.02" stroke="#000" stroke-width="1.1"/>
<line x1="1138.45" y1="772.35" x2="1141.15" y2="769.65" stroke="#000" stroke-width="1.1" opacity="1.0"/>
<line x1="1138.12" y1="877.82" x2="1141.48" y2="881.18" stroke="#000" stroke-width="1.1"/>
<line x1="1138.86" y1="894.54" x2="1140.74" y2="892.66" stroke="#000" stroke-width="1.1" opacity="1.0"/>
<line x1="1139.03" y1="968.67" x2="1140.57" y2="967.13" stroke="#000" stroke-width="1.1" opacity="1.0"/>
<line x1="1138.5" y1="1051.6" x2="1141.1" y2="1049" stroke="#000" stroke-width="1.1" opacity="1.0"/>
<line x1="1217.31" y1="693.81" x2="1219.09" y2="695.59" stroke="#000" stroke-width="1.1"/>
<line x1="1217.11" y1="848.49" x2="1219.29" y2="846.31" stroke="#000" stroke-width="1.1" opacity="1.0"/>
<line x1="1217.27" y1="938.87" x2="1219.13" y2="940.73" stroke="#000" stroke-width="1.1"/>
<line x1="1216.97" y1="969.13" x2="1219.43" y2="966.67" stroke="#000" stroke-width="1.1" opacity="1.0"/>
<line x1="1216.58" y1="1048.68" x2="1219.82" y2="1051.92" stroke="#000" stroke-width="1.1"/>
<line x1="1217.12" y1="1065.48" x2="1219.28" y2="1063.32" stroke="#000" stroke-width="1.1" opacity="1.0"/>
<line x1="1247.38" y1="741.82" x2="1249.22" y2="739.98" stroke="#000" stroke-width="1.1" opacity="1.0"/>
<line x1="1247.2" y1="848.5" x2="1249.4" y2="846.3" stroke="#000" stroke-width="1.1" opacity="1.0"/>
<line x1="1247.53" y1="880.27" x2="1249.07" y2="878.73" stroke="#000" stroke-width="1.1" opacity="1.0"/>
<line x1="1247.4" y1="938.9" x2="1249.2" y2="940.7" stroke="#000" stroke-width="1.1"/>
<line x1="1247.28" y1="954.88" x2="1249.32" y2="956.92" stroke="#000" stroke-width="1.1"/>
<line x1="1246.98" y1="966.58" x2="1249.62" y2="969.22" stroke="#000" stroke-width="1.1"/>
<line x1="1246.99" y1="1063.09" x2="1249.61" y2="1065.71" stroke="#000" stroke-width="1.1"/>
<line x1="1261.37" y1="769.97" x2="1263.43" y2="772.03" stroke="#000" stroke-width="1.1"/>
<line x1="1260.89" y1="892.09" x2="1263.91" y2="895.11" stroke="#000" stroke-width="1.1"/>
<line x1="1261.1" y1="969.2" x2="1263.7" y2="966.6" stroke="#000" stroke-width="1.1" opacity="1.0"/>
<line x1="1261.31" y1="983.09" x2="1263.49" y2="980.91" stroke="#000" stroke-width="1.1" opacity="1.0"/>
<line x1="1291.51" y1="695.69" x2="1293.49" y2="693.71" stroke="#000" stroke-width="1.1" opacity="1.0"/>
<line x1="1291.61" y1="727.79" x2="1293.39" y2="726.01" stroke="#000" stroke-width="1.1" opacity="1.0"/>
<line x1="1291.18" y1="772.32" x2="1293.82" y2="769.68" stroke="#000" stroke-width="1.1" opacity="1.0"/>
<line x1="1291.68" y1="848.22" x2="1293.32" y2="846.58" stroke="#000" stroke-width="1.1" opacity="1.0"/>
<line x1="1291.02" y1="866.02" x2="1293.98" y2="868.98" stroke="#000" stroke-width="1.1"/>
<line x1="1290.83" y1="891.93" x2="1294.17" y2="895.27" stroke="#000" stroke-width="1.1"/>
<line x1="1291.57" y1="938.87" x2="1293.43" y2="940.73" stroke="#000" stroke-width="1.1"/>
<line x1="1290.98" y1="969.42" x2="1294.02" y2="966.38" stroke="#000" stroke-width="1.1" opacity="1.0"/>
<line x1="1291.27" y1="1049.07" x2="1293.73" y2="1051.53" stroke="#000" stroke-width="1.1"/>
<line x1="1291.49" y1="1065.41" x2="1293.51" y2="1063.39" stroke="#000" stroke-width="1.1" opacity="1.0"/>
<line x1="1090" y1="846" x2="1101" y2="857" stroke="#000" stroke-width="1.2" stroke-linecap="butt"/>
<line x1="1131" y1="890" x2="1142" y2="901" stroke="#000" stroke-width="1.2" stroke-linecap="butt"/>
<line x1="1070" y1="920" x2="1076" y2="926" stroke="#000" stroke-width="1.2" stroke-linecap="butt"/>
<line x1="1071" y1="964" x2="1077" y2="970" stroke="#000" stroke-width="1.2" stroke-linecap="butt"/>
<line x1="1120" y1="952" x2="1124" y2="956" stroke="#000" stroke-width="1.2" stroke-linecap="butt"/>
<line x1="913.7" y1="1072.4" x2="1380.9" y2="610.4" stroke="#333" stroke-width="1" stroke-linecap="butt"/>
<defs><pattern id="hatch" patternUnits="userSpaceOnUse" width="3" height="3" patternTransform="rotate(-45)"><rect x="0" y="0" width="3" height="2.0" fill="#000"/></pattern><clipPath id="cb2"><rect x="942.9" y="985.7" width="57.6" height="55.8"/></clipPath></defs>
<rect x="942.9" y="985.7" width="57.6" height="55.8" fill="url(#hatch)" stroke="none" stroke-width="0"/>
<g clip-path="url(#cb2)">
<ellipse cx="988" cy="1003" rx="13" ry="9" transform="rotate(-40 988 1003)" fill="#000" opacity="0.8"/>
<ellipse cx="963" cy="995" rx="8" ry="5" transform="rotate(-40 963 995)" fill="#000" opacity="0.7"/>
<ellipse cx="957" cy="1030" rx="11" ry="7" transform="rotate(-40 957 1030)" fill="#000" opacity="0.8"/>
<ellipse cx="986" cy="1022" rx="6" ry="4" transform="rotate(-40 986 1022)" fill="#000" opacity="0.6"/>
<ellipse cx="950" cy="1012" rx="5" ry="6" transform="rotate(-40 950 1012)" fill="#000" opacity="0.5"/>
<ellipse cx="996" cy="1036" rx="5" ry="4" transform="rotate(-40 996 1036)" fill="#000" opacity="0.5"/>
<ellipse cx="971" cy="1009" rx="10" ry="2.5" transform="rotate(-40 971 1009)" fill="#fff" opacity="0.8"/>
<ellipse cx="977" cy="1019" rx="9" ry="2" transform="rotate(-40 977 1019)" fill="#fff" opacity="0.8"/>
<ellipse cx="962" cy="1015" rx="4" ry="1.5" transform="rotate(-40 962 1015)" fill="#fff" opacity="0.7"/>
<ellipse cx="993" cy="1031" rx="6" ry="1.5" transform="rotate(-40 993 1031)" fill="#fff" opacity="0.7"/>
<line x1="952.05" y1="1002.21" x2="956.16" y2="998.09" stroke="#000" stroke-width="1" opacity="1.0"/>
<line x1="955.01" y1="1009.18" x2="957.61" y2="1006.58" stroke="#000" stroke-width="1" opacity="1.0"/>
<line x1="976.16" y1="1033.8" x2="980.1" y2="1029.85" stroke="#000" stroke-width="1" opacity="1.0"/>
<line x1="953.82" y1="1026.9" x2="958.71" y2="1022.01" stroke="#000" stroke-width="1" opacity="1.0"/>
<line x1="976.06" y1="992.2" x2="980.48" y2="987.77" stroke="#000" stroke-width="1" opacity="1.0"/>
<line x1="991.15" y1="1006.08" x2="993.56" y2="1003.67" stroke="#000" stroke-width="1" opacity="1.0"/>
<line x1="953.35" y1="1016.46" x2="957.98" y2="1011.83" stroke="#000" stroke-width="1" opacity="1.0"/>
<line x1="978.19" y1="1036.91" x2="980.83" y2="1034.28" stroke="#000" stroke-width="1" opacity="1.0"/>
<line x1="960.97" y1="1027.71" x2="964.92" y2="1023.77" stroke="#000" stroke-width="1" opacity="1.0"/>
<line x1="965.29" y1="1023.99" x2="968.31" y2="1020.97" stroke="#000" stroke-width="1" opacity="1.0"/>
<line x1="946.16" y1="1009.96" x2="948.3" y2="1007.82" stroke="#000" stroke-width="1" opacity="1.0"/>
<line x1="977.45" y1="1005.73" x2="980.93" y2="1002.25" stroke="#000" stroke-width="1" opacity="1.0"/>
<line x1="975.88" y1="1001.62" x2="979.27" y2="998.23" stroke="#000" stroke-width="1" opacity="1.0"/>
<line x1="943.75" y1="1037.04" x2="947.44" y2="1033.35" stroke="#000" stroke-width="1" opacity="1.0"/>
<line x1="997.31" y1="990.97" x2="1001.16" y2="987.13" stroke="#000" stroke-width="1" opacity="1.0"/>
<line x1="982.83" y1="1005.45" x2="985.11" y2="1003.17" stroke="#000" stroke-width="1" opacity="1.0"/>
<line x1="951.59" y1="995.56" x2="955.89" y2="991.26" stroke="#000" stroke-width="1" opacity="1.0"/>
<line x1="947.94" y1="1031.14" x2="951.21" y2="1027.87" stroke="#000" stroke-width="1" opacity="1.0"/>
<line x1="972.63" y1="1019.19" x2="976.29" y2="1015.52" stroke="#000" stroke-width="1" opacity="1.0"/>
<line x1="979.15" y1="1019.88" x2="982.15" y2="1016.89" stroke="#000" stroke-width="1" opacity="1.0"/>
<line x1="983.76" y1="1001.67" x2="987.89" y2="997.53" stroke="#000" stroke-width="1" opacity="1.0"/>
<line x1="984.98" y1="1029.13" x2="987.91" y2="1026.2" stroke="#000" stroke-width="1" opacity="1.0"/>
<line x1="985.49" y1="1039.8" x2="988.85" y2="1036.44" stroke="#000" stroke-width="1" opacity="1.0"/>
<line x1="958.3" y1="1015.74" x2="963.13" y2="1010.91" stroke="#000" stroke-width="1" opacity="1.0"/>
<line x1="950.25" y1="988.48" x2="953.68" y2="985.05" stroke="#000" stroke-width="1" opacity="1.0"/>
<line x1="979.04" y1="1029.03" x2="982.13" y2="1025.94" stroke="#000" stroke-width="1" opacity="1.0"/>
<line x1="997.42" y1="1000.09" x2="1001.69" y2="995.82" stroke="#000" stroke-width="1" opacity="1.0"/>
<line x1="947.95" y1="989.48" x2="950.35" y2="987.08" stroke="#000" stroke-width="1" opacity="1.0"/>
<line x1="946.31" y1="1014.6" x2="949.97" y2="1010.93" stroke="#000" stroke-width="1" opacity="1.0"/>
<line x1="953" y1="1037.81" x2="956.1" y2="1034.71" stroke="#000" stroke-width="1" opacity="1.0"/>
<line x1="951.21" y1="997.4" x2="955.43" y2="993.19" stroke="#000" stroke-width="1" opacity="1.0"/>
<line x1="993.68" y1="996.59" x2="995.77" y2="994.5" stroke="#000" stroke-width="1" opacity="1.0"/>
<line x1="985.8" y1="1000.86" x2="990.74" y2="995.91" stroke="#000" stroke-width="1" opacity="1.0"/>
<line x1="970.44" y1="1021.71" x2="973.47" y2="1018.68" stroke="#000" stroke-width="1" opacity="1.0"/>
<line x1="987.03" y1="1012.39" x2="990" y2="1009.41" stroke="#000" stroke-width="1" opacity="1.0"/>
<line x1="992.69" y1="993.71" x2="996.89" y2="989.51" stroke="#000" stroke-width="1" opacity="1.0"/>
<line x1="946.6" y1="1022.21" x2="949.8" y2="1019" stroke="#000" stroke-width="1" opacity="1.0"/>
<line x1="990.52" y1="991.18" x2="994.22" y2="987.49" stroke="#000" stroke-width="1" opacity="1.0"/>
<line x1="965.55" y1="1036.71" x2="970.38" y2="1031.88" stroke="#000" stroke-width="1" opacity="1.0"/>
<line x1="977.49" y1="999.88" x2="980.25" y2="997.12" stroke="#000" stroke-width="1" opacity="1.0"/>
<line x1="957.43" y1="1010.99" x2="960.12" y2="1008.3" stroke="#000" stroke-width="1" opacity="1.0"/>
<line x1="954.18" y1="1028.24" x2="958.1" y2="1024.31" stroke="#000" stroke-width="1" opacity="1.0"/>
<line x1="959.42" y1="1040.7" x2="962.07" y2="1038.05" stroke="#000" stroke-width="1" opacity="1.0"/>
<line x1="974.32" y1="996.31" x2="978.91" y2="991.72" stroke="#000" stroke-width="1" opacity="1.0"/>
<line x1="990.81" y1="1002.17" x2="995.06" y2="997.91" stroke="#000" stroke-width="1" opacity="1.0"/>
<line x1="988.26" y1="1002.98" x2="991.25" y2="999.98" stroke="#000" stroke-width="1" opacity="1.0"/>
<line x1="969.71" y1="1035.22" x2="972.19" y2="1032.74" stroke="#000" stroke-width="1" opacity="1.0"/>
<line x1="980.55" y1="1019.67" x2="983.91" y2="1016.31" stroke="#000" stroke-width="1" opacity="1.0"/>
<line x1="974.86" y1="1034.79" x2="977.49" y2="1032.16" stroke="#000" stroke-width="1" opacity="1.0"/>
<line x1="991.6" y1="1007.1" x2="995.94" y2="1002.76" stroke="#000" stroke-width="1" opacity="1.0"/>
<line x1="990.48" y1="997.66" x2="995.08" y2="993.07" stroke="#000" stroke-width="1" opacity="1.0"/>
<line x1="997.72" y1="1003.77" x2="999.79" y2="1001.7" stroke="#000" stroke-width="1" opacity="1.0"/>
<line x1="949.14" y1="1039.64" x2="951.16" y2="1037.61" stroke="#000" stroke-width="1" opacity="1.0"/>
<line x1="993.14" y1="995.99" x2="997.35" y2="991.78" stroke="#000" stroke-width="1" opacity="1.0"/>
<line x1="948.37" y1="996.94" x2="952.41" y2="992.9" stroke="#000" stroke-width="1" opacity="1.0"/>
<line x1="947.96" y1="1006" x2="952.72" y2="1001.24" stroke="#000" stroke-width="1" opacity="1.0"/>
<line x1="982.4" y1="1034.74" x2="987.34" y2="1029.8" stroke="#000" stroke-width="1" opacity="1.0"/>
<line x1="944.81" y1="1000.43" x2="949.19" y2="996.06" stroke="#000" stroke-width="1" opacity="1.0"/>
<line x1="980.92" y1="990.01" x2="984.43" y2="986.49" stroke="#000" stroke-width="1" opacity="1.0"/>
<line x1="955.74" y1="1010.82" x2="958.05" y2="1008.5" stroke="#000" stroke-width="1" opacity="1.0"/>
</g>
<rect x="952" y="962.6" width="1.5" height="1.3" fill="#000"/>
<rect x="957" y="962.6" width="1.5" height="1.3" fill="#000"/>
<rect x="962" y="962.6" width="2.5" height="1.3" fill="#000"/>
<rect x="967" y="962.6" width="1.5" height="1.3" fill="#000"/>
<rect x="972" y="962.6" width="1.5" height="1.3" fill="#000"/>
<rect x="977" y="962.6" width="1.5" height="1.3" fill="#000"/>
<rect x="982" y="962.6" width="2.5" height="1.3" fill="#000"/>
<rect x="987" y="962.6" width="1.5" height="1.3" fill="#000"/>
<rect x="992" y="962.6" width="3.5" height="1.3" fill="#000"/>
<rect x="997" y="962.6" width="2.5" height="1.3" fill="#000"/>
<rect x="1022.4" y="989" width="1.2" height="1.5" fill="#000"/>
<rect x="1022.4" y="993" width="1.2" height="1.5" fill="#000"/>
<rect x="1022.4" y="997" width="1.2" height="1.5" fill="#000"/>
<rect x="1022.4" y="1001" width="1.2" height="1.5" fill="#000"/>
<rect x="1022.4" y="1005" width="1.2" height="1.5" fill="#000"/>
<rect x="1022.4" y="1009" width="1.2" height="2.5" fill="#000"/>
<rect x="1022.4" y="1013" width="1.2" height="2.5" fill="#000"/>
<rect x="1022.4" y="1017" width="1.2" height="1.5" fill="#000"/>
<rect x="1022.4" y="1021" width="1.2" height="2.5" fill="#000"/>
<rect x="1022.4" y="1025" width="1.2" height="1.5" fill="#000"/>
<rect x="1022.4" y="1029" width="1.2" height="1.5" fill="#000"/>
<rect x="1022.4" y="1033" width="1.2" height="1.5" fill="#000"/>
<line x1="1003" y1="981.5" x2="1010" y2="975.5" stroke="#000" stroke-width="4" stroke-linecap="butt"/>
<rect x="889.8" y="985.7" width="18.3" height="55.8" fill="#6b6b6b" stroke="none" stroke-width="0"/>
<line x1="889.8" y1="1012.5" x2="908.1" y2="1012.5" stroke="#fff" stroke-width="0.9" opacity="0.4"/>
<line x1="889.8" y1="1024.6" x2="908.1" y2="1024.6" stroke="#fff" stroke-width="0.9" opacity="0.3"/>
<line x1="889.8" y1="1029" x2="908.1" y2="1029" stroke="#fff" stroke-width="0.9" opacity="0.4"/>
<line x1="889.8" y1="1034" x2="908.1" y2="1034" stroke="#fff" stroke-width="0.9" opacity="0.3"/>
<line x1="889.8" y1="1037" x2="908.1" y2="1037" stroke="#fff" stroke-width="0.9" opacity="0.3"/>
<line x1="889.8" y1="962.5" x2="908.1" y2="962.5" stroke="#ccc" stroke-width="1.2" stroke-linecap="butt"/>
<line x1="889.8" y1="968.1" x2="908.1" y2="968.1" stroke="#777" stroke-width="1.3" stroke-linecap="butt"/>
<line x1="889.8" y1="971.4" x2="908.1" y2="971.4" stroke="#777" stroke-width="1.3" stroke-linecap="butt"/>
<line x1="889.8" y1="973.3" x2="908.1" y2="973.3" stroke="#777" stroke-width="1.3" stroke-linecap="butt"/>
<line x1="889.8" y1="975.5" x2="908.1" y2="975.5" stroke="#777" stroke-width="1.3" stroke-linecap="butt"/>
<line x1="889.8" y1="978.1" x2="908.1" y2="978.1" stroke="#777" stroke-width="1.3" stroke-linecap="butt"/>
<line x1="889.8" y1="980.6" x2="908.1" y2="980.6" stroke="#777" stroke-width="1.3" stroke-linecap="butt"/>
<line x1="889.8" y1="896.4" x2="908.1" y2="896.4" stroke="#ccc" stroke-width="1.2" stroke-linecap="butt"/>
<rect x="943.1" y="1074.1" width="57.4" height="17.9" fill="#6b6b6b" stroke="none" stroke-width="0"/>
<line x1="945" y1="1074.1" x2="945" y2="1092" stroke="#fff" stroke-width="0.9" opacity="0.4"/>
<line x1="953" y1="1074.1" x2="953" y2="1092" stroke="#fff" stroke-width="0.9" opacity="0.3"/>
<line x1="957" y1="1074.1" x2="957" y2="1092" stroke="#fff" stroke-width="0.9" opacity="0.3"/>
<line x1="961" y1="1074.1" x2="961" y2="1092" stroke="#fff" stroke-width="0.9" opacity="0.3"/>
<line x1="970" y1="1074.1" x2="970" y2="1092" stroke="#fff" stroke-width="0.9" opacity="0.3"/>
<line x1="976" y1="1074.1" x2="976" y2="1092" stroke="#fff" stroke-width="0.9" opacity="0.3"/>
<line x1="1005.4" y1="1074.1" x2="1005.4" y2="1092" stroke="#777" stroke-width="0.9" stroke-linecap="butt"/>
<line x1="1006.8" y1="1074.1" x2="1006.8" y2="1092" stroke="#777" stroke-width="0.9" stroke-linecap="butt"/>
<line x1="1008.5" y1="1074.1" x2="1008.5" y2="1092" stroke="#777" stroke-width="0.9" stroke-linecap="butt"/>
<line x1="1010.3" y1="1074.1" x2="1010.3" y2="1092" stroke="#777" stroke-width="0.9" stroke-linecap="butt"/>
<line x1="1012" y1="1074.1" x2="1012" y2="1092" stroke="#777" stroke-width="0.9" stroke-linecap="butt"/>
<line x1="1014.2" y1="1074.1" x2="1014.2" y2="1092" stroke="#777" stroke-width="0.9" stroke-linecap="butt"/>
<line x1="1016" y1="1074.1" x2="1016" y2="1092" stroke="#777" stroke-width="0.9" stroke-linecap="butt"/>
<line x1="1017.7" y1="1074.1" x2="1017.7" y2="1092" stroke="#777" stroke-width="0.9" stroke-linecap="butt"/>
<line x1="1019.5" y1="1074.1" x2="1019.5" y2="1092" stroke="#ccc" stroke-width="0.9" stroke-linecap="butt"/>
<line x1="1023" y1="1074.1" x2="1023" y2="1092" stroke="#ddd" stroke-width="0.9" stroke-linecap="butt"/>
<line x1="1090.4" y1="1074.1" x2="1090.4" y2="1092" stroke="#999" stroke-width="1" stroke-linecap="butt"/>
<line x1="863.4" y1="587.5" x2="863.4" y2="1101.2" stroke="#000" stroke-width="1.4" stroke-linecap="butt"/>
<line x1="862.7" y1="1100.5" x2="1403.8" y2="1100.5" stroke="#000" stroke-width="1.4" stroke-linecap="butt"/>
<line x1="852.4" y1="1072.4" x2="863.4" y2="1072.4" stroke="#000" stroke-width="1.4" stroke-linecap="butt"/>
<text x="842.9" y="1081.4" font-size="26.5" text-anchor="end">0</text>
<line x1="852.4" y1="956.9" x2="863.4" y2="956.9" stroke="#000" stroke-width="1.4" stroke-linecap="butt"/>
<text x="842.9" y="965.9" font-size="26.5" text-anchor="end">0.25</text>
<line x1="852.4" y1="841.4" x2="863.4" y2="841.4" stroke="#000" stroke-width="1.4" stroke-linecap="butt"/>
<text x="842.9" y="850.4" font-size="26.5" text-anchor="end">0.50</text>
<line x1="852.4" y1="725.9" x2="863.4" y2="725.9" stroke="#000" stroke-width="1.4" stroke-linecap="butt"/>
<text x="842.9" y="734.9" font-size="26.5" text-anchor="end">0.75</text>
<line x1="852.4" y1="610.4" x2="863.4" y2="610.4" stroke="#000" stroke-width="1.4" stroke-linecap="butt"/>
<text x="842.9" y="619.4" font-size="26.5" text-anchor="end">1.00</text>
<line x1="913.7" y1="1100.5" x2="913.7" y2="1111.5" stroke="#000" stroke-width="1.4" stroke-linecap="butt"/>
<text x="913.7" y="1142.7" font-size="26.5" text-anchor="middle">0</text>
<line x1="1030.5" y1="1100.5" x2="1030.5" y2="1111.5" stroke="#000" stroke-width="1.4" stroke-linecap="butt"/>
<text x="1030.5" y="1142.7" font-size="26.5" text-anchor="middle">0.25</text>
<line x1="1147.3" y1="1100.5" x2="1147.3" y2="1111.5" stroke="#000" stroke-width="1.4" stroke-linecap="butt"/>
<text x="1147.3" y="1142.7" font-size="26.5" text-anchor="middle">0.50</text>
<line x1="1264.1" y1="1100.5" x2="1264.1" y2="1111.5" stroke="#000" stroke-width="1.4" stroke-linecap="butt"/>
<text x="1264.1" y="1142.7" font-size="26.5" text-anchor="middle">0.75</text>
<line x1="1380.9" y1="1100.5" x2="1380.9" y2="1111.5" stroke="#000" stroke-width="1.4" stroke-linecap="butt"/>
<text x="1380.9" y="1142.7" font-size="26.5" text-anchor="middle">1.00</text>
<text transform="translate(761.9,843) rotate(-90)" x="0" y="0" font-size="27.1" text-anchor="middle">Contig position (Mb)</text>
<text x="1133.6" y="1182.9" font-size="27.1" text-anchor="middle">Contig position (Mb)</text>
<text x="1133.6" y="578.2" font-size="27.1" text-anchor="middle"><tspan font-style="italic">P. m. gambelii</tspan> : contig_633</text>
<rect x="1625" y="641.7" width="1.3" height="1.3" fill="#000" opacity="0.55"/>
<rect x="1625" y="677.8" width="1.3" height="1.3" fill="#000" opacity="0.55"/>
<rect x="1625" y="689.9" width="1.3" height="1.3" fill="#000" opacity="0.55"/>
<rect x="1625" y="764.2" width="1.3" height="1.3" fill="#000" opacity="0.55"/>
<rect x="1637" y="626.4" width="1.3" height="1.3" fill="#000" opacity="0.55"/>
<rect x="1637" y="659.8" width="1.3" height="1.3" fill="#000" opacity="0.55"/>
<rect x="1637" y="764.2" width="1.3" height="1.3" fill="#000" opacity="0.55"/>
<rect x="1637" y="775.1" width="1.3" height="1.3" fill="#000" opacity="0.55"/>
<rect x="1637" y="893.6" width="1.3" height="1.3" fill="#000" opacity="0.55"/>
<rect x="1637" y="1012.1" width="1.3" height="1.3" fill="#000" opacity="0.55"/>
<rect x="1653.9" y="1036.2" width="1.3" height="1.3" fill="#000" opacity="0.55"/>
<rect x="1671.2" y="704.8" width="1.3" height="1.3" fill="#000" opacity="0.55"/>
<rect x="1671.2" y="859.4" width="1.3" height="1.3" fill="#000" opacity="0.55"/>
<rect x="1671.2" y="925.7" width="1.3" height="1.3" fill="#000" opacity="0.55"/>
<rect x="1671.2" y="941.8" width="1.3" height="1.3" fill="#000" opacity="0.55"/>
<rect x="1671.2" y="984" width="1.3" height="1.3" fill="#000" opacity="0.55"/>
<rect x="1671.2" y="1052.3" width="1.3" height="1.3" fill="#000" opacity="0.55"/>
<rect x="1677.2" y="738.9" width="1.3" height="1.3" fill="#000" opacity="0.55"/>
<rect x="1677.2" y="909.7" width="1.3" height="1.3" fill="#000" opacity="0.55"/>
<rect x="1677.2" y="925.7" width="1.3" height="1.3" fill="#000" opacity="0.55"/>
<rect x="1677.2" y="976" width="1.3" height="1.3" fill="#000" opacity="0.55"/>
<rect x="1677.2" y="984" width="1.3" height="1.3" fill="#000" opacity="0.55"/>
<rect x="1695.3" y="626.4" width="1.3" height="1.3" fill="#000" opacity="0.55"/>
<rect x="1695.3" y="677.8" width="1.3" height="1.3" fill="#000" opacity="0.55"/>
<rect x="1695.3" y="750.2" width="1.3" height="1.3" fill="#000" opacity="0.55"/>
<rect x="1695.3" y="996" width="1.3" height="1.3" fill="#000" opacity="0.55"/>
<rect x="1707.4" y="641.7" width="1.3" height="1.3" fill="#000" opacity="0.55"/>
<rect x="1707.4" y="750.2" width="1.3" height="1.3" fill="#000" opacity="0.55"/>
<rect x="1707.4" y="1036.2" width="1.3" height="1.3" fill="#000" opacity="0.55"/>
<rect x="1715.4" y="677.8" width="1.3" height="1.3" fill="#000" opacity="0.55"/>
<rect x="1715.4" y="704.8" width="1.3" height="1.3" fill="#000" opacity="0.55"/>
<rect x="1715.4" y="738.9" width="1.3" height="1.3" fill="#000" opacity="0.55"/>
<rect x="1715.4" y="750.2" width="1.3" height="1.3" fill="#000" opacity="0.55"/>
<rect x="1715.4" y="787.1" width="1.3" height="1.3" fill="#000" opacity="0.55"/>
<rect x="1715.4" y="909.7" width="1.3" height="1.3" fill="#000" opacity="0.55"/>
<rect x="1715.4" y="1020.2" width="1.3" height="1.3" fill="#000" opacity="0.55"/>
<rect x="1751.5" y="626.4" width="1.3" height="1.3" fill="#000" opacity="0.55"/>
<rect x="1751.5" y="775.1" width="1.3" height="1.3" fill="#000" opacity="0.55"/>
<rect x="1751.5" y="925.7" width="1.3" height="1.3" fill="#000" opacity="0.55"/>
<rect x="1751.5" y="941.8" width="1.3" height="1.3" fill="#000" opacity="0.55"/>
<rect x="1761.6" y="626.4" width="1.3" height="1.3" fill="#000" opacity="0.55"/>
<rect x="1761.6" y="677.8" width="1.3" height="1.3" fill="#000" opacity="0.55"/>
<rect x="1761.6" y="984" width="1.3" height="1.3" fill="#000" opacity="0.55"/>
<rect x="1761.6" y="1020.2" width="1.3" height="1.3" fill="#000" opacity="0.55"/>
<rect x="1761.6" y="1052.3" width="1.3" height="1.3" fill="#000" opacity="0.55"/>
<rect x="1779.7" y="641.7" width="1.3" height="1.3" fill="#000" opacity="0.55"/>
<rect x="1779.7" y="764.2" width="1.3" height="1.3" fill="#000" opacity="0.55"/>
<rect x="1779.7" y="787.1" width="1.3" height="1.3" fill="#000" opacity="0.55"/>
<rect x="1779.7" y="879.5" width="1.3" height="1.3" fill="#000" opacity="0.55"/>
<rect x="1779.7" y="893.6" width="1.3" height="1.3" fill="#000" opacity="0.55"/>
<rect x="1779.7" y="909.7" width="1.3" height="1.3" fill="#000" opacity="0.55"/>
<rect x="1779.7" y="1036.2" width="1.3" height="1.3" fill="#000" opacity="0.55"/>
<rect x="1779.7" y="1052.3" width="1.3" height="1.3" fill="#000" opacity="0.55"/>
<rect x="1797.7" y="641.7" width="1.3" height="1.3" fill="#000" opacity="0.55"/>
<rect x="1797.7" y="750.2" width="1.3" height="1.3" fill="#000" opacity="0.55"/>
<rect x="1797.7" y="859.4" width="1.3" height="1.3" fill="#000" opacity="0.55"/>
<rect x="1797.7" y="925.7" width="1.3" height="1.3" fill="#000" opacity="0.55"/>
<rect x="1797.7" y="1012.1" width="1.3" height="1.3" fill="#000" opacity="0.55"/>
<rect x="1809.8" y="641.7" width="1.3" height="1.3" fill="#000" opacity="0.55"/>
<rect x="1809.8" y="677.8" width="1.3" height="1.3" fill="#000" opacity="0.55"/>
<rect x="1809.8" y="879.5" width="1.3" height="1.3" fill="#000" opacity="0.55"/>
<rect x="1809.8" y="976" width="1.3" height="1.3" fill="#000" opacity="0.55"/>
<rect x="1809.8" y="984" width="1.3" height="1.3" fill="#000" opacity="0.55"/>
<rect x="1821.9" y="626.4" width="1.3" height="1.3" fill="#000" opacity="0.55"/>
<rect x="1821.9" y="716.8" width="1.3" height="1.3" fill="#000" opacity="0.55"/>
<rect x="1821.9" y="787.1" width="1.3" height="1.3" fill="#000" opacity="0.55"/>
<rect x="1821.9" y="893.6" width="1.3" height="1.3" fill="#000" opacity="0.55"/>
<rect x="1821.9" y="925.7" width="1.3" height="1.3" fill="#000" opacity="0.55"/>
<rect x="1821.9" y="1012.1" width="1.3" height="1.3" fill="#000" opacity="0.55"/>
<rect x="1821.9" y="1036.2" width="1.3" height="1.3" fill="#000" opacity="0.55"/>
<rect x="1908.2" y="626.4" width="1.3" height="1.3" fill="#000" opacity="0.55"/>
<rect x="1908.2" y="704.8" width="1.3" height="1.3" fill="#000" opacity="0.55"/>
<rect x="1908.2" y="716.8" width="1.3" height="1.3" fill="#000" opacity="0.55"/>
<rect x="1908.2" y="859.4" width="1.3" height="1.3" fill="#000" opacity="0.55"/>
<rect x="1908.2" y="879.5" width="1.3" height="1.3" fill="#000" opacity="0.55"/>
<rect x="1908.2" y="909.7" width="1.3" height="1.3" fill="#000" opacity="0.55"/>
<rect x="1908.2" y="976" width="1.3" height="1.3" fill="#000" opacity="0.55"/>
<rect x="1908.2" y="996" width="1.3" height="1.3" fill="#000" opacity="0.55"/>
<rect x="1908.2" y="1052.3" width="1.3" height="1.3" fill="#000" opacity="0.55"/>
<rect x="1918.3" y="641.7" width="1.3" height="1.3" fill="#000" opacity="0.55"/>
<rect x="1918.3" y="659.8" width="1.3" height="1.3" fill="#000" opacity="0.55"/>
<rect x="1918.3" y="738.9" width="1.3" height="1.3" fill="#000" opacity="0.55"/>
<rect x="1918.3" y="909.7" width="1.3" height="1.3" fill="#000" opacity="0.55"/>
<rect x="1918.3" y="941.8" width="1.3" height="1.3" fill="#000" opacity="0.55"/>
<rect x="1918.3" y="1020.2" width="1.3" height="1.3" fill="#000" opacity="0.55"/>
<rect x="1930.3" y="677.8" width="1.3" height="1.3" fill="#000" opacity="0.55"/>
<rect x="1930.3" y="738.9" width="1.3" height="1.3" fill="#000" opacity="0.55"/>
<rect x="1930.3" y="909.7" width="1.3" height="1.3" fill="#000" opacity="0.55"/>
<rect x="1930.3" y="984" width="1.3" height="1.3" fill="#000" opacity="0.55"/>
<rect x="1930.3" y="1036.2" width="1.3" height="1.3" fill="#000" opacity="0.55"/>
<rect x="1956.4" y="626.4" width="1.3" height="1.3" fill="#000" opacity="0.55"/>
<rect x="1956.4" y="641.7" width="1.3" height="1.3" fill="#000" opacity="0.55"/>
<rect x="1956.4" y="659.8" width="1.3" height="1.3" fill="#000" opacity="0.55"/>
<rect x="1956.4" y="879.5" width="1.3" height="1.3" fill="#000" opacity="0.55"/>
<rect x="1956.4" y="941.8" width="1.3" height="1.3" fill="#000" opacity="0.55"/>
<rect x="1956.4" y="996" width="1.3" height="1.3" fill="#000" opacity="0.55"/>
<rect x="1956.4" y="1052.3" width="1.3" height="1.3" fill="#000" opacity="0.55"/>
<rect x="1968.5" y="909.7" width="1.3" height="1.3" fill="#000" opacity="0.55"/>
<rect x="1968.5" y="1012.1" width="1.3" height="1.3" fill="#000" opacity="0.55"/>
<rect x="1980.6" y="775.1" width="1.3" height="1.3" fill="#000" opacity="0.55"/>
<rect x="1980.6" y="941.8" width="1.3" height="1.3" fill="#000" opacity="0.55"/>
<rect x="1980.6" y="984" width="1.3" height="1.3" fill="#000" opacity="0.55"/>
<rect x="1980.6" y="996" width="1.3" height="1.3" fill="#000" opacity="0.55"/>
<rect x="1994.6" y="641.7" width="1.3" height="1.3" fill="#000" opacity="0.55"/>
<rect x="1994.6" y="716.8" width="1.3" height="1.3" fill="#000" opacity="0.55"/>
<rect x="1994.6" y="859.4" width="1.3" height="1.3" fill="#000" opacity="0.55"/>
<rect x="1994.6" y="893.6" width="1.3" height="1.3" fill="#000" opacity="0.55"/>
<rect x="1994.6" y="925.7" width="1.3" height="1.3" fill="#000" opacity="0.55"/>
<rect x="2018.7" y="689.9" width="1.3" height="1.3" fill="#000" opacity="0.55"/>
<rect x="2018.7" y="716.8" width="1.3" height="1.3" fill="#000" opacity="0.55"/>
<rect x="2018.7" y="750.2" width="1.3" height="1.3" fill="#000" opacity="0.55"/>
<rect x="2018.7" y="764.2" width="1.3" height="1.3" fill="#000" opacity="0.55"/>
<rect x="2018.7" y="909.7" width="1.3" height="1.3" fill="#000" opacity="0.55"/>
<rect x="2018.7" y="1036.2" width="1.3" height="1.3" fill="#000" opacity="0.55"/>
<rect x="2034.8" y="859.4" width="1.3" height="1.3" fill="#000" opacity="0.55"/>
<rect x="2034.8" y="1012.1" width="1.3" height="1.3" fill="#000" opacity="0.55"/>
<rect x="2034.8" y="1036.2" width="1.3" height="1.3" fill="#000" opacity="0.55"/>
<rect x="2046.8" y="641.7" width="1.3" height="1.3" fill="#000" opacity="0.55"/>
<rect x="2046.8" y="689.9" width="1.3" height="1.3" fill="#000" opacity="0.55"/>
<rect x="2046.8" y="1020.2" width="1.3" height="1.3" fill="#000" opacity="0.55"/>
<rect x="2055.7" y="659.8" width="1.3" height="1.3" fill="#000" opacity="0.55"/>
<rect x="2055.7" y="704.8" width="1.3" height="1.3" fill="#000" opacity="0.55"/>
<rect x="2055.7" y="738.9" width="1.3" height="1.3" fill="#000" opacity="0.55"/>
<rect x="2055.7" y="764.2" width="1.3" height="1.3" fill="#000" opacity="0.55"/>
<rect x="2055.7" y="893.6" width="1.3" height="1.3" fill="#000" opacity="0.55"/>
<rect x="2055.7" y="941.8" width="1.3" height="1.3" fill="#000" opacity="0.55"/>
<rect x="2055.7" y="996" width="1.3" height="1.3" fill="#000" opacity="0.55"/>
<line x1="1619" y1="1072.4" x2="2086.1" y2="611" stroke="#333" stroke-width="1" stroke-linecap="butt"/>
<line x1="1836.89" y1="824.28" x2="1839.89" y2="821.28" stroke="#000" stroke-width="1.2" opacity="1.0"/>
<line x1="1878.23" y1="839.58" x2="1881.23" y2="836.58" stroke="#000" stroke-width="1.2" opacity="1.0"/>
<line x1="1873.61" y1="851.2" x2="1876.61" y2="848.2" stroke="#000" stroke-width="1.2" opacity="1.0"/>
<line x1="1869.84" y1="831.16" x2="1872.84" y2="828.16" stroke="#000" stroke-width="1.2" opacity="1.0"/>
<line x1="1829.49" y1="858.65" x2="1832.49" y2="855.65" stroke="#000" stroke-width="1.2" opacity="1.0"/>
<line x1="1849.98" y1="846.33" x2="1852.98" y2="843.33" stroke="#000" stroke-width="1.2" opacity="1.0"/>
<line x1="1862.89" y1="858.38" x2="1865.89" y2="855.38" stroke="#000" stroke-width="1.2" opacity="1.0"/>
<line x1="1837.44" y1="834.14" x2="1840.44" y2="831.14" stroke="#000" stroke-width="1.2" opacity="1.0"/>
<line x1="1878.79" y1="844.5" x2="1881.79" y2="841.5" stroke="#000" stroke-width="1.2" opacity="1.0"/>
<line x1="1838.27" y1="850.77" x2="1841.27" y2="847.77" stroke="#000" stroke-width="1.2" opacity="1.0"/>
<line x1="1836.43" y1="859.54" x2="1839.43" y2="856.54" stroke="#000" stroke-width="1.2" opacity="1.0"/>
<line x1="1822.36" y1="862.98" x2="1825.36" y2="859.98" stroke="#000" stroke-width="1.2" opacity="1.0"/>
<line x1="1856.18" y1="833.58" x2="1859.18" y2="830.58" stroke="#000" stroke-width="1.2" opacity="1.0"/>
<line x1="1880.23" y1="828.1" x2="1883.23" y2="825.1" stroke="#000" stroke-width="1.2" opacity="1.0"/>
<line x1="1835.37" y1="815.94" x2="1838.37" y2="812.94" stroke="#000" stroke-width="1.2" opacity="1.0"/>
<line x1="1855.03" y1="858.44" x2="1858.03" y2="855.44" stroke="#000" stroke-width="1.2" opacity="1.0"/>
<line x1="1863.37" y1="837.25" x2="1866.37" y2="834.25" stroke="#000" stroke-width="1.2" opacity="1.0"/>
<line x1="1871.72" y1="818.52" x2="1874.72" y2="815.52" stroke="#000" stroke-width="1.2" opacity="1.0"/>
<line x1="1839.47" y1="851.67" x2="1842.47" y2="848.67" stroke="#000" stroke-width="1.2" opacity="1.0"/>
<line x1="1881.99" y1="851" x2="1884.99" y2="848" stroke="#000" stroke-width="1.2" opacity="1.0"/>
<line x1="1864.27" y1="859.74" x2="1867.27" y2="856.74" stroke="#000" stroke-width="1.2" opacity="1.0"/>
<line x1="1845.11" y1="870.04" x2="1848.11" y2="867.04" stroke="#000" stroke-width="1.2" opacity="1.0"/>
<line x1="1867.51" y1="832.84" x2="1870.51" y2="829.84" stroke="#000" stroke-width="1.2" opacity="1.0"/>
<line x1="1844.98" y1="861.68" x2="1847.98" y2="858.68" stroke="#000" stroke-width="1.2" opacity="1.0"/>
<line x1="1842.22" y1="823.14" x2="1845.22" y2="820.14" stroke="#000" stroke-width="1.2" opacity="1.0"/>
<line x1="1875.83" y1="844.65" x2="1878.83" y2="841.65" stroke="#000" stroke-width="1.2" opacity="1.0"/>
<line x1="1853.26" y1="853.2" x2="1856.26" y2="850.2" stroke="#000" stroke-width="1.2" opacity="1.0"/>
<line x1="1877.76" y1="819.9" x2="1880.76" y2="816.9" stroke="#000" stroke-width="1.2" opacity="1.0"/>
<line x1="1841.51" y1="815.7" x2="1844.51" y2="812.7" stroke="#000" stroke-width="1.2" opacity="1.0"/>
<line x1="1846.31" y1="842.81" x2="1849.31" y2="839.81" stroke="#000" stroke-width="1.2" opacity="1.0"/>
<line x1="1874.56" y1="853.1" x2="1877.56" y2="850.1" stroke="#000" stroke-width="1.2" opacity="1.0"/>
<line x1="1856.91" y1="836.69" x2="1859.91" y2="833.69" stroke="#000" stroke-width="1.2" opacity="1.0"/>
<line x1="1856.65" y1="828.62" x2="1859.65" y2="825.62" stroke="#000" stroke-width="1.2" opacity="1.0"/>
<line x1="1874.1" y1="860.6" x2="1877.1" y2="857.6" stroke="#000" stroke-width="1.2" opacity="1.0"/>
<line x1="1873.69" y1="820.99" x2="1876.69" y2="817.99" stroke="#000" stroke-width="1.2" opacity="1.0"/>
<line x1="1862.95" y1="858.47" x2="1865.95" y2="855.47" stroke="#000" stroke-width="1.2" opacity="1.0"/>
<line x1="1851.94" y1="867.43" x2="1854.94" y2="864.43" stroke="#000" stroke-width="1.2" opacity="1.0"/>
<line x1="1877.58" y1="857.78" x2="1880.58" y2="854.78" stroke="#000" stroke-width="1.2" opacity="1.0"/>
<line x1="1872.57" y1="851.93" x2="1875.57" y2="848.93" stroke="#000" stroke-width="1.2" opacity="1.0"/>
<line x1="1876.29" y1="819.76" x2="1879.29" y2="816.76" stroke="#000" stroke-width="1.2" opacity="1.0"/>
<line x1="1865.04" y1="855.34" x2="1868.04" y2="852.34" stroke="#000" stroke-width="1.2" opacity="1.0"/>
<line x1="1859.14" y1="828.7" x2="1862.14" y2="825.7" stroke="#000" stroke-width="1.2" opacity="1.0"/>
<line x1="1824.03" y1="849.1" x2="1827.03" y2="846.1" stroke="#000" stroke-width="1.2" opacity="1.0"/>
<line x1="1872.78" y1="828.57" x2="1875.78" y2="825.57" stroke="#000" stroke-width="1.2" opacity="1.0"/>
<line x1="1833.42" y1="825.51" x2="1836.42" y2="822.51" stroke="#000" stroke-width="1.2" opacity="1.0"/>
<line x1="1825.74" y1="853.61" x2="1828.74" y2="850.61" stroke="#000" stroke-width="1.2" opacity="1.0"/>
<line x1="1882.48" y1="861.45" x2="1885.48" y2="858.45" stroke="#000" stroke-width="1.2" opacity="1.0"/>
<line x1="1842.87" y1="855.07" x2="1845.87" y2="852.07" stroke="#000" stroke-width="1.2" opacity="1.0"/>
<line x1="1824.35" y1="863.72" x2="1827.35" y2="860.72" stroke="#000" stroke-width="1.2" opacity="1.0"/>
<line x1="1840.64" y1="811.81" x2="1843.64" y2="808.81" stroke="#000" stroke-width="1.2" opacity="1.0"/>
<line x1="1860.22" y1="820.22" x2="1863.22" y2="817.22" stroke="#000" stroke-width="1.2" opacity="1.0"/>
<line x1="1837.41" y1="815.27" x2="1840.41" y2="812.27" stroke="#000" stroke-width="1.2" opacity="1.0"/>
<line x1="1848.4" y1="846.09" x2="1851.4" y2="843.09" stroke="#000" stroke-width="1.2" opacity="1.0"/>
<line x1="1871.69" y1="814.06" x2="1874.69" y2="811.06" stroke="#000" stroke-width="1.2" opacity="1.0"/>
<line x1="1872.98" y1="818.47" x2="1875.98" y2="815.47" stroke="#000" stroke-width="1.2" opacity="1.0"/>
<line x1="1834.16" y1="850.72" x2="1837.16" y2="847.72" stroke="#000" stroke-width="1.2" opacity="1.0"/>
<line x1="1841.6" y1="832.17" x2="1844.6" y2="829.17" stroke="#000" stroke-width="1.2" opacity="1.0"/>
<line x1="1856.31" y1="825.14" x2="1859.31" y2="822.14" stroke="#000" stroke-width="1.2" opacity="1.0"/>
<line x1="1870.8" y1="824.59" x2="1873.8" y2="821.59" stroke="#000" stroke-width="1.2" opacity="1.0"/>
<line x1="1873.76" y1="861.86" x2="1876.76" y2="858.86" stroke="#000" stroke-width="1.2" opacity="1.0"/>
<line x1="1854.29" y1="813.49" x2="1857.29" y2="810.49" stroke="#000" stroke-width="1.2" opacity="1.0"/>
<line x1="1869.81" y1="813.36" x2="1872.81" y2="810.36" stroke="#000" stroke-width="1.2" opacity="1.0"/>
<line x1="1852.2" y1="837.95" x2="1855.2" y2="834.95" stroke="#000" stroke-width="1.2" opacity="1.0"/>
<line x1="1823.76" y1="850.76" x2="1826.76" y2="847.76" stroke="#000" stroke-width="1.2" opacity="1.0"/>
<line x1="1866.36" y1="847.95" x2="1869.36" y2="844.95" stroke="#000" stroke-width="1.2" opacity="1.0"/>
<line x1="1845.47" y1="843.43" x2="1848.47" y2="840.43" stroke="#000" stroke-width="1.2" opacity="1.0"/>
<line x1="1857.62" y1="825.66" x2="1860.62" y2="822.66" stroke="#000" stroke-width="1.2" opacity="1.0"/>
<line x1="1875.58" y1="873.48" x2="1878.58" y2="870.48" stroke="#000" stroke-width="1.2" opacity="1.0"/>
<line x1="1871.49" y1="871.35" x2="1874.49" y2="868.35" stroke="#000" stroke-width="1.2" opacity="1.0"/>
<line x1="1840.91" y1="872.9" x2="1843.91" y2="869.9" stroke="#000" stroke-width="1.2" opacity="1.0"/>
<line x1="1824.3" y1="841.3" x2="1827.3" y2="838.3" stroke="#000" stroke-width="1.2" opacity="1.0"/>
<line x1="1828.31" y1="839.81" x2="1831.31" y2="836.81" stroke="#000" stroke-width="1.2" opacity="1.0"/>
<line x1="1863.66" y1="855.63" x2="1866.66" y2="852.63" stroke="#000" stroke-width="1.2" opacity="1.0"/>
<line x1="1848.98" y1="832.84" x2="1851.98" y2="829.84" stroke="#000" stroke-width="1.2" opacity="1.0"/>
<line x1="1831.93" y1="836.64" x2="1834.93" y2="833.64" stroke="#000" stroke-width="1.2" opacity="1.0"/>
<line x1="1837.9" y1="823.67" x2="1840.9" y2="820.67" stroke="#000" stroke-width="1.2" opacity="1.0"/>
<line x1="1867.1" y1="843.68" x2="1870.1" y2="840.68" stroke="#000" stroke-width="1.2" opacity="1.0"/>
<line x1="1847.95" y1="823.89" x2="1850.95" y2="820.89" stroke="#000" stroke-width="1.2" opacity="1.0"/>
<line x1="1865.02" y1="823.83" x2="1868.02" y2="820.83" stroke="#000" stroke-width="1.2" opacity="1.0"/>
<line x1="1836.81" y1="846.42" x2="1839.81" y2="843.42" stroke="#000" stroke-width="1.2" opacity="1.0"/>
<line x1="1864.86" y1="872.07" x2="1867.86" y2="869.07" stroke="#000" stroke-width="1.2" opacity="1.0"/>
<line x1="1867.85" y1="870.54" x2="1870.85" y2="867.54" stroke="#000" stroke-width="1.2" opacity="1.0"/>
<line x1="1878.94" y1="856.51" x2="1881.94" y2="853.51" stroke="#000" stroke-width="1.2" opacity="1.0"/>
<line x1="1866.04" y1="815.5" x2="1869.04" y2="812.5" stroke="#000" stroke-width="1.2" opacity="1.0"/>
<line x1="1832.94" y1="812.41" x2="1835.94" y2="809.41" stroke="#000" stroke-width="1.2" opacity="1.0"/>
<line x1="1875.31" y1="856.47" x2="1878.31" y2="853.47" stroke="#000" stroke-width="1.2" opacity="1.0"/>
<line x1="1860.28" y1="827.99" x2="1863.28" y2="824.99" stroke="#000" stroke-width="1.2" opacity="1.0"/>
<line x1="1842.59" y1="821.77" x2="1845.59" y2="818.77" stroke="#000" stroke-width="1.2" opacity="1.0"/>
<line x1="1860.42" y1="873.22" x2="1863.42" y2="870.22" stroke="#000" stroke-width="1.2" opacity="1.0"/>
<line x1="1839.39" y1="814.35" x2="1842.39" y2="811.35" stroke="#000" stroke-width="1.2" opacity="1.0"/>
<line x1="1830.98" y1="833.68" x2="1833.98" y2="830.68" stroke="#000" stroke-width="1.2" opacity="1.0"/>
<line x1="1877.59" y1="861.6" x2="1880.59" y2="858.6" stroke="#000" stroke-width="1.2" opacity="1.0"/>
<line x1="1849.01" y1="817.95" x2="1852.01" y2="814.95" stroke="#000" stroke-width="1.2" opacity="1.0"/>
<line x1="1826.57" y1="821.16" x2="1829.57" y2="818.16" stroke="#000" stroke-width="1.2" opacity="1.0"/>
<line x1="1869.77" y1="840.89" x2="1872.77" y2="837.89" stroke="#000" stroke-width="1.2" opacity="1.0"/>
<line x1="1883.49" y1="868.26" x2="1886.49" y2="865.26" stroke="#000" stroke-width="1.2" opacity="1.0"/>
<line x1="1870.88" y1="841.2" x2="1873.88" y2="838.2" stroke="#000" stroke-width="1.2" opacity="1.0"/>
<line x1="1872.63" y1="819.57" x2="1875.63" y2="816.57" stroke="#000" stroke-width="1.2" opacity="1.0"/>
<line x1="1826.71" y1="846.62" x2="1829.71" y2="843.62" stroke="#000" stroke-width="1.2" opacity="1.0"/>
<line x1="1852.41" y1="824.61" x2="1855.41" y2="821.61" stroke="#000" stroke-width="1.2" opacity="1.0"/>
<line x1="1835.92" y1="812.92" x2="1838.92" y2="809.92" stroke="#000" stroke-width="1.2" opacity="1.0"/>
<line x1="1878.23" y1="855.74" x2="1881.23" y2="852.74" stroke="#000" stroke-width="1.2" opacity="1.0"/>
<line x1="1880.58" y1="872.54" x2="1883.58" y2="869.54" stroke="#000" stroke-width="1.2" opacity="1.0"/>
<line x1="1847.83" y1="857.12" x2="1850.83" y2="854.12" stroke="#000" stroke-width="1.2" opacity="1.0"/>
<line x1="1844.44" y1="862.06" x2="1847.44" y2="859.06" stroke="#000" stroke-width="1.2" opacity="1.0"/>
<line x1="1873.88" y1="819.92" x2="1876.88" y2="816.92" stroke="#000" stroke-width="1.2" opacity="1.0"/>
<line x1="1820.53" y1="824.9" x2="1823.53" y2="821.9" stroke="#000" stroke-width="1.2" opacity="1.0"/>
<line x1="1857.4" y1="835.15" x2="1860.4" y2="832.15" stroke="#000" stroke-width="1.2" opacity="1.0"/>
<line x1="1820.29" y1="863.2" x2="1823.29" y2="860.2" stroke="#000" stroke-width="1.2" opacity="1.0"/>
<line x1="1870.32" y1="840.42" x2="1873.32" y2="837.42" stroke="#000" stroke-width="1.2" opacity="1.0"/>
<line x1="1822.49" y1="866.85" x2="1825.49" y2="863.85" stroke="#000" stroke-width="1.2" opacity="1.0"/>
<line x1="1854.1" y1="816.01" x2="1857.1" y2="813.01" stroke="#000" stroke-width="1.2" opacity="1.0"/>
<line x1="1840.52" y1="850.42" x2="1843.52" y2="847.42" stroke="#000" stroke-width="1.2" opacity="1.0"/>
<line x1="1876.71" y1="841.71" x2="1879.71" y2="838.71" stroke="#000" stroke-width="1.2" opacity="1.0"/>
<line x1="1860.88" y1="824.39" x2="1863.88" y2="821.39" stroke="#000" stroke-width="1.2" opacity="1.0"/>
<line x1="1835.38" y1="867.9" x2="1838.38" y2="864.9" stroke="#000" stroke-width="1.2" opacity="1.0"/>
<line x1="1844.34" y1="818.06" x2="1847.34" y2="815.06" stroke="#000" stroke-width="1.2" opacity="1.0"/>
<line x1="1857.77" y1="819.45" x2="1860.77" y2="816.45" stroke="#000" stroke-width="1.2" opacity="1.0"/>
<line x1="1832.57" y1="839.97" x2="1835.57" y2="836.97" stroke="#000" stroke-width="1.2" opacity="1.0"/>
<line x1="1857.41" y1="851.15" x2="1860.41" y2="848.15" stroke="#000" stroke-width="1.2" opacity="1.0"/>
<line x1="1865.23" y1="838.92" x2="1868.23" y2="835.92" stroke="#000" stroke-width="1.2" opacity="1.0"/>
<line x1="1824.05" y1="856.63" x2="1827.05" y2="853.63" stroke="#000" stroke-width="1.2" opacity="1.0"/>
<line x1="1823.16" y1="840.85" x2="1826.16" y2="837.85" stroke="#000" stroke-width="1.2" opacity="1.0"/>
<line x1="1845.47" y1="853.42" x2="1848.47" y2="850.42" stroke="#000" stroke-width="1.2" opacity="1.0"/>
<line x1="1865.66" y1="826.5" x2="1868.66" y2="823.5" stroke="#000" stroke-width="1.2" opacity="1.0"/>
<line x1="1861.53" y1="854.61" x2="1864.53" y2="851.61" stroke="#000" stroke-width="1.2" opacity="1.0"/>
<line x1="1850.08" y1="820.41" x2="1853.08" y2="817.41" stroke="#000" stroke-width="1.2" opacity="1.0"/>
<line x1="1878.24" y1="848.83" x2="1881.24" y2="845.83" stroke="#000" stroke-width="1.2" opacity="1.0"/>
<line x1="1823.74" y1="826.43" x2="1826.74" y2="823.43" stroke="#000" stroke-width="1.2" opacity="1.0"/>
<line x1="1883.25" y1="825.81" x2="1886.25" y2="822.81" stroke="#000" stroke-width="1.2" opacity="1.0"/>
<line x1="1844.96" y1="860.58" x2="1847.96" y2="857.58" stroke="#000" stroke-width="1.2" opacity="1.0"/>
<line x1="1872.75" y1="851" x2="1875.75" y2="848" stroke="#000" stroke-width="1.2" opacity="1.0"/>
<line x1="1867.46" y1="813.98" x2="1870.46" y2="810.98" stroke="#000" stroke-width="1.2" opacity="1.0"/>
<line x1="1825.74" y1="872.27" x2="1828.74" y2="869.27" stroke="#000" stroke-width="1.2" opacity="1.0"/>
<line x1="1871.4" y1="813.97" x2="1874.4" y2="810.97" stroke="#000" stroke-width="1.2" opacity="1.0"/>
<line x1="1822.84" y1="826.54" x2="1825.84" y2="823.54" stroke="#000" stroke-width="1.2" opacity="1.0"/>
<line x1="1879.64" y1="825.25" x2="1882.64" y2="822.25" stroke="#000" stroke-width="1.2" opacity="1.0"/>
<line x1="1862.97" y1="869.42" x2="1865.97" y2="866.42" stroke="#000" stroke-width="1.2" opacity="1.0"/>
<line x1="1860.83" y1="868.73" x2="1863.83" y2="865.73" stroke="#000" stroke-width="1.2" opacity="1.0"/>
<line x1="1836.63" y1="821.13" x2="1839.63" y2="818.13" stroke="#000" stroke-width="1.2" opacity="1.0"/>
<line x1="1820.87" y1="858.66" x2="1823.87" y2="855.66" stroke="#000" stroke-width="1.2" opacity="1.0"/>
<line x1="1826.39" y1="872.08" x2="1829.39" y2="869.08" stroke="#000" stroke-width="1.2" opacity="1.0"/>
<line x1="1865.42" y1="823.22" x2="1868.42" y2="820.22" stroke="#000" stroke-width="1.2" opacity="1.0"/>
<line x1="1871.67" y1="821.72" x2="1874.67" y2="818.72" stroke="#000" stroke-width="1.2" opacity="1.0"/>
<line x1="1852.68" y1="818.18" x2="1855.68" y2="815.18" stroke="#000" stroke-width="1.2" opacity="1.0"/>
<line x1="1870.38" y1="866.89" x2="1873.38" y2="863.89" stroke="#000" stroke-width="1.2" opacity="1.0"/>
<line x1="1878.71" y1="811.74" x2="1881.71" y2="808.74" stroke="#000" stroke-width="1.2" opacity="1.0"/>
<line x1="1874.53" y1="846.15" x2="1877.53" y2="843.15" stroke="#000" stroke-width="1.2" opacity="1.0"/>
<line x1="1872.6" y1="842.83" x2="1875.6" y2="839.83" stroke="#000" stroke-width="1.2" opacity="1.0"/>
<line x1="1859.62" y1="848.55" x2="1862.62" y2="845.55" stroke="#000" stroke-width="1.2" opacity="1.0"/>
<line x1="1871.19" y1="816.42" x2="1874.19" y2="813.42" stroke="#000" stroke-width="1.2" opacity="1.0"/>
<line x1="1823.19" y1="845.5" x2="1826.19" y2="842.5" stroke="#000" stroke-width="1.2" opacity="1.0"/>
<line x1="1838.44" y1="836.27" x2="1841.44" y2="833.27" stroke="#000" stroke-width="1.2" opacity="1.0"/>
<line x1="1820.19" y1="857.9" x2="1823.19" y2="854.9" stroke="#000" stroke-width="1.2" opacity="1.0"/>
<line x1="1821.25" y1="863.16" x2="1824.25" y2="860.16" stroke="#000" stroke-width="1.2" opacity="1.0"/>
<line x1="1871.96" y1="840.06" x2="1874.96" y2="837.06" stroke="#000" stroke-width="1.2" opacity="1.0"/>
<line x1="1827.57" y1="852" x2="1830.57" y2="849" stroke="#000" stroke-width="1.2" opacity="1.0"/>
<line x1="1833.04" y1="838.27" x2="1836.04" y2="835.27" stroke="#000" stroke-width="1.2" opacity="1.0"/>
<line x1="1826.81" y1="872.29" x2="1829.81" y2="869.29" stroke="#000" stroke-width="1.2" opacity="1.0"/>
<line x1="1854.87" y1="833.51" x2="1857.87" y2="830.51" stroke="#000" stroke-width="1.2" opacity="1.0"/>
<line x1="1825.76" y1="856.98" x2="1828.76" y2="853.98" stroke="#000" stroke-width="1.2" opacity="1.0"/>
<line x1="1874.42" y1="864.32" x2="1877.42" y2="861.32" stroke="#000" stroke-width="1.2" opacity="1.0"/>
<line x1="1826.23" y1="834.45" x2="1829.23" y2="831.45" stroke="#000" stroke-width="1.2" opacity="1.0"/>
<line x1="1839.2" y1="858.98" x2="1842.2" y2="855.98" stroke="#000" stroke-width="1.2" opacity="1.0"/>
<line x1="1829.22" y1="849.29" x2="1832.22" y2="846.29" stroke="#000" stroke-width="1.2" opacity="1.0"/>
<line x1="1882.72" y1="859.38" x2="1885.72" y2="856.38" stroke="#000" stroke-width="1.2" opacity="1.0"/>
<line x1="1820.15" y1="816.26" x2="1823.15" y2="813.26" stroke="#000" stroke-width="1.2" opacity="1.0"/>
<line x1="1827.02" y1="854.64" x2="1830.02" y2="851.64" stroke="#000" stroke-width="1.2" opacity="1.0"/>
<line x1="1858.26" y1="843.93" x2="1861.26" y2="840.93" stroke="#000" stroke-width="1.2" opacity="1.0"/>
<line x1="1849.04" y1="836.92" x2="1852.04" y2="833.92" stroke="#000" stroke-width="1.2" opacity="1.0"/>
<line x1="1859.05" y1="851.91" x2="1862.05" y2="848.91" stroke="#000" stroke-width="1.2" opacity="1.0"/>
<line x1="1878.72" y1="857.14" x2="1881.72" y2="854.14" stroke="#000" stroke-width="1.2" opacity="1.0"/>
<line x1="1871" y1="868.33" x2="1874" y2="865.33" stroke="#000" stroke-width="1.2" opacity="1.0"/>
<line x1="1873.61" y1="856.14" x2="1876.61" y2="853.14" stroke="#000" stroke-width="1.2" opacity="1.0"/>
<line x1="1821.67" y1="853.92" x2="1824.67" y2="850.92" stroke="#000" stroke-width="1.2" opacity="1.0"/>
<line x1="1874.44" y1="838.37" x2="1877.44" y2="835.37" stroke="#000" stroke-width="1.2" opacity="1.0"/>
<line x1="1876.25" y1="822.78" x2="1879.25" y2="819.78" stroke="#000" stroke-width="1.2" opacity="1.0"/>
<line x1="1880.41" y1="839.05" x2="1883.41" y2="836.05" stroke="#000" stroke-width="1.2" opacity="1.0"/>
<line x1="1865.2" y1="827.3" x2="1868.2" y2="824.3" stroke="#000" stroke-width="1.2" opacity="1.0"/>
<line x1="1839.05" y1="833.26" x2="1842.05" y2="830.26" stroke="#000" stroke-width="1.2" opacity="1.0"/>
<line x1="1840.59" y1="817.49" x2="1843.59" y2="814.49" stroke="#000" stroke-width="1.2" opacity="1.0"/>
<line x1="1848.22" y1="872.56" x2="1851.22" y2="869.56" stroke="#000" stroke-width="1.2" opacity="1.0"/>
<line x1="1861.82" y1="869.54" x2="1864.82" y2="866.54" stroke="#000" stroke-width="1.2" opacity="1.0"/>
<line x1="1868.79" y1="863.61" x2="1871.79" y2="860.61" stroke="#000" stroke-width="1.2" opacity="1.0"/>
<line x1="1883.73" y1="858.38" x2="1886.73" y2="855.38" stroke="#000" stroke-width="1.2" opacity="1.0"/>
<line x1="1837.36" y1="827.12" x2="1840.36" y2="824.12" stroke="#000" stroke-width="1.2" opacity="1.0"/>
<line x1="1846.26" y1="812.9" x2="1849.26" y2="809.9" stroke="#000" stroke-width="1.2" opacity="1.0"/>
<line x1="1834.56" y1="866.68" x2="1837.56" y2="863.68" stroke="#000" stroke-width="1.2" opacity="1.0"/>
<line x1="1879.01" y1="832.03" x2="1882.01" y2="829.03" stroke="#000" stroke-width="1.2" opacity="1.0"/>
<line x1="1869.31" y1="859.76" x2="1872.31" y2="856.76" stroke="#000" stroke-width="1.2" opacity="1.0"/>
<line x1="1877" y1="860.98" x2="1880" y2="857.98" stroke="#000" stroke-width="1.2" opacity="1.0"/>
<line x1="1853.96" y1="818.12" x2="1856.96" y2="815.12" stroke="#000" stroke-width="1.2" opacity="1.0"/>
<line x1="1872.86" y1="831.09" x2="1875.86" y2="828.09" stroke="#000" stroke-width="1.2" opacity="1.0"/>
<line x1="1860.08" y1="834.42" x2="1863.08" y2="831.42" stroke="#000" stroke-width="1.2" opacity="1.0"/>
<line x1="1854.3" y1="871.61" x2="1857.3" y2="868.61" stroke="#000" stroke-width="1.2" opacity="1.0"/>
<line x1="1830.08" y1="844.6" x2="1833.08" y2="841.6" stroke="#000" stroke-width="1.2" opacity="1.0"/>
<line x1="1861.56" y1="845.06" x2="1864.56" y2="842.06" stroke="#000" stroke-width="1.2" opacity="1.0"/>
<line x1="1880.1" y1="836.93" x2="1883.1" y2="833.93" stroke="#000" stroke-width="1.2" opacity="1.0"/>
<line x1="1878.55" y1="854.47" x2="1881.55" y2="851.47" stroke="#000" stroke-width="1.2" opacity="1.0"/>
<line x1="1882" y1="817.17" x2="1885" y2="814.17" stroke="#000" stroke-width="1.2" opacity="1.0"/>
<line x1="1833.38" y1="829.46" x2="1836.38" y2="826.46" stroke="#000" stroke-width="1.2" opacity="1.0"/>
<line x1="1878.08" y1="812.45" x2="1881.08" y2="809.45" stroke="#000" stroke-width="1.2" opacity="1.0"/>
<line x1="1836.46" y1="856.09" x2="1839.46" y2="853.09" stroke="#000" stroke-width="1.2" opacity="1.0"/>
<line x1="1883.44" y1="822.56" x2="1886.44" y2="819.56" stroke="#000" stroke-width="1.2" opacity="1.0"/>
<line x1="1847.91" y1="854.29" x2="1850.91" y2="851.29" stroke="#000" stroke-width="1.2" opacity="1.0"/>
<line x1="1864.18" y1="857.97" x2="1867.18" y2="854.97" stroke="#000" stroke-width="1.2" opacity="1.0"/>
<line x1="1868.2" y1="827.04" x2="1871.2" y2="824.04" stroke="#000" stroke-width="1.2" opacity="1.0"/>
<line x1="1836.26" y1="813.32" x2="1839.26" y2="810.32" stroke="#000" stroke-width="1.2" opacity="1.0"/>
<line x1="1864.21" y1="824.6" x2="1867.21" y2="821.6" stroke="#000" stroke-width="1.2" opacity="1.0"/>
<line x1="1836.41" y1="871.53" x2="1839.41" y2="868.53" stroke="#000" stroke-width="1.2" opacity="1.0"/>
<line x1="1861.13" y1="848.34" x2="1864.13" y2="845.34" stroke="#000" stroke-width="1.2" opacity="1.0"/>
<line x1="1861.95" y1="848.76" x2="1864.95" y2="845.76" stroke="#000" stroke-width="1.2" opacity="1.0"/>
<line x1="1864.45" y1="830.49" x2="1867.45" y2="827.49" stroke="#000" stroke-width="1.2" opacity="1.0"/>
<line x1="1823.82" y1="815.76" x2="1826.82" y2="812.76" stroke="#000" stroke-width="1.2" opacity="1.0"/>
<line x1="1820.64" y1="834.07" x2="1823.64" y2="831.07" stroke="#000" stroke-width="1.2" opacity="1.0"/>
<line x1="1828.86" y1="818.61" x2="1831.86" y2="815.61" stroke="#000" stroke-width="1.2" opacity="1.0"/>
<line x1="1851.49" y1="871.86" x2="1854.49" y2="868.86" stroke="#000" stroke-width="1.2" opacity="1.0"/>
<line x1="1863.98" y1="828.6" x2="1866.98" y2="825.6" stroke="#000" stroke-width="1.2" opacity="1.0"/>
<line x1="1869.25" y1="822.66" x2="1872.25" y2="819.66" stroke="#000" stroke-width="1.2" opacity="1.0"/>
<line x1="1826.15" y1="830.44" x2="1829.15" y2="827.44" stroke="#000" stroke-width="1.2" opacity="1.0"/>
<line x1="1846.04" y1="854.45" x2="1849.04" y2="851.45" stroke="#000" stroke-width="1.2" opacity="1.0"/>
<line x1="1848.35" y1="856.86" x2="1851.35" y2="853.86" stroke="#000" stroke-width="1.2" opacity="1.0"/>
<line x1="1825.81" y1="869.54" x2="1828.81" y2="866.54" stroke="#000" stroke-width="1.2" opacity="1.0"/>
<line x1="1841.75" y1="863.33" x2="1844.75" y2="860.33" stroke="#000" stroke-width="1.2" opacity="1.0"/>
<line x1="1821.68" y1="863.11" x2="1824.68" y2="860.11" stroke="#000" stroke-width="1.2" opacity="1.0"/>
<line x1="1834.27" y1="864.74" x2="1837.27" y2="861.74" stroke="#000" stroke-width="1.2" opacity="1.0"/>
<line x1="1871.4" y1="853.29" x2="1874.4" y2="850.29" stroke="#000" stroke-width="1.2" opacity="1.0"/>
<line x1="1837.58" y1="812.21" x2="1840.58" y2="809.21" stroke="#000" stroke-width="1.2" opacity="1.0"/>
<line x1="1831.93" y1="867.84" x2="1834.93" y2="864.84" stroke="#000" stroke-width="1.2" opacity="1.0"/>
<line x1="1829.88" y1="852.57" x2="1832.88" y2="849.57" stroke="#000" stroke-width="1.2" opacity="1.0"/>
<line x1="1857.5" y1="852.69" x2="1860.5" y2="849.69" stroke="#000" stroke-width="1.2" opacity="1.0"/>
<line x1="1831.33" y1="820.53" x2="1834.33" y2="817.53" stroke="#000" stroke-width="1.2" opacity="1.0"/>
<line x1="1825.95" y1="872.67" x2="1828.95" y2="869.67" stroke="#000" stroke-width="1.2" opacity="1.0"/>
<line x1="1844.37" y1="852.14" x2="1847.37" y2="849.14" stroke="#000" stroke-width="1.2" opacity="1.0"/>
<line x1="1856.38" y1="825.48" x2="1859.38" y2="822.48" stroke="#000" stroke-width="1.2" opacity="1.0"/>
<line x1="1823.87" y1="812.52" x2="1826.87" y2="809.52" stroke="#000" stroke-width="1.2" opacity="1.0"/>
<line x1="1874.6" y1="819.68" x2="1877.6" y2="816.68" stroke="#000" stroke-width="1.2" opacity="1.0"/>
<line x1="1881.72" y1="834.2" x2="1884.72" y2="831.2" stroke="#000" stroke-width="1.2" opacity="1.0"/>
<line x1="1866.24" y1="820.2" x2="1869.24" y2="817.2" stroke="#000" stroke-width="1.2" opacity="1.0"/>
<line x1="1870.45" y1="827.24" x2="1873.45" y2="824.24" stroke="#000" stroke-width="1.2" opacity="1.0"/>
<line x1="1843.29" y1="844.11" x2="1846.29" y2="841.11" stroke="#000" stroke-width="1.2" opacity="1.0"/>
<line x1="1826.88" y1="827.03" x2="1829.88" y2="824.03" stroke="#000" stroke-width="1.2" opacity="1.0"/>
<line x1="1870.96" y1="829.33" x2="1873.96" y2="826.33" stroke="#000" stroke-width="1.2" opacity="1.0"/>
<line x1="1844.22" y1="859.13" x2="1847.22" y2="856.13" stroke="#000" stroke-width="1.2" opacity="1.0"/>
<line x1="1834.12" y1="823.65" x2="1837.12" y2="820.65" stroke="#000" stroke-width="1.2" opacity="1.0"/>
<line x1="1833.8" y1="835.48" x2="1836.8" y2="832.48" stroke="#000" stroke-width="1.2" opacity="1.0"/>
<line x1="1843.23" y1="851.46" x2="1846.23" y2="848.46" stroke="#000" stroke-width="1.2" opacity="1.0"/>
<line x1="1850.08" y1="865.65" x2="1853.08" y2="862.65" stroke="#000" stroke-width="1.2" opacity="1.0"/>
<rect x="1819.7" y="822.5" width="21.9" height="21" fill="#000" stroke="none" stroke-width="0"/>
<line x1="1820.66" y1="837.45" x2="1823.66" y2="834.45" stroke="#fff" stroke-width="0.96" opacity="0.75"/>
<line x1="1835.51" y1="829.73" x2="1838.51" y2="826.73" stroke="#fff" stroke-width="0.96" opacity="0.75"/>
<line x1="1820.26" y1="833.39" x2="1823.26" y2="830.39" stroke="#fff" stroke-width="0.96" opacity="0.75"/>
<line x1="1821.89" y1="833.78" x2="1824.89" y2="830.78" stroke="#fff" stroke-width="0.96" opacity="0.75"/>
<line x1="1833.15" y1="827.19" x2="1836.15" y2="824.19" stroke="#fff" stroke-width="0.96" opacity="0.75"/>
<line x1="1821.93" y1="834.13" x2="1824.93" y2="831.13" stroke="#fff" stroke-width="0.96" opacity="0.75"/>
<line x1="1822.99" y1="829.65" x2="1825.99" y2="826.65" stroke="#fff" stroke-width="0.96" opacity="0.75"/>
<line x1="1828.02" y1="827.63" x2="1831.02" y2="824.63" stroke="#fff" stroke-width="0.96" opacity="0.75"/>
<line x1="1820.98" y1="832" x2="1823.98" y2="829" stroke="#fff" stroke-width="0.96" opacity="0.75"/>
<line x1="1828.57" y1="842.36" x2="1831.57" y2="839.36" stroke="#fff" stroke-width="0.96" opacity="0.75"/>
<line x1="1830.19" y1="826.79" x2="1833.19" y2="823.79" stroke="#fff" stroke-width="0.96" opacity="0.75"/>
<line x1="1823.9" y1="838.9" x2="1826.9" y2="835.9" stroke="#fff" stroke-width="0.96" opacity="0.75"/>
<line x1="1830.34" y1="841.16" x2="1833.34" y2="838.16" stroke="#fff" stroke-width="0.96" opacity="0.75"/>
<line x1="1837.89" y1="840.94" x2="1840.89" y2="837.94" stroke="#fff" stroke-width="0.96" opacity="0.75"/>
<line x1="1821.78" y1="842.49" x2="1824.78" y2="839.49" stroke="#fff" stroke-width="0.96" opacity="0.75"/>
<line x1="1829.62" y1="829.82" x2="1832.62" y2="826.82" stroke="#fff" stroke-width="0.96" opacity="0.75"/>
<line x1="1822.93" y1="841.06" x2="1825.93" y2="838.06" stroke="#fff" stroke-width="0.96" opacity="0.75"/>
<line x1="1823.71" y1="827" x2="1826.71" y2="824" stroke="#fff" stroke-width="0.96" opacity="0.75"/>
<line x1="1824.71" y1="842.13" x2="1827.71" y2="839.13" stroke="#fff" stroke-width="0.96" opacity="0.75"/>
<line x1="1828.41" y1="838.66" x2="1831.41" y2="835.66" stroke="#fff" stroke-width="0.96" opacity="0.75"/>
<line x1="1821.11" y1="833.65" x2="1824.11" y2="830.65" stroke="#fff" stroke-width="0.96" opacity="0.75"/>
<line x1="1825.71" y1="829.2" x2="1828.71" y2="826.2" stroke="#fff" stroke-width="0.96" opacity="0.75"/>
<line x1="1832.23" y1="832" x2="1835.23" y2="829" stroke="#fff" stroke-width="0.96" opacity="0.75"/>
<line x1="1821.96" y1="843.22" x2="1824.96" y2="840.22" stroke="#fff" stroke-width="0.96" opacity="0.75"/>
<line x1="1828.8" y1="828.74" x2="1831.8" y2="825.74" stroke="#fff" stroke-width="0.96" opacity="0.75"/>
<line x1="1819.91" y1="837.25" x2="1822.91" y2="834.25" stroke="#fff" stroke-width="0.96" opacity="0.75"/>
<line x1="1829.43" y1="825.94" x2="1832.43" y2="822.94" stroke="#fff" stroke-width="0.96" opacity="0.75"/>
<rect x="1853.2" y="822.5" width="17.8" height="21" fill="#000" stroke="none" stroke-width="0"/>
<line x1="1860.16" y1="838.83" x2="1863.16" y2="835.83" stroke="#fff" stroke-width="0.96" opacity="0.75"/>
<line x1="1861.15" y1="829.71" x2="1864.15" y2="826.71" stroke="#fff" stroke-width="0.96" opacity="0.75"/>
<line x1="1860.59" y1="836.39" x2="1863.59" y2="833.39" stroke="#fff" stroke-width="0.96" opacity="0.75"/>
<line x1="1847.97" y1="829.03" x2="1850.97" y2="826.03" stroke="#000" stroke-width="1.2" opacity="1.0"/>
<line x1="1848.94" y1="841.64" x2="1851.94" y2="838.64" stroke="#000" stroke-width="1.2" opacity="1.0"/>
<line x1="1848.54" y1="840.25" x2="1851.54" y2="837.25" stroke="#000" stroke-width="1.2" opacity="1.0"/>
<line x1="1846.15" y1="840.97" x2="1849.15" y2="837.97" stroke="#000" stroke-width="1.2" opacity="1.0"/>
<line x1="1844.96" y1="830.32" x2="1847.96" y2="827.32" stroke="#000" stroke-width="1.2" opacity="1.0"/>
<line x1="1847.63" y1="840.95" x2="1850.63" y2="837.95" stroke="#000" stroke-width="1.2" opacity="1.0"/>
<line x1="1844.32" y1="830.17" x2="1847.32" y2="827.17" stroke="#000" stroke-width="1.2" opacity="1.0"/>
<line x1="1844.03" y1="833.66" x2="1847.03" y2="830.66" stroke="#000" stroke-width="1.2" opacity="1.0"/>
<line x1="1844.7" y1="829.77" x2="1847.7" y2="826.77" stroke="#000" stroke-width="1.2" opacity="1.0"/>
<line x1="1848.59" y1="835.94" x2="1851.59" y2="832.94" stroke="#000" stroke-width="1.2" opacity="1.0"/>
<line x1="1849.81" y1="833.08" x2="1852.81" y2="830.08" stroke="#000" stroke-width="1.2" opacity="1.0"/>
<line x1="1848.15" y1="826.95" x2="1851.15" y2="823.95" stroke="#000" stroke-width="1.2" opacity="1.0"/>
<line x1="1849.87" y1="830.42" x2="1852.87" y2="827.42" stroke="#000" stroke-width="1.2" opacity="1.0"/>
<line x1="1846.85" y1="834.81" x2="1849.85" y2="831.81" stroke="#000" stroke-width="1.2" opacity="1.0"/>
<line x1="1849.87" y1="834.5" x2="1852.87" y2="831.5" stroke="#000" stroke-width="1.2" opacity="1.0"/>
<line x1="1850.15" y1="836.53" x2="1853.15" y2="833.53" stroke="#000" stroke-width="1.2" opacity="1.0"/>
<line x1="1845.18" y1="839.88" x2="1848.18" y2="836.88" stroke="#000" stroke-width="1.2" opacity="1.0"/>
<line x1="1845.09" y1="842.49" x2="1848.09" y2="839.49" stroke="#000" stroke-width="1.2" opacity="1.0"/>
<line x1="1846.72" y1="830.31" x2="1849.72" y2="827.31" stroke="#000" stroke-width="1.2" opacity="1.0"/>
<line x1="1849.95" y1="831.82" x2="1852.95" y2="828.82" stroke="#000" stroke-width="1.2" opacity="1.0"/>
<line x1="1846.4" y1="832.15" x2="1849.4" y2="829.15" stroke="#000" stroke-width="1.2" opacity="1.0"/>
<line x1="1848.08" y1="827.11" x2="1851.08" y2="824.11" stroke="#000" stroke-width="1.2" opacity="1.0"/>
<line x1="1846.19" y1="829.3" x2="1849.19" y2="826.3" stroke="#000" stroke-width="1.2" opacity="1.0"/>
<line x1="1849.1" y1="826.75" x2="1852.1" y2="823.75" stroke="#000" stroke-width="1.2" opacity="1.0"/>
<line x1="1847.69" y1="830.81" x2="1850.69" y2="827.81" stroke="#000" stroke-width="1.2" opacity="1.0"/>
<line x1="1846.71" y1="835.6" x2="1849.71" y2="832.6" stroke="#000" stroke-width="1.2" opacity="1.0"/>
<line x1="1848.36" y1="828.92" x2="1851.36" y2="825.92" stroke="#000" stroke-width="1.2" opacity="1.0"/>
<rect x="1874" y="823.75" width="8.5" height="18.75" fill="#000" stroke="none" stroke-width="0"/>
<line x1="1875.32" y1="828.65" x2="1878.32" y2="825.65" stroke="#fff" stroke-width="0.96" opacity="0.75"/>
<line x1="1879.28" y1="829.1" x2="1882.28" y2="826.1" stroke="#fff" stroke-width="0.96" opacity="0.75"/>
<line x1="1874.75" y1="834.97" x2="1877.75" y2="831.97" stroke="#fff" stroke-width="0.96" opacity="0.75"/>
<line x1="1877.2" y1="840.71" x2="1880.2" y2="837.71" stroke="#fff" stroke-width="0.96" opacity="0.75"/>
<line x1="1874.31" y1="830.44" x2="1877.31" y2="827.44" stroke="#fff" stroke-width="0.96" opacity="0.75"/>
<line x1="1874.92" y1="835.97" x2="1877.92" y2="832.97" stroke="#fff" stroke-width="0.96" opacity="0.75"/>
<line x1="1876.49" y1="833.19" x2="1879.49" y2="830.19" stroke="#fff" stroke-width="0.96" opacity="0.75"/>
<line x1="1878.89" y1="837.17" x2="1881.89" y2="834.17" stroke="#fff" stroke-width="0.96" opacity="0.75"/>
<line x1="1878.73" y1="841.82" x2="1881.73" y2="838.82" stroke="#fff" stroke-width="0.96" opacity="0.75"/>
<line x1="1875.48" y1="841.59" x2="1878.48" y2="838.59" stroke="#fff" stroke-width="0.96" opacity="0.75"/>
<line x1="1876.24" y1="827.56" x2="1879.24" y2="824.56" stroke="#fff" stroke-width="0.96" opacity="0.75"/>
<line x1="1879.03" y1="828.39" x2="1882.03" y2="825.39" stroke="#fff" stroke-width="0.96" opacity="0.75"/>
<rect x="1819.7" y="855" width="19.3" height="18.75" fill="#000" stroke="none" stroke-width="0"/>
<line x1="1819.99" y1="862.56" x2="1822.99" y2="859.56" stroke="#fff" stroke-width="0.96" opacity="0.75"/>
<line x1="1824.41" y1="873.23" x2="1827.41" y2="870.23" stroke="#fff" stroke-width="0.96" opacity="0.75"/>
<line x1="1833.89" y1="864.62" x2="1836.89" y2="861.62" stroke="#fff" stroke-width="0.96" opacity="0.75"/>
<line x1="1828.33" y1="871.37" x2="1831.33" y2="868.37" stroke="#fff" stroke-width="0.96" opacity="0.75"/>
<line x1="1832.85" y1="868.29" x2="1835.85" y2="865.29" stroke="#fff" stroke-width="0.96" opacity="0.75"/>
<line x1="1828.06" y1="859.84" x2="1831.06" y2="856.84" stroke="#fff" stroke-width="0.96" opacity="0.75"/>
<line x1="1823.67" y1="868.37" x2="1826.67" y2="865.37" stroke="#fff" stroke-width="0.96" opacity="0.75"/>
<line x1="1829.26" y1="870.62" x2="1832.26" y2="867.62" stroke="#fff" stroke-width="0.96" opacity="0.75"/>
<line x1="1834.35" y1="873.16" x2="1837.35" y2="870.16" stroke="#fff" stroke-width="0.96" opacity="0.75"/>
<line x1="1822.84" y1="859.2" x2="1825.84" y2="856.2" stroke="#fff" stroke-width="0.96" opacity="0.75"/>
<line x1="1834.33" y1="866.98" x2="1837.33" y2="863.98" stroke="#fff" stroke-width="0.96" opacity="0.75"/>
<line x1="1822.66" y1="868.9" x2="1825.66" y2="865.9" stroke="#fff" stroke-width="0.96" opacity="0.75"/>
<line x1="1823.87" y1="861.73" x2="1826.87" y2="858.73" stroke="#fff" stroke-width="0.96" opacity="0.75"/>
<line x1="1825.67" y1="866.25" x2="1828.67" y2="863.25" stroke="#fff" stroke-width="0.96" opacity="0.75"/>
<line x1="1830.74" y1="859.16" x2="1833.74" y2="856.16" stroke="#fff" stroke-width="0.96" opacity="0.75"/>
<line x1="1831.78" y1="867.83" x2="1834.78" y2="864.83" stroke="#fff" stroke-width="0.96" opacity="0.75"/>
<line x1="1827.39" y1="868.59" x2="1830.39" y2="865.59" stroke="#fff" stroke-width="0.96" opacity="0.75"/>
<line x1="1832.73" y1="858.15" x2="1835.73" y2="855.15" stroke="#fff" stroke-width="0.96" opacity="0.75"/>
<line x1="1827.45" y1="868.68" x2="1830.45" y2="865.68" stroke="#fff" stroke-width="0.96" opacity="0.75"/>
<rect x="1851" y="857" width="15.6" height="16.75" fill="#000" stroke="none" stroke-width="0"/>
<line x1="1859.93" y1="868.9" x2="1862.93" y2="865.9" stroke="#fff" stroke-width="0.96" opacity="0.75"/>
<line x1="1853.27" y1="873.18" x2="1856.27" y2="870.18" stroke="#fff" stroke-width="0.96" opacity="0.75"/>
<line x1="1860.9" y1="863.2" x2="1863.9" y2="860.2" stroke="#fff" stroke-width="0.96" opacity="0.75"/>
<line x1="1856.43" y1="873.17" x2="1859.43" y2="870.17" stroke="#fff" stroke-width="0.96" opacity="0.75"/>
<line x1="1853.61" y1="865.63" x2="1856.61" y2="862.63" stroke="#fff" stroke-width="0.96" opacity="0.75"/>
<line x1="1863.12" y1="872.38" x2="1866.12" y2="869.38" stroke="#fff" stroke-width="0.96" opacity="0.75"/>
<line x1="1853.93" y1="870.11" x2="1856.93" y2="867.11" stroke="#fff" stroke-width="0.96" opacity="0.75"/>
<line x1="1855.53" y1="869.12" x2="1858.53" y2="866.12" stroke="#fff" stroke-width="0.96" opacity="0.75"/>
<line x1="1860.66" y1="861.75" x2="1863.66" y2="858.75" stroke="#fff" stroke-width="0.96" opacity="0.75"/>
<line x1="1853.8" y1="862.96" x2="1856.8" y2="859.96" stroke="#fff" stroke-width="0.96" opacity="0.75"/>
<line x1="1854.35" y1="860.49" x2="1857.35" y2="857.49" stroke="#fff" stroke-width="0.96" opacity="0.75"/>
<line x1="1852.71" y1="865.58" x2="1855.71" y2="862.58" stroke="#fff" stroke-width="0.96" opacity="0.75"/>
<line x1="1856.3" y1="861.07" x2="1859.3" y2="858.07" stroke="#fff" stroke-width="0.96" opacity="0.75"/>
<line x1="1858.34" y1="872.96" x2="1861.34" y2="869.96" stroke="#fff" stroke-width="0.96" opacity="0.75"/>
<line x1="1858.27" y1="864.89" x2="1861.27" y2="861.89" stroke="#fff" stroke-width="0.96" opacity="0.75"/>
<line x1="1859.88" y1="866.01" x2="1862.88" y2="863.01" stroke="#fff" stroke-width="0.96" opacity="0.75"/>
<line x1="1853.21" y1="866.62" x2="1856.21" y2="863.62" stroke="#fff" stroke-width="0.96" opacity="0.75"/>
<line x1="1851.22" y1="869.29" x2="1854.22" y2="866.29" stroke="#fff" stroke-width="0.96" opacity="0.75"/>
<line x1="1853.03" y1="865.08" x2="1856.03" y2="862.08" stroke="#fff" stroke-width="0.96" opacity="0.75"/>
<line x1="1863.13" y1="870.54" x2="1866.13" y2="867.54" stroke="#fff" stroke-width="0.96" opacity="0.75"/>
<line x1="1846.47" y1="868.11" x2="1849.47" y2="865.11" stroke="#000" stroke-width="1.2" opacity="1.0"/>
<line x1="1845.83" y1="869.1" x2="1848.83" y2="866.1" stroke="#000" stroke-width="1.2" opacity="1.0"/>
<line x1="1846.89" y1="861.09" x2="1849.89" y2="858.09" stroke="#000" stroke-width="1.2" opacity="1.0"/>
<line x1="1846.25" y1="862.74" x2="1849.25" y2="859.74" stroke="#000" stroke-width="1.2" opacity="1.0"/>
<line x1="1844.62" y1="870.94" x2="1847.62" y2="867.94" stroke="#000" stroke-width="1.2" opacity="1.0"/>
<line x1="1845.72" y1="871.38" x2="1848.72" y2="868.38" stroke="#000" stroke-width="1.2" opacity="1.0"/>
<line x1="1846.6" y1="867.27" x2="1849.6" y2="864.27" stroke="#000" stroke-width="1.2" opacity="1.0"/>
<line x1="1844.43" y1="858.24" x2="1847.43" y2="855.24" stroke="#000" stroke-width="1.2" opacity="1.0"/>
<line x1="1845.51" y1="869.43" x2="1848.51" y2="866.43" stroke="#000" stroke-width="1.2" opacity="1.0"/>
<line x1="1844.67" y1="859.1" x2="1847.67" y2="856.1" stroke="#000" stroke-width="1.2" opacity="1.0"/>
<line x1="1843.82" y1="860.73" x2="1846.82" y2="857.73" stroke="#000" stroke-width="1.2" opacity="1.0"/>
<line x1="1877.83" y1="858.06" x2="1880.83" y2="855.06" stroke="#000" stroke-width="1.2" opacity="1.0"/>
<line x1="1875.26" y1="862.18" x2="1878.26" y2="859.18" stroke="#000" stroke-width="1.2" opacity="1.0"/>
<line x1="1877.91" y1="873.55" x2="1880.91" y2="870.55" stroke="#000" stroke-width="1.2" opacity="1.0"/>
<line x1="1874.11" y1="859.8" x2="1877.11" y2="856.8" stroke="#000" stroke-width="1.2" opacity="1.0"/>
<line x1="1879.14" y1="873.28" x2="1882.14" y2="870.28" stroke="#000" stroke-width="1.2" opacity="1.0"/>
<line x1="1874.82" y1="863.28" x2="1877.82" y2="860.28" stroke="#000" stroke-width="1.2" opacity="1.0"/>
<line x1="1876.87" y1="863.04" x2="1879.87" y2="860.04" stroke="#000" stroke-width="1.2" opacity="1.0"/>
<line x1="1876.3" y1="865.54" x2="1879.3" y2="862.54" stroke="#000" stroke-width="1.2" opacity="1.0"/>
<line x1="1875.42" y1="858.87" x2="1878.42" y2="855.87" stroke="#000" stroke-width="1.2" opacity="1.0"/>
<line x1="1874.46" y1="860.56" x2="1877.46" y2="857.56" stroke="#000" stroke-width="1.2" opacity="1.0"/>
<line x1="1874.5" y1="867.83" x2="1877.5" y2="864.83" stroke="#000" stroke-width="1.2" opacity="1.0"/>
<line x1="1877.83" y1="862.14" x2="1880.83" y2="859.14" stroke="#000" stroke-width="1.2" opacity="1.0"/>
<line x1="1878.35" y1="869.48" x2="1881.35" y2="866.48" stroke="#000" stroke-width="1.2" opacity="1.0"/>
<line x1="1875.88" y1="865.75" x2="1878.88" y2="862.75" stroke="#000" stroke-width="1.2" opacity="1.0"/>
<line x1="1875.04" y1="872.63" x2="1878.04" y2="869.63" stroke="#000" stroke-width="1.2" opacity="1.0"/>
<line x1="1877.08" y1="858.81" x2="1880.08" y2="855.81" stroke="#000" stroke-width="1.2" opacity="1.0"/>
<line x1="1874.85" y1="868.91" x2="1877.85" y2="865.91" stroke="#000" stroke-width="1.2" opacity="1.0"/>
<line x1="1876.12" y1="869.29" x2="1879.12" y2="866.29" stroke="#000" stroke-width="1.2" opacity="1.0"/>
<line x1="1852" y1="861" x2="1866.6" y2="861" stroke="#000" stroke-width="1.5" stroke-linecap="butt"/>
<line x1="1852" y1="866" x2="1866.6" y2="866" stroke="#000" stroke-width="1.5" stroke-linecap="butt"/>
<line x1="1852" y1="871" x2="1866.6" y2="871" stroke="#000" stroke-width="1.5" stroke-linecap="butt"/>
<line x1="1826.19" y1="818.89" x2="1829.19" y2="815.89" stroke="#000" stroke-width="1.2" opacity="1.0"/>
<line x1="1842.4" y1="816.78" x2="1845.4" y2="813.78" stroke="#000" stroke-width="1.2" opacity="1.0"/>
<line x1="1836.29" y1="817.07" x2="1839.29" y2="814.07" stroke="#000" stroke-width="1.2" opacity="1.0"/>
<line x1="1839.73" y1="818.91" x2="1842.73" y2="815.91" stroke="#000" stroke-width="1.2" opacity="1.0"/>
<line x1="1842.09" y1="817.19" x2="1845.09" y2="814.19" stroke="#000" stroke-width="1.2" opacity="1.0"/>
<line x1="1822.34" y1="818.49" x2="1825.34" y2="815.49" stroke="#000" stroke-width="1.2" opacity="1.0"/>
<line x1="1835.69" y1="816.91" x2="1838.69" y2="813.91" stroke="#000" stroke-width="1.2" opacity="1.0"/>
<line x1="1825.15" y1="818.25" x2="1828.15" y2="815.25" stroke="#000" stroke-width="1.2" opacity="1.0"/>
<line x1="1822.75" y1="818.4" x2="1825.75" y2="815.4" stroke="#000" stroke-width="1.2" opacity="1.0"/>
<line x1="1826.52" y1="817.28" x2="1829.52" y2="814.28" stroke="#000" stroke-width="1.2" opacity="1.0"/>
<line x1="1831.68" y1="818.1" x2="1834.68" y2="815.1" stroke="#000" stroke-width="1.2" opacity="1.0"/>
<line x1="1840.2" y1="816.59" x2="1843.2" y2="813.59" stroke="#000" stroke-width="1.2" opacity="1.0"/>
<line x1="1840.2" y1="817.16" x2="1843.2" y2="814.16" stroke="#000" stroke-width="1.2" opacity="1.0"/>
<line x1="1827.93" y1="818.42" x2="1830.93" y2="815.42" stroke="#000" stroke-width="1.2" opacity="1.0"/>
<line x1="1839.26" y1="818.34" x2="1842.26" y2="815.34" stroke="#000" stroke-width="1.2" opacity="1.0"/>
<line x1="1845.22" y1="817.11" x2="1848.22" y2="814.11" stroke="#000" stroke-width="1.2" opacity="1.0"/>
<line x1="1828.51" y1="818.49" x2="1831.51" y2="815.49" stroke="#000" stroke-width="1.2" opacity="1.0"/>
<line x1="1827.08" y1="816.97" x2="1830.08" y2="813.97" stroke="#000" stroke-width="1.2" opacity="1.0"/>
<line x1="1826.1" y1="818.81" x2="1829.1" y2="815.81" stroke="#000" stroke-width="1.2" opacity="1.0"/>
<line x1="1843.1" y1="818.65" x2="1846.1" y2="815.65" stroke="#000" stroke-width="1.2" opacity="1.0"/>
<line x1="1846.83" y1="818.88" x2="1849.83" y2="815.88" stroke="#000" stroke-width="1.2" opacity="1.0"/>
<line x1="1828.46" y1="817.45" x2="1831.46" y2="814.45" stroke="#000" stroke-width="1.2" opacity="1.0"/>
<line x1="1840.11" y1="816.67" x2="1843.11" y2="813.67" stroke="#000" stroke-width="1.2" opacity="1.0"/>
<line x1="1836.94" y1="816.77" x2="1839.94" y2="813.77" stroke="#000" stroke-width="1.2" opacity="1.0"/>
<line x1="1821.09" y1="818.04" x2="1824.09" y2="815.04" stroke="#000" stroke-width="1.2" opacity="1.0"/>
<line x1="1847.46" y1="849.49" x2="1850.46" y2="846.49" stroke="#000" stroke-width="1.2" opacity="1.0"/>
<line x1="1865.03" y1="848.74" x2="1868.03" y2="845.74" stroke="#000" stroke-width="1.2" opacity="1.0"/>
<line x1="1848.58" y1="848.19" x2="1851.58" y2="845.19" stroke="#000" stroke-width="1.2" opacity="1.0"/>
<line x1="1856.06" y1="848.83" x2="1859.06" y2="845.83" stroke="#000" stroke-width="1.2" opacity="1.0"/>
<line x1="1852.58" y1="849.15" x2="1855.58" y2="846.15" stroke="#000" stroke-width="1.2" opacity="1.0"/>
<line x1="1856.61" y1="849.24" x2="1859.61" y2="846.24" stroke="#000" stroke-width="1.2" opacity="1.0"/>
<line x1="1846.37" y1="848.11" x2="1849.37" y2="845.11" stroke="#000" stroke-width="1.2" opacity="1.0"/>
<line x1="1853.17" y1="848.77" x2="1856.17" y2="845.77" stroke="#000" stroke-width="1.2" opacity="1.0"/>
<line x1="1849.91" y1="849.07" x2="1852.91" y2="846.07" stroke="#000" stroke-width="1.2" opacity="1.0"/>
<line x1="1849.17" y1="848.51" x2="1852.17" y2="845.51" stroke="#000" stroke-width="1.2" opacity="1.0"/>
<line x1="1855.34" y1="849.14" x2="1858.34" y2="846.14" stroke="#000" stroke-width="1.2" opacity="1.0"/>
<line x1="1862.44" y1="848.59" x2="1865.44" y2="845.59" stroke="#000" stroke-width="1.2" opacity="1.0"/>
<line x1="1854.61" y1="849.48" x2="1857.61" y2="846.48" stroke="#000" stroke-width="1.2" opacity="1.0"/>
<line x1="1866.4" y1="848.99" x2="1869.4" y2="845.99" stroke="#000" stroke-width="1.2" opacity="1.0"/>
<line x1="1846.34" y1="848.73" x2="1849.34" y2="845.73" stroke="#000" stroke-width="1.2" opacity="1.0"/>
<line x1="1859.21" y1="848.45" x2="1862.21" y2="845.45" stroke="#000" stroke-width="1.2" opacity="1.0"/>
<line x1="1844.7" y1="849.57" x2="1847.7" y2="846.57" stroke="#000" stroke-width="1.2" opacity="1.0"/>
<line x1="1836" y1="860" x2="1866" y2="830" stroke="#000" stroke-width="2.5" stroke-linecap="butt"/>
<line x1="1866" y1="830" x2="1884" y2="812" stroke="#000" stroke-width="3.5" stroke-linecap="butt"/>
<line x1="1791.4" y1="823.8" x2="1791.4" y2="839" stroke="#000" stroke-width="1.5" stroke-linecap="butt"/>
<rect x="1790.6" y="861" width="1.6" height="3" fill="#000"/>
<line x1="1814.4" y1="811" x2="1814.4" y2="874" stroke="#000" stroke-width="0.8" stroke-linecap="butt"/>
<line x1="1854" y1="879.3" x2="1866.6" y2="879.3" stroke="#000" stroke-width="1.5" stroke-linecap="butt"/>
<line x1="1892" y1="801" x2="1895" y2="798" stroke="#000" stroke-width="1.2" opacity="1.0"/>
<line x1="1897" y1="797" x2="1900" y2="794" stroke="#000" stroke-width="1.2" opacity="1.0"/>
<line x1="1906" y1="788" x2="1909" y2="785" stroke="#000" stroke-width="1.2" opacity="1.0"/>
<line x1="1900" y1="786" x2="1903" y2="783" stroke="#000" stroke-width="1.2" opacity="1.0"/>
<line x1="1912" y1="796" x2="1915" y2="793" stroke="#000" stroke-width="1.2" opacity="1.0"/>
<line x1="1795" y1="880" x2="1798" y2="877" stroke="#000" stroke-width="1.2" opacity="1.0"/>
<line x1="1801" y1="880" x2="1804" y2="877" stroke="#000" stroke-width="1.2" opacity="1.0"/>
<line x1="1811" y1="870" x2="1814" y2="867" stroke="#000" stroke-width="1.2" opacity="1.0"/>
<line x1="1840" y1="879" x2="1843" y2="876" stroke="#000" stroke-width="1.2" opacity="1.0"/>
<line x1="1845" y1="885" x2="1848" y2="882" stroke="#000" stroke-width="1.2" opacity="1.0"/>
<rect x="1595.7" y="807.2" width="20" height="66.3" fill="#6b6b6b" stroke="none" stroke-width="0"/>
<line x1="1595.7" y1="815" x2="1615.7" y2="815" stroke="#fff" stroke-width="0.9" opacity="0.4"/>
<line x1="1595.7" y1="822" x2="1615.7" y2="822" stroke="#fff" stroke-width="0.9" opacity="0.3"/>
<line x1="1595.7" y1="838" x2="1615.7" y2="838" stroke="#fff" stroke-width="0.9" opacity="0.5"/>
<line x1="1595.7" y1="845" x2="1615.7" y2="845" stroke="#fff" stroke-width="0.9" opacity="0.4"/>
<line x1="1595.7" y1="850" x2="1615.7" y2="850" stroke="#fff" stroke-width="0.9" opacity="0.6"/>
<line x1="1595.7" y1="858" x2="1615.7" y2="858" stroke="#fff" stroke-width="0.9" opacity="0.3"/>
<line x1="1595.7" y1="865" x2="1615.7" y2="865" stroke="#fff" stroke-width="0.9" opacity="0.5"/>
<line x1="1595.7" y1="787" x2="1615.7" y2="787" stroke="#888" stroke-width="1.2" stroke-linecap="butt"/>
<line x1="1595.7" y1="790" x2="1615.7" y2="790" stroke="#888" stroke-width="1.2" stroke-linecap="butt"/>
<line x1="1595.7" y1="794" x2="1615.7" y2="794" stroke="#888" stroke-width="1.2" stroke-linecap="butt"/>
<line x1="1595.7" y1="878" x2="1615.7" y2="878" stroke="#888" stroke-width="1.2" stroke-linecap="butt"/>
<line x1="1595.7" y1="883" x2="1615.7" y2="883" stroke="#888" stroke-width="1.2" stroke-linecap="butt"/>
<line x1="1595.7" y1="887" x2="1615.7" y2="887" stroke="#888" stroke-width="1.2" stroke-linecap="butt"/>
<line x1="1595.7" y1="890" x2="1615.7" y2="890" stroke="#888" stroke-width="1.2" stroke-linecap="butt"/>
<line x1="1595.7" y1="902.5" x2="1615.7" y2="902.5" stroke="#999" stroke-width="1.2" stroke-linecap="butt"/>
<rect x="1819.8" y="1075.2" width="68.3" height="17.3" fill="#6b6b6b" stroke="none" stroke-width="0"/>
<line x1="1826" y1="1075.2" x2="1826" y2="1092.5" stroke="#fff" stroke-width="0.9" opacity="0.4"/>
<line x1="1834" y1="1075.2" x2="1834" y2="1092.5" stroke="#fff" stroke-width="0.9" opacity="0.5"/>
<line x1="1840" y1="1075.2" x2="1840" y2="1092.5" stroke="#fff" stroke-width="0.9" opacity="0.3"/>
<line x1="1846" y1="1075.2" x2="1846" y2="1092.5" stroke="#fff" stroke-width="0.9" opacity="0.5"/>
<line x1="1852" y1="1075.2" x2="1852" y2="1092.5" stroke="#fff" stroke-width="0.9" opacity="0.4"/>
<line x1="1864" y1="1075.2" x2="1864" y2="1092.5" stroke="#fff" stroke-width="0.9" opacity="0.3"/>
<line x1="1790.5" y1="1075.2" x2="1790.5" y2="1092.5" stroke="#888" stroke-width="1" stroke-linecap="butt"/>
<line x1="1803" y1="1075.2" x2="1803" y2="1092.5" stroke="#888" stroke-width="1" stroke-linecap="butt"/>
<line x1="1805" y1="1075.2" x2="1805" y2="1092.5" stroke="#888" stroke-width="1" stroke-linecap="butt"/>
<line x1="1807" y1="1075.2" x2="1807" y2="1092.5" stroke="#888" stroke-width="1" stroke-linecap="butt"/>
<line x1="1809" y1="1075.2" x2="1809" y2="1092.5" stroke="#888" stroke-width="1" stroke-linecap="butt"/>
<line x1="1811" y1="1075.2" x2="1811" y2="1092.5" stroke="#888" stroke-width="1" stroke-linecap="butt"/>
<line x1="1813.5" y1="1075.2" x2="1813.5" y2="1092.5" stroke="#888" stroke-width="1" stroke-linecap="butt"/>
<line x1="1893" y1="1075.2" x2="1893" y2="1092.5" stroke="#888" stroke-width="1" stroke-linecap="butt"/>
<line x1="1903" y1="1075.2" x2="1903" y2="1092.5" stroke="#888" stroke-width="1" stroke-linecap="butt"/>
<line x1="1908" y1="1075.2" x2="1908" y2="1092.5" stroke="#888" stroke-width="1" stroke-linecap="butt"/>
<line x1="1568.7" y1="588.3" x2="1568.7" y2="1101.2" stroke="#000" stroke-width="1.4" stroke-linecap="butt"/>
<line x1="1568" y1="1100.5" x2="2109.1" y2="1100.5" stroke="#000" stroke-width="1.4" stroke-linecap="butt"/>
<line x1="1557.7" y1="1072.4" x2="1568.7" y2="1072.4" stroke="#000" stroke-width="1.4" stroke-linecap="butt"/>
<text x="1548.2" y="1081.4" font-size="26.5" text-anchor="end">1.0</text>
<line x1="1557.7" y1="918.6" x2="1568.7" y2="918.6" stroke="#000" stroke-width="1.4" stroke-linecap="butt"/>
<text x="1548.2" y="927.6" font-size="26.5" text-anchor="end">1.5</text>
<line x1="1557.7" y1="764.8" x2="1568.7" y2="764.8" stroke="#000" stroke-width="1.4" stroke-linecap="butt"/>
<text x="1548.2" y="773.8" font-size="26.5" text-anchor="end">2.0</text>
<line x1="1557.7" y1="611" x2="1568.7" y2="611" stroke="#000" stroke-width="1.4" stroke-linecap="butt"/>
<text x="1548.2" y="620" font-size="26.5" text-anchor="end">2.5</text>
<line x1="1619" y1="1100.5" x2="1619" y2="1111.5" stroke="#000" stroke-width="1.4" stroke-linecap="butt"/>
<text x="1619" y="1142.7" font-size="26.5" text-anchor="middle">1.0</text>
<line x1="1774.7" y1="1100.5" x2="1774.7" y2="1111.5" stroke="#000" stroke-width="1.4" stroke-linecap="butt"/>
<text x="1774.7" y="1142.7" font-size="26.5" text-anchor="middle">1.5</text>
<line x1="1930.4" y1="1100.5" x2="1930.4" y2="1111.5" stroke="#000" stroke-width="1.4" stroke-linecap="butt"/>
<text x="1930.4" y="1142.7" font-size="26.5" text-anchor="middle">2.0</text>
<line x1="2086.1" y1="1100.5" x2="2086.1" y2="1111.5" stroke="#000" stroke-width="1.4" stroke-linecap="butt"/>
<text x="2086.1" y="1142.7" font-size="26.5" text-anchor="middle">2.5</text>
<text transform="translate(1482.1,843) rotate(-90)" x="0" y="0" font-size="27.1" text-anchor="middle">Contig position (Mb)</text>
<text x="1838.9" y="1182.9" font-size="27.1" text-anchor="middle">Contig position (Mb)</text>
<text x="1838.9" y="578.2" font-size="27.1" text-anchor="middle"><tspan font-style="italic">P. m. rubidus</tspan>: scaffold_2,641</text>
<text x="-2" y="1270.7" font-size="30" font-weight="bold">c</text>
<rect x="202.5" y="1313.5" width="38.8" height="984.7" fill="#fff" stroke="#a8a8a8" stroke-width="2.8"/>
<rect x="279.79" y="1439.2" width="38.8" height="859" fill="#fff" stroke="#a8a8a8" stroke-width="2.8"/>
<rect x="357.08" y="1477.8" width="38.8" height="820.4" fill="#fff" stroke="#a8a8a8" stroke-width="2.8"/>
<rect x="434.37" y="1510.7" width="38.8" height="787.5" fill="#fff" stroke="#a8a8a8" stroke-width="2.8"/>
<rect x="511.66" y="1588.3" width="38.8" height="709.9" fill="#fff" stroke="#a8a8a8" stroke-width="2.8"/>
<rect x="588.95" y="1611.6" width="38.8" height="686.6" fill="#fff" stroke="#a8a8a8" stroke-width="2.8"/>
<rect x="666.24" y="1689.9" width="38.8" height="608.3" fill="#fff" stroke="#a8a8a8" stroke-width="2.8"/>
<rect x="743.53" y="1745.3" width="38.8" height="552.9" fill="#fff" stroke="#a8a8a8" stroke-width="2.8"/>
<rect x="820.82" y="1712.8" width="38.8" height="585.4" fill="#fff" stroke="#a8a8a8" stroke-width="2.8"/>
<rect x="898.11" y="1794.5" width="38.8" height="503.7" fill="#fff" stroke="#a8a8a8" stroke-width="2.8"/>
<rect x="975.4" y="1817.7" width="38.8" height="480.5" fill="#fff" stroke="#a8a8a8" stroke-width="2.8"/>
<rect x="1052.69" y="1875.7" width="38.8" height="422.5" fill="#fff" stroke="#a8a8a8" stroke-width="2.8"/>
<rect x="1129.98" y="1964.5" width="38.8" height="333.7" fill="#fff" stroke="#a8a8a8" stroke-width="2.8"/>
<rect x="1207.27" y="1848" width="38.8" height="450.2" fill="#fff" stroke="#a8a8a8" stroke-width="2.8"/>
<rect x="1284.56" y="1897.3" width="38.8" height="400.9" fill="#fff" stroke="#a8a8a8" stroke-width="2.8"/>
<rect x="1361.85" y="1973.4" width="38.8" height="324.8" fill="#fff" stroke="#a8a8a8" stroke-width="2.8"/>
<rect x="1439.14" y="1974.6" width="38.8" height="323.6" fill="#fff" stroke="#a8a8a8" stroke-width="2.8"/>
<rect x="1516.43" y="2061" width="38.8" height="237.2" fill="#fff" stroke="#a8a8a8" stroke-width="2.8"/>
<rect x="1593.72" y="1891.5" width="38.8" height="406.7" fill="#fff" stroke="#a8a8a8" stroke-width="2.8"/>
<rect x="1671.01" y="1940.4" width="38.8" height="357.8" fill="#fff" stroke="#a8a8a8" stroke-width="2.8"/>
<rect x="1748.3" y="1941.1" width="38.8" height="357.1" fill="#fff" stroke="#a8a8a8" stroke-width="2.8"/>
<rect x="1825.59" y="2021.1" width="38.8" height="277.1" fill="#fff" stroke="#a8a8a8" stroke-width="2.8"/>
<rect x="1902.88" y="2055.7" width="38.8" height="242.5" fill="#fff" stroke="#a8a8a8" stroke-width="2.8"/>
<line x1="692.7" y1="1527.7" x2="665.9" y2="1870.5" stroke="#b2b2b2" stroke-width="3.7" stroke-dasharray="15.6 15.6" stroke-dashoffset="7.3" style="mix-blend-mode:multiply"/>
<line x1="1422.1" y1="1527.7" x2="705.6" y2="1943.3" stroke="#b2b2b2" stroke-width="3.7" stroke-dasharray="16 16" stroke-dashoffset="8.4" style="mix-blend-mode:multiply"/>
<rect x="357.08" y="1781.9" width="38.8" height="21.1" fill="#fad9a6" stroke="#b0285e" stroke-width="2.8"/>
<rect x="588.95" y="2076.6" width="38.8" height="221.6" fill="#fad9a6" stroke="#f2a431" stroke-width="2.8"/>
<rect x="666.24" y="2078.6" width="38.8" height="219.6" fill="#fad9a6" stroke="#f2a431" stroke-width="2.8"/>
<rect x="666.24" y="2274.7" width="38.8" height="23.5" fill="#f7c477" stroke="#f2a431" stroke-width="2.8"/>
<rect x="666.24" y="1870.7" width="38.8" height="53.3" fill="#f7c477" stroke="#b0285e" stroke-width="2.8"/>
<rect x="666.24" y="1924" width="38.8" height="20.5" fill="#fad9a6" stroke="#b0285e" stroke-width="2.8"/>
<rect x="820.82" y="2043.2" width="38.8" height="5.6" fill="#fad9a6" stroke="#b0285e" stroke-width="2.8"/>
<rect x="820.82" y="2112.7" width="38.8" height="21.3" fill="#fad9a6" stroke="#b0285e" stroke-width="2.8"/>
<rect x="898.11" y="2136.8" width="38.8" height="161.4" fill="#fad9a6" stroke="#f2a431" stroke-width="2.8"/>
<rect x="975.4" y="2210.3" width="38.8" height="87.9" fill="#fad9a6" stroke="#f2a431" stroke-width="2.8"/>
<rect x="1129.98" y="2189.8" width="38.8" height="104.9" fill="#fad9a6" stroke="#b0285e" stroke-width="2.8"/>
<rect x="1207.27" y="2095.8" width="38.8" height="202.4" fill="#fad9a6" stroke="#b0285e" stroke-width="2.8"/>
<rect x="1284.56" y="1897.3" width="38.8" height="124.2" fill="#fad9a6" stroke="#f2a431" stroke-width="2.8"/>
<rect x="1284.56" y="2021.5" width="38.8" height="19.7" fill="#f7c477" stroke="#b0285e" stroke-width="2.8"/>
<rect x="1284.56" y="2091.8" width="38.8" height="206.4" fill="#fad9a6" stroke="#b0285e" stroke-width="2.8"/>
<rect x="1516.43" y="2068.5" width="38.8" height="54.6" fill="#fad9a6" stroke="#b0285e" stroke-width="2.8"/>
<rect x="1593.72" y="2163.7" width="38.8" height="129" fill="#fad9a6" stroke="#f2a431" stroke-width="2.8"/>
<rect x="1671.01" y="2145.6" width="38.8" height="152.6" fill="#fad9a6" stroke="#b0285e" stroke-width="2.8"/>
<rect x="1748.3" y="1941.1" width="38.8" height="154.7" fill="#fad9a6" stroke="#f2a431" stroke-width="2.8"/>
<rect x="1825.59" y="2021.1" width="38.8" height="29.3" fill="#fad9a6" stroke="#b0285e" stroke-width="2.8"/>
<rect x="1902.88" y="2067.3" width="38.8" height="35.3" fill="#fad9a6" stroke="#b0285e" stroke-width="2.8"/>
<circle cx="221.9" cy="2130.7" r="7.2" fill="#000"/>
<circle cx="299.19" cy="2084.4" r="7.2" fill="#000"/>
<circle cx="376.48" cy="2088.5" r="7.2" fill="#000"/>
<circle cx="453.77" cy="2298.2" r="7.2" fill="#000"/>
<circle cx="531.06" cy="2131.5" r="7.2" fill="#000"/>
<circle cx="608.35" cy="2298.2" r="7.2" fill="#000"/>
<circle cx="685.64" cy="2298.2" r="7.2" fill="#000"/>
<circle cx="762.93" cy="2298.2" r="7.2" fill="#000"/>
<circle cx="840.22" cy="2178.4" r="7.2" fill="#000"/>
<circle cx="917.51" cy="2298.2" r="7.2" fill="#000"/>
<circle cx="994.8" cy="2241" r="7.2" fill="#000"/>
<circle cx="1072.09" cy="2298.2" r="7.2" fill="#000"/>
<circle cx="1149.38" cy="2188.4" r="7.2" fill="#000"/>
<circle cx="1226.67" cy="2094.4" r="7.2" fill="#000"/>
<circle cx="1303.96" cy="1895.9" r="7.2" fill="#000"/>
<circle cx="1381.25" cy="2298.2" r="7.2" fill="#000"/>
<circle cx="1458.54" cy="2298.2" r="7.2" fill="#000"/>
<circle cx="1613.12" cy="2298.2" r="7.2" fill="#000"/>
<circle cx="1690.41" cy="2144.2" r="7.2" fill="#000"/>
<circle cx="1767.7" cy="2006.8" r="7.2" fill="#000"/>
<circle cx="1844.99" cy="2245.9" r="7.2" fill="#000"/>
<circle cx="1844.99" cy="2264" r="7.2" fill="#000"/>
<circle cx="1844.99" cy="2298.2" r="7.2" fill="#000"/>
<circle cx="1922.28" cy="2144.6" r="7.2" fill="#000"/>
<text x="720.3" y="1923.8" font-size="29" text-anchor="middle">*</text>
<text x="720.4" y="2304.7" font-size="29" text-anchor="middle">*</text>
<text x="1338.4" y="2049.7" font-size="29" text-anchor="middle">*</text>
<line x1="115.8" y1="1264.2" x2="115.8" y2="2348.9" stroke="#000" stroke-width="1.4" stroke-linecap="butt"/>
<line x1="115.1" y1="2348.2" x2="2028.8" y2="2348.2" stroke="#000" stroke-width="1.4" stroke-linecap="butt"/>
<line x1="103.3" y1="2298.2" x2="115.8" y2="2298.2" stroke="#000" stroke-width="1.4" stroke-linecap="butt"/>
<text x="91.3" y="2307.2" font-size="26.5" text-anchor="end">0</text>
<line x1="103.3" y1="2043.75" x2="115.8" y2="2043.75" stroke="#000" stroke-width="1.4" stroke-linecap="butt"/>
<text x="91.3" y="2052.75" font-size="26.5" text-anchor="end">50</text>
<line x1="103.3" y1="1789.3" x2="115.8" y2="1789.3" stroke="#000" stroke-width="1.4" stroke-linecap="butt"/>
<text x="91.3" y="1798.3" font-size="26.5" text-anchor="end">100</text>
<line x1="103.3" y1="1534.85" x2="115.8" y2="1534.85" stroke="#000" stroke-width="1.4" stroke-linecap="butt"/>
<text x="91.3" y="1543.85" font-size="26.5" text-anchor="end">150</text>
<line x1="103.3" y1="1280.4" x2="115.8" y2="1280.4" stroke="#000" stroke-width="1.4" stroke-linecap="butt"/>
<text x="91.3" y="1289.4" font-size="26.5" text-anchor="end">200</text>
<line x1="221.9" y1="2348.2" x2="221.9" y2="2360.4" stroke="#000" stroke-width="1.4" stroke-linecap="butt"/>
<text x="221.9" y="2392" font-size="26.5" text-anchor="middle">1</text>
<line x1="299.19" y1="2348.2" x2="299.19" y2="2360.4" stroke="#000" stroke-width="1.4" stroke-linecap="butt"/>
<text x="299.19" y="2392" font-size="26.5" text-anchor="middle">2</text>
<line x1="376.48" y1="2348.2" x2="376.48" y2="2360.4" stroke="#000" stroke-width="1.4" stroke-linecap="butt"/>
<text x="376.48" y="2392" font-size="26.5" text-anchor="middle">3</text>
<line x1="453.77" y1="2348.2" x2="453.77" y2="2360.4" stroke="#000" stroke-width="1.4" stroke-linecap="butt"/>
<text x="453.77" y="2392" font-size="26.5" text-anchor="middle">4</text>
<line x1="531.06" y1="2348.2" x2="531.06" y2="2360.4" stroke="#000" stroke-width="1.4" stroke-linecap="butt"/>
<text x="531.06" y="2392" font-size="26.5" text-anchor="middle">5</text>
<line x1="608.35" y1="2348.2" x2="608.35" y2="2360.4" stroke="#000" stroke-width="1.4" stroke-linecap="butt"/>
<text x="608.35" y="2392" font-size="26.5" text-anchor="middle">6</text>
<line x1="685.64" y1="2348.2" x2="685.64" y2="2360.4" stroke="#000" stroke-width="1.4" stroke-linecap="butt"/>
<text x="685.64" y="2392" font-size="26.5" text-anchor="middle">7</text>
<line x1="762.93" y1="2348.2" x2="762.93" y2="2360.4" stroke="#000" stroke-width="1.4" stroke-linecap="butt"/>
<text x="762.93" y="2392" font-size="26.5" text-anchor="middle">8</text>
<line x1="840.22" y1="2348.2" x2="840.22" y2="2360.4" stroke="#000" stroke-width="1.4" stroke-linecap="butt"/>
<text x="840.22" y="2392" font-size="26.5" text-anchor="middle">9</text>
<line x1="917.51" y1="2348.2" x2="917.51" y2="2360.4" stroke="#000" stroke-width="1.4" stroke-linecap="butt"/>
<text x="917.51" y="2392" font-size="26.5" text-anchor="middle">10</text>
<line x1="994.8" y1="2348.2" x2="994.8" y2="2360.4" stroke="#000" stroke-width="1.4" stroke-linecap="butt"/>
<text x="994.8" y="2392" font-size="26.5" text-anchor="middle">11</text>
<line x1="1072.09" y1="2348.2" x2="1072.09" y2="2360.4" stroke="#000" stroke-width="1.4" stroke-linecap="butt"/>
<text x="1072.09" y="2392" font-size="26.5" text-anchor="middle">12</text>
<line x1="1149.38" y1="2348.2" x2="1149.38" y2="2360.4" stroke="#000" stroke-width="1.4" stroke-linecap="butt"/>
<text x="1149.38" y="2392" font-size="26.5" text-anchor="middle">13</text>
<line x1="1226.67" y1="2348.2" x2="1226.67" y2="2360.4" stroke="#000" stroke-width="1.4" stroke-linecap="butt"/>
<text x="1226.67" y="2392" font-size="26.5" text-anchor="middle">14</text>
<line x1="1303.96" y1="2348.2" x2="1303.96" y2="2360.4" stroke="#000" stroke-width="1.4" stroke-linecap="butt"/>
<text x="1303.96" y="2392" font-size="26.5" text-anchor="middle">15</text>
<line x1="1381.25" y1="2348.2" x2="1381.25" y2="2360.4" stroke="#000" stroke-width="1.4" stroke-linecap="butt"/>
<text x="1381.25" y="2392" font-size="26.5" text-anchor="middle">16</text>
<line x1="1458.54" y1="2348.2" x2="1458.54" y2="2360.4" stroke="#000" stroke-width="1.4" stroke-linecap="butt"/>
<text x="1458.54" y="2392" font-size="26.5" text-anchor="middle">17</text>
<line x1="1535.83" y1="2348.2" x2="1535.83" y2="2360.4" stroke="#000" stroke-width="1.4" stroke-linecap="butt"/>
<text x="1535.83" y="2392" font-size="26.5" text-anchor="middle">18</text>
<line x1="1613.12" y1="2348.2" x2="1613.12" y2="2360.4" stroke="#000" stroke-width="1.4" stroke-linecap="butt"/>
<text x="1613.12" y="2392" font-size="26.5" text-anchor="middle">19</text>
<line x1="1690.41" y1="2348.2" x2="1690.41" y2="2360.4" stroke="#000" stroke-width="1.4" stroke-linecap="butt"/>
<text x="1690.41" y="2392" font-size="26.5" text-anchor="middle">20</text>
<line x1="1767.7" y1="2348.2" x2="1767.7" y2="2360.4" stroke="#000" stroke-width="1.4" stroke-linecap="butt"/>
<text x="1767.7" y="2392" font-size="26.5" text-anchor="middle">21</text>
<line x1="1844.99" y1="2348.2" x2="1844.99" y2="2360.4" stroke="#000" stroke-width="1.4" stroke-linecap="butt"/>
<text x="1844.99" y="2392" font-size="26.5" text-anchor="middle">22</text>
<line x1="1922.28" y1="2348.2" x2="1922.28" y2="2360.4" stroke="#000" stroke-width="1.4" stroke-linecap="butt"/>
<text x="1922.28" y="2392" font-size="26.5" text-anchor="middle">23</text>
<text transform="translate(22.6,1806) rotate(-90)" x="0" y="0" font-size="27.1" text-anchor="middle">Position (Mb)</text>
<text x="1072.1" y="2433.5" font-size="27.1" text-anchor="middle">Chromosome</text>
<text x="1048" y="1304.5" font-size="27.1" text-anchor="middle">Map of inversion polymorphisms in <tspan font-style="italic">P. maniculatus</tspan> genome</text>
<text x="1051.7" y="1409.3" font-size="25" text-anchor="middle">Chromosome 7: multiple inversions</text>
<rect x="692.7" y="1429.6" width="729.5" height="97.6" fill="#fff" stroke="#000" stroke-width="1.4"/>
<rect x="846.13" y="1443.8" width="381.38" height="26.8" fill="#fad9a6" stroke="#b0285e" stroke-width="2.8"/>
<rect x="953.11" y="1487" width="276.53" height="26.8" fill="#fad9a6" stroke="#b0285e" stroke-width="2.8"/>
<text x="830.5" y="1464.8" font-size="25" text-anchor="end">69,560,702</text>
<text x="1239.8" y="1464.8" font-size="25" text-anchor="start">83,919,888</text>
<text x="940.8" y="1508.1" font-size="25" text-anchor="end">73,588,556</text>
<text x="1239.8" y="1508.1" font-size="25" text-anchor="start">84,000,122</text>
<line x1="725" y1="1527.2" x2="725" y2="1539.2" stroke="#000" stroke-width="1.4" stroke-linecap="butt"/>
<text x="725" y="1568.7" font-size="26.5" text-anchor="middle">65</text>
<line x1="857.8" y1="1527.2" x2="857.8" y2="1539.2" stroke="#000" stroke-width="1.4" stroke-linecap="butt"/>
<text x="857.8" y="1568.7" font-size="26.5" text-anchor="middle">70</text>
<line x1="990.6" y1="1527.2" x2="990.6" y2="1539.2" stroke="#000" stroke-width="1.4" stroke-linecap="butt"/>
<text x="990.6" y="1568.7" font-size="26.5" text-anchor="middle">75</text>
<line x1="1123.4" y1="1527.2" x2="1123.4" y2="1539.2" stroke="#000" stroke-width="1.4" stroke-linecap="butt"/>
<text x="1123.4" y="1568.7" font-size="26.5" text-anchor="middle">80</text>
<line x1="1256.2" y1="1527.2" x2="1256.2" y2="1539.2" stroke="#000" stroke-width="1.4" stroke-linecap="butt"/>
<text x="1256.2" y="1568.7" font-size="26.5" text-anchor="middle">85</text>
<line x1="1389" y1="1527.2" x2="1389" y2="1539.2" stroke="#000" stroke-width="1.4" stroke-linecap="butt"/>
<text x="1389" y="1568.7" font-size="26.5" text-anchor="middle">90</text>
<text x="1057.4" y="1607.8" font-size="25" text-anchor="middle">chr7 position (Mb)</text>
<text x="1750.7" y="1478.3" font-size="25" text-anchor="start">Identified</text>
<text x="1750.7" y="1507.7" font-size="25" text-anchor="start">breakpoint</text>
<rect x="1752.1" y="1534" width="43.5" height="42.6" fill="#fff" stroke="#f2a431" stroke-width="2.8"/>
<rect x="1752.1" y="1590.2" width="43.5" height="42.6" fill="#fff" stroke="#b0285e" stroke-width="2.8"/>
<text x="1809.8" y="1564.7" font-size="25" text-anchor="start">No</text>
<text x="1809.8" y="1621" font-size="25" text-anchor="start">Yes</text>
<circle cx="1773.6" cy="1710.6" r="7.2" fill="#000"/>
<text x="1809.8" y="1685.3" font-size="25" text-anchor="start">Centromere</text>
<text x="1809.8" y="1715.4" font-size="25" text-anchor="start">satellite</text>
<text x="1809.8" y="1744.7" font-size="25" text-anchor="start">sequence</text>
</svg>
</body></html>
